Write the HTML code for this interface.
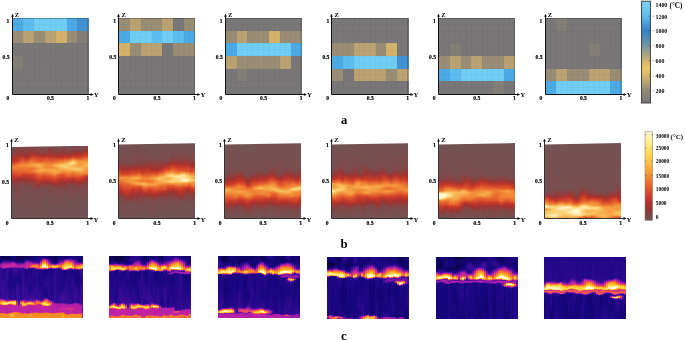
<!DOCTYPE html>
<html><head><meta charset="utf-8"><style>
html,body{margin:0;padding:0;background:#fff;width:685px;height:340px;overflow:hidden;position:relative}
svg{display:block;position:absolute;left:0;top:0;will-change:transform}
.im{position:absolute;display:flex}
.im i{display:block;width:var(--w);height:100%;flex:none}
</style></head><body>
<div class="im" style="left:12px;top:146px;width:76px;height:72px;--w:2px;clip-path:polygon(0 1.10px,76px -0.20px,76px 100%,0 100%);"><i style="background:linear-gradient(#725355 0px,#814647 7.5px,#a1302e 10.5px,#b2332b 12.5px,#bd352a 15.5px,#d64829 17.5px,#ef7e33 20.5px,#f07f34 22.5px,#e35b2b 25.5px,#ca3928 30.5px,#9b3432 34.5px,#844444 38.5px,#725355 57.5px,#725355 72px)"></i><i style="background:linear-gradient(#725355 0px,#884141 7.5px,#af332c 11.5px,#c33629 15.5px,#e6622c 18.5px,#f08235 20.5px,#ed7430 23.5px,#c83728 30.5px,#9a3533 34.5px,#7f4849 41.5px,#725355 63.5px,#725355 72px)"></i><i style="background:linear-gradient(#764f51 0px,#953837 8.5px,#bc352a 13.5px,#cb3b28 15.5px,#f07e33 19.5px,#ef7b32 22.5px,#d24329 29.5px,#a1302e 33.5px,#824646 39.5px,#725355 64.5px,#725355 72px)"></i><i style="background:linear-gradient(#794d4f 0px,#973635 8.5px,#c33629 12.5px,#d64829 15.5px,#f18636 19.5px,#e55f2c 26.5px,#c93828 30.5px,#9d3230 33.5px,#804748 39.5px,#725355 65.5px,#725355 72px)"></i><i style="background:linear-gradient(#784e4f 0px,#903b3a 6.5px,#ac322c 9.5px,#d54729 13.5px,#e7632d 16.5px,#f18938 19.5px,#e55e2c 26.5px,#c73728 30.5px,#9d3231 33.5px,#7e494a 38.5px,#725355 61.5px,#725355 72px)"></i><i style="background:linear-gradient(#794e4f 0px,#8f3c3c 6.5px,#ab322c 9.5px,#d04129 12.5px,#f18636 18.5px,#f18436 20.5px,#e7652d 25.5px,#c73828 29.5px,#9e3230 33.5px,#7b4c4d 39.5px,#725355 69.5px,#725355 72px)"></i><i style="background:linear-gradient(#7c4a4b 0px,#8f3c3b 8.5px,#b2332b 11.5px,#d94c29 14.5px,#f18837 18.5px,#f18737 20.5px,#e8672d 25.5px,#c43629 29.5px,#9c3331 34.5px,#7c4b4c 40.5px,#725355 65.5px,#725355 72px)"></i><i style="background:linear-gradient(#804748 0px,#963736 9.5px,#c83828 13.5px,#ef7c32 17.5px,#f3913b 19.5px,#ed7530 23.5px,#e55f2c 26.5px,#c83828 29.5px,#983634 35.5px,#7b4c4d 40.5px,#725355 72px)"></i><i style="background:linear-gradient(#7d4a4b 0px,#a7312d 9.5px,#cd3d28 12.5px,#f18737 17.5px,#f4973e 19.5px,#ed7430 22.5px,#ea6d2e 25.5px,#ca3928 29.5px,#ab322c 33.5px,#804748 38.5px,#725355 51.5px,#725355 72px)"></i><i style="background:linear-gradient(#7a4d4e 0px,#943938 6.5px,#b3332b 9.5px,#d94b29 12.5px,#f3913b 17.5px,#f59d40 19.5px,#ed7430 22.5px,#ed732f 25.5px,#cd3d28 29.5px,#b4342b 32.5px,#913b3a 35.5px,#7a4d4e 40.5px,#725355 72px)"></i><i style="background:linear-gradient(#784e4f 0px,#8b3f3f 5.5px,#a2302e 7.5px,#d44629 11.5px,#ed732f 15.5px,#f6a041 18.5px,#f6a344 19.5px,#ee7831 22.5px,#ef7b32 25.5px,#cd3d28 29.5px,#9e3230 34.5px,#7e494a 40.5px,#725355 65.5px,#725355 72px)"></i><i style="background:linear-gradient(#7d4a4b 0px,#8f3c3b 5.5px,#b1332b 8.5px,#da4d29 12.5px,#ea6c2e 15.5px,#f6a545 18.5px,#f7ab4b 19.5px,#f08335 22.5px,#f28b39 24.5px,#f18637 25.5px,#da4d29 28.5px,#af332c 34.5px,#874242 40.5px,#735254 49.5px,#725355 72px)"></i><i style="background:linear-gradient(#7d4a4b 0px,#913b3a 6.5px,#b3332b 9.5px,#dc4f2a 13.5px,#e6632c 15.5px,#f7a848 18.5px,#f8b151 19.5px,#f3903b 22.5px,#f59c40 24.5px,#f4953d 25.5px,#e35a2b 28.5px,#bc352a 34.5px,#983634 38.5px,#794d4f 44.5px,#725355 72px)"></i><i style="background:linear-gradient(#774f50 0px,#864343 5.5px,#a5312d 8.5px,#d44629 12.5px,#e45e2c 15.5px,#f28f3a 17.5px,#f7a848 18.5px,#f8b252 19.5px,#f59c40 22.5px,#f7a949 24.5px,#f28c39 26.5px,#e45d2c 29.5px,#c43629 34.5px,#963736 38.5px,#794d4f 44.5px,#725355 72px)"></i><i style="background:linear-gradient(#755152 0px,#8c3f3e 6.5px,#ac322c 9.5px,#d24329 12.5px,#e35a2b 15.5px,#f6a142 18.5px,#f7ab4b 19.5px,#f6a242 22.5px,#f7aa4a 24.5px,#e55f2c 29.5px,#c23629 34.5px,#973635 37.5px,#7a4c4e 42.5px,#725355 72px)"></i><i style="background:linear-gradient(#764f51 0px,#854343 6.5px,#a3312d 9.5px,#c63728 11.5px,#ec702f 16.5px,#f4973e 18.5px,#f6a444 24.5px,#e1562a 29.5px,#c33629 33.5px,#973735 36.5px,#7d4a4b 40.5px,#725355 60.5px,#725355 72px)"></i><i style="background:linear-gradient(#764f51 0px,#854343 6.5px,#a8312d 9.5px,#d74929 12.5px,#f28c39 18.5px,#f3923b 21.5px,#f6a242 23.5px,#f4953d 25.5px,#d74929 30.5px,#b6342b 34.5px,#913b3a 37.5px,#774f50 43.5px,#725355 72px)"></i><i style="background:linear-gradient(#765051 0px,#8c3f3e 6.5px,#ad322c 9.5px,#d84a29 12.5px,#f18436 18.5px,#f28b38 21.5px,#f6a141 24.5px,#ee7831 27.5px,#db4e2a 30.5px,#bd352a 34.5px,#9e312f 36.5px,#814647 39.5px,#725355 50.5px,#725355 72px)"></i><i style="background:linear-gradient(#7a4c4d 0px,#a4312d 8.5px,#ca3928 11.5px,#e7652d 15.5px,#f28a38 19.5px,#f18837 21.5px,#f6a444 24.5px,#f28d3a 26.5px,#dc4f2a 30.5px,#ca3928 33.5px,#9a3433 36.5px,#7f4848 39.5px,#725355 58.5px,#725355 72px)"></i><i style="background:linear-gradient(#7a4c4d 0px,#a6312d 9.5px,#d04029 12.5px,#ee7730 17.5px,#f3943c 19.5px,#f28a38 21.5px,#f7a949 24.5px,#f18637 27.5px,#df522a 30.5px,#cb3a28 33.5px,#9c3331 36.5px,#7f4849 40.5px,#725355 68.5px,#725355 72px)"></i><i style="background:linear-gradient(#755153 0px,#8f3c3c 6.5px,#a7312d 9.5px,#d04129 12.5px,#ef7d33 17.5px,#f6a143 19.5px,#f38f3a 21.5px,#f3903a 22.5px,#f7ab4b 24.5px,#f4953d 27.5px,#e45d2b 30.5px,#c93928 34.5px,#9b3332 37.5px,#7e494a 41.5px,#725355 62.5px,#725355 72px)"></i><i style="background:linear-gradient(#755152 0px,#913b3a 6.5px,#aa322d 9.5px,#c63728 11.5px,#ee7630 16.5px,#f8af4f 19.5px,#f3943c 22.5px,#f7ab4b 24.5px,#f59d40 27.5px,#e55f2c 30.5px,#c23629 35.5px,#9a3433 38.5px,#7c4a4b 42.5px,#725355 63.5px,#725355 72px)"></i><i style="background:linear-gradient(#784e50 0px,#943937 6.5px,#b5342b 10.5px,#d04029 12.5px,#ef7d33 16.5px,#f9b959 19.5px,#f59b3f 22.5px,#f7a747 25.5px,#f3943c 27.5px,#e6622c 29.5px,#c63729 34.5px,#9b3432 38.5px,#7f4849 42.5px,#725355 61.5px,#725355 72px)"></i><i style="background:linear-gradient(#745253 0px,#874242 6.5px,#a4312d 9.5px,#c33629 11.5px,#e8672d 14.5px,#f59b3f 17.5px,#fac262 19.5px,#f6a545 23.5px,#f4993e 26.5px,#e1562a 29.5px,#b5342b 34.5px,#993534 37.5px,#7b4c4d 43.5px,#725355 72px)"></i><i style="background:linear-gradient(#745253 0px,#884141 6.5px,#ae332c 10.5px,#d04129 12.5px,#ef7e33 15.5px,#f6a041 17.5px,#fbca6a 19.5px,#fabf5f 21.5px,#f6a041 24.5px,#f28e3a 26.5px,#e55f2c 28.5px,#c93828 32.5px,#9b3432 36.5px,#7c4a4b 42.5px,#725355 68.5px,#725355 72px)"></i><i style="background:linear-gradient(#7a4c4d 0px,#903b3a 5.5px,#ab322c 9.5px,#c23629 11.5px,#ea6c2e 14.5px,#f6a444 17.5px,#fccf6f 19.5px,#fcd172 20.5px,#f59b3f 24.5px,#f08034 26.5px,#e1562a 28.5px,#c93928 32.5px,#9f312f 36.5px,#7d4a4b 44.5px,#725355 65.5px,#725355 72px)"></i><i style="background:linear-gradient(#7b4c4d 0px,#8d3d3d 5.5px,#a8312d 8.5px,#cb3b28 11.5px,#ee7730 14.5px,#f8b050 17.5px,#fcce6e 19.5px,#fccc6c 21.5px,#f59c40 24.5px,#eb6e2f 27.5px,#e0552a 29.5px,#cc3c28 32.5px,#9f312f 36.5px,#7a4c4e 45.5px,#725355 72px)"></i><i style="background:linear-gradient(#755153 0px,#884141 6.5px,#aa322d 9.5px,#c93828 11.5px,#ed7530 14.5px,#f7a747 16.5px,#fbc868 18.5px,#fbca6a 21.5px,#f4993e 25.5px,#e7652d 29.5px,#cd3d28 32.5px,#9f322f 35.5px,#844444 39.5px,#725355 57.5px,#725355 72px)"></i><i style="background:linear-gradient(#755152 0px,#864242 6.5px,#a6312d 9.5px,#c93928 11.5px,#ef7b32 14.5px,#f49a3f 15.5px,#fccd6e 17.5px,#fcd070 18.5px,#fac363 20.5px,#fac161 22.5px,#f28b38 26.5px,#e45c2b 30.5px,#c93928 32.5px,#9c3331 35.5px,#834545 38.5px,#725355 57.5px,#725355 72px)"></i><i style="background:linear-gradient(#774f51 0px,#844444 5.5px,#a1312e 8.5px,#c43629 10.5px,#e2592b 12.5px,#f3943c 14.5px,#fccf72 16.5px,#fddb8a 17.5px,#fac161 19.5px,#f9bc5c 23.5px,#f18536 26.5px,#e2572a 30.5px,#c73728 32.5px,#a0302e 35.5px,#824546 39.5px,#725355 54.5px,#725355 72px)"></i><i style="background:linear-gradient(#7a4c4d 0px,#8b3f3f 5.5px,#ab322c 8.5px,#cf3f29 10.5px,#e9682d 12.5px,#f7a949 14.5px,#fdd883 16.5px,#fddc8d 17.5px,#f9b858 19.5px,#f9b656 20.5px,#fbc666 22.5px,#fac161 23.5px,#f3943c 25.5px,#ec722f 27.5px,#dd502a 30.5px,#c03629 32.5px,#9b3332 35.5px,#7f4849 39.5px,#725355 62.5px,#725355 72px)"></i><i style="background:linear-gradient(#7d4a4b 0px,#8c3e3e 5.5px,#a9322d 8.5px,#cb3b28 10.5px,#e45d2c 12.5px,#f59f41 14.5px,#f9ba5a 15.5px,#fbc969 16.5px,#fbca6a 17.5px,#f7aa4a 19.5px,#f9bd5d 21.5px,#fbc767 22.5px,#fac464 23.5px,#f4973d 25.5px,#ee7831 27.5px,#e96a2e 29.5px,#cb3b28 32.5px,#a4312d 35.5px,#814647 39.5px,#725355 61.5px,#725355 72px)"></i><i style="background:linear-gradient(#794d4e 0px,#8c3e3d 5.5px,#aa322c 8.5px,#c83828 10.5px,#df532a 12.5px,#f6a445 15.5px,#f8ae4e 17.5px,#f59e41 19.5px,#f9b858 21.5px,#fbc767 22.5px,#fbc969 23.5px,#f6a243 25.5px,#f08335 27.5px,#e2582a 30.5px,#c03629 33.5px,#9c3331 36.5px,#824646 40.5px,#725355 56.5px,#725355 72px)"></i><i style="background:linear-gradient(#755052 0px,#834545 4.5px,#a8312d 7.5px,#d34529 11.5px,#e8682d 13.5px,#f4983e 15.5px,#f59d40 17.5px,#f59a3f 19.5px,#f8b353 21.5px,#fbc868 23.5px,#f4993e 26.5px,#ea6b2e 29.5px,#ce3e28 32.5px,#a2302e 36.5px,#814647 41.5px,#725355 52.5px,#725355 72px)"></i><i style="background:linear-gradient(#745254 0px,#804848 4.5px,#a4312d 7.5px,#cb3b28 10.5px,#df532a 12.5px,#f4983e 15.5px,#f59e40 19.5px,#fac060 23.5px,#f28c39 27.5px,#de512a 30.5px,#b7342b 34.5px,#953837 37.5px,#7f4849 41.5px,#725355 57.5px,#725355 72px)"></i><i style="background:linear-gradient(#784e50 0px,#894040 4.5px,#aa322c 7.5px,#c43629 9.5px,#ea6d2e 13.5px,#f4983e 15.5px,#f7a949 20.5px,#f8b252 23.5px,#f18737 27.5px,#d74929 30.5px,#be3529 33.5px,#9a3433 36.5px,#804747 40.5px,#725355 61.5px,#725355 72px)"></i><i style="background:linear-gradient(#7c4b4c 0px,#8a403f 3.5px,#a6312d 5.5px,#ce3e28 9.5px,#e9682e 12.5px,#f18837 14.5px,#f59c3f 15.5px,#f7a848 18.5px,#f8b454 19.5px,#f6a344 22.5px,#f59d40 24.5px,#f08335 27.5px,#d04029 30.5px,#ae322c 33.5px,#874242 37.5px,#745253 50.5px,#725355 72px)"></i><i style="background:linear-gradient(#784e50 0px,#844444 3.5px,#a5312d 5.5px,#cf3f29 9.5px,#e9692e 12.5px,#f18436 14.5px,#f6a444 16.5px,#f7ac4c 18.5px,#f9ba5a 19.5px,#f6a142 21.5px,#f28c39 26.5px,#f08034 27.5px,#c63728 30.5px,#9a3533 33.5px,#824646 36.5px,#725355 59.5px,#725355 72px)"></i></div><div class="im" style="left:119px;top:143px;width:76px;height:76px;--w:2px;clip-path:polygon(0 1.50px,76px 0.20px,76px 100%,0 100%);"><i style="background:linear-gradient(#725355 0px,#804748 19.5px,#a4312d 24.5px,#d14229 29.5px,#dc4f2a 31.5px,#f28d39 34.5px,#f38f3a 35.5px,#e35a2b 40.5px,#c83728 45.5px,#9e312f 50.5px,#7e4949 54.5px,#725355 76px)"></i><i style="background:linear-gradient(#725355 0px,#7f4849 19.5px,#a6312d 26.5px,#d04029 30.5px,#e55e2c 32.5px,#f28e3a 34.5px,#f3913b 35.5px,#e2572a 41.5px,#bd352a 47.5px,#a2312e 50.5px,#824646 53.5px,#735354 70.5px,#725355 76px)"></i><i style="background:linear-gradient(#725355 0px,#7e494a 20.5px,#a4312d 26.5px,#cb3a28 29.5px,#d94c29 31.5px,#f28e3a 34.5px,#f28b39 36.5px,#e2582b 42.5px,#be352a 49.5px,#983634 52.5px,#7c4a4b 57.5px,#725355 76px)"></i><i style="background:linear-gradient(#725355 0px,#7d4a4b 19.5px,#9e312f 25.5px,#cc3c28 29.5px,#da4c29 31.5px,#f28d3a 34.5px,#f18737 38.5px,#e5602c 41.5px,#d24329 46.5px,#b9342a 50.5px,#953837 54.5px,#794d4e 60.5px,#725355 76px)"></i><i style="background:linear-gradient(#725355 0px,#7f4849 20.5px,#a7312d 26.5px,#d04129 30.5px,#e55f2c 32.5px,#f28e3a 34.5px,#f3913b 38.5px,#e6632d 41.5px,#c73728 48.5px,#973635 54.5px,#794d4e 60.5px,#725355 76px)"></i><i style="background:linear-gradient(#725355 0px,#7c4b4c 20.5px,#9e3230 25.5px,#cf4029 29.5px,#dc4f2a 31.5px,#f3933c 34.5px,#f4973e 38.5px,#e6612c 42.5px,#c83828 47.5px,#9b3332 53.5px,#784e50 60.5px,#725355 76px)"></i><i style="background:linear-gradient(#725355 0px,#7d4a4b 20.5px,#963736 24.5px,#ba352a 27.5px,#e0542a 31.5px,#f59b3f 34.5px,#f6a243 35.5px,#f4963d 39.5px,#da4c29 44.5px,#c43629 46.5px,#9b3332 52.5px,#764f51 60.5px,#725355 76px)"></i><i style="background:linear-gradient(#725355 0px,#7d4a4a 19.5px,#9e3230 24.5px,#c93828 28.5px,#e1552a 31.5px,#f6a041 34.5px,#f7a949 35.5px,#f4963d 37.5px,#f59e40 39.5px,#f4973e 40.5px,#e1552a 43.5px,#c13629 46.5px,#993534 53.5px,#765051 61.5px,#725355 76px)"></i><i style="background:linear-gradient(#725355 0px,#834545 20.5px,#ac322c 26.5px,#d04129 29.5px,#e45b2b 31.5px,#f7a747 34.5px,#f7ad4d 35.5px,#f3903b 37.5px,#f6a041 40.5px,#f3903b 41.5px,#e35a2b 43.5px,#c93928 46.5px,#9a3433 52.5px,#765052 61.5px,#725355 76px)"></i><i style="background:linear-gradient(#725355 0px,#874242 20.5px,#a7312d 25.5px,#cd3e28 28.5px,#e9692e 31.5px,#f7a747 34.5px,#f7a848 35.5px,#f18837 37.5px,#f6a444 40.5px,#f4953d 41.5px,#e2582b 43.5px,#c73728 46.5px,#993533 51.5px,#764f51 61.5px,#725355 76px)"></i><i style="background:linear-gradient(#725355 0px,#7f4949 18.5px,#a1302e 24.5px,#cc3c28 28.5px,#e6622c 31.5px,#f59a3f 34.5px,#f59c40 35.5px,#f08134 37.5px,#f18637 38.5px,#f7a646 40.5px,#f4993e 41.5px,#e35a2b 43.5px,#c63728 46.5px,#9b3332 50.5px,#824646 55.5px,#725355 72.5px,#725355 76px)"></i><i style="background:linear-gradient(#725355 0px,#7e494a 19.5px,#a4312d 25.5px,#cb3a28 29.5px,#e7632d 32.5px,#f18737 34.5px,#f38f3a 35.5px,#ef7c32 37.5px,#f08235 38.5px,#f8ae4e 40.5px,#f7a848 41.5px,#eb6d2e 43.5px,#da4d29 45.5px,#b9342a 48.5px,#933938 52.5px,#7a4c4d 59.5px,#725355 76px)"></i><i style="background:linear-gradient(#725355 0px,#7f4849 18.5px,#a0302e 24.5px,#cc3b28 29.5px,#ef7c33 34.5px,#f18737 35.5px,#ef7a31 37.5px,#ef7e33 38.5px,#f8b050 40.5px,#f8b151 41.5px,#eb6e2f 44.5px,#ca3928 48.5px,#a3312d 51.5px,#824646 55.5px,#725355 71.5px,#725355 76px)"></i><i style="background:linear-gradient(#725355 0px,#7d4a4b 17.5px,#913b3a 22.5px,#ac322c 25.5px,#d24329 29.5px,#f18436 35.5px,#ef7a32 38.5px,#f7a747 40.5px,#f8ae4e 41.5px,#e55f2c 45.5px,#c03629 49.5px,#963736 52.5px,#7d494a 56.5px,#725355 76px)"></i><i style="background:linear-gradient(#725355 0px,#7b4b4c 16.5px,#9a3433 22.5px,#ca3a28 28.5px,#ef7c32 34.5px,#f18536 35.5px,#ee7630 38.5px,#f59d40 40.5px,#f6a444 41.5px,#f07f33 43.5px,#d54729 46.5px,#b9342a 49.5px,#933938 52.5px,#7b4c4d 58.5px,#725355 76px)"></i><i style="background:linear-gradient(#725355 0px,#7c4a4b 17.5px,#9a3432 23.5px,#b8342a 27.5px,#e2572a 31.5px,#f28c39 35.5px,#ee7630 38.5px,#f59f41 41.5px,#f3903b 42.5px,#db4d29 45.5px,#c83728 47.5px,#9c3332 51.5px,#7d4a4a 56.5px,#725355 76px)"></i><i style="background:linear-gradient(#725355 0px,#7a4c4d 15.5px,#a7312d 26.5px,#cf4029 29.5px,#f07f34 33.5px,#f4963d 35.5px,#ef7d33 38.5px,#f59f41 41.5px,#f3913b 42.5px,#de512a 45.5px,#c73828 48.5px,#9d3331 52.5px,#7c4a4b 57.5px,#725355 76px)"></i><i style="background:linear-gradient(#725355 0px,#7a4c4d 15.5px,#a7312d 25.5px,#b4332b 27.5px,#dc4e2a 30.5px,#f59b3f 34.5px,#f6a243 35.5px,#f28a38 38.5px,#f6a041 41.5px,#e35b2b 45.5px,#c83728 49.5px,#9e3130 53.5px,#7e494a 58.5px,#725355 76px)"></i><i style="background:linear-gradient(#735354 0px,#7a4c4e 16.5px,#a2312e 26.5px,#cd3d28 29.5px,#eb6e2f 32.5px,#f6a242 34.5px,#f8af4f 35.5px,#f4983e 38.5px,#f59d40 41.5px,#e96a2e 44.5px,#c13629 49.5px,#9c3331 52.5px,#7e494a 57.5px,#725355 76px)"></i><i style="background:linear-gradient(#735254 0px,#794d4e 16.5px,#a4312d 26.5px,#c13629 28.5px,#e6612c 31.5px,#f3943c 33.5px,#f8af4f 34.5px,#fabe5e 35.5px,#f6a142 39.5px,#f4953d 41.5px,#e8672d 44.5px,#ca3a28 48.5px,#a0302e 51.5px,#7f4949 55.5px,#735355 69.5px,#725355 76px)"></i><i style="background:linear-gradient(#725355 0px,#794d4e 16.5px,#a8312d 25.5px,#ce3e28 28.5px,#ed7430 31.5px,#f6a545 33.5px,#f9bd5d 34.5px,#fbc666 35.5px,#f59b3f 40.5px,#e9682d 43.5px,#da4d29 46.5px,#b8342a 49.5px,#943837 52.5px,#794d4e 56.5px,#725355 76px)"></i><i style="background:linear-gradient(#725355 0px,#7a4c4e 16.5px,#a8312d 24.5px,#c73828 27.5px,#ea6c2e 30.5px,#f3933c 32.5px,#fabf5f 34.5px,#fabd5d 36.5px,#f7a949 39.5px,#e7652d 43.5px,#d94b29 46.5px,#be352a 48.5px,#993533 51.5px,#7c4b4b 55.5px,#725355 74.5px,#725355 76px)"></i><i style="background:linear-gradient(#725355 0px,#794d4e 16.5px,#a6312d 22.5px,#cc3c28 26.5px,#e1562a 28.5px,#f6a345 32.5px,#f9b959 33.5px,#fac060 34.5px,#f9b757 38.5px,#f4973e 40.5px,#eb6e2f 42.5px,#da4c29 46.5px,#bb352a 48.5px,#983534 51.5px,#7e494a 55.5px,#725355 71.5px,#725355 76px)"></i><i style="background:linear-gradient(#725355 0px,#784e50 17.5px,#953836 21.5px,#b0332c 23.5px,#d24329 26.5px,#e8662d 28.5px,#f4963d 30.5px,#f6a545 31.5px,#fbc767 33.5px,#f8b050 35.5px,#f9bb5b 38.5px,#f4973d 40.5px,#e96a2e 42.5px,#d64829 46.5px,#b9342a 48.5px,#963736 52.5px,#7a4c4e 58.5px,#725355 76px)"></i><i style="background:linear-gradient(#725355 0px,#7a4d4e 17.5px,#9a3533 21.5px,#ce3f29 25.5px,#e2572a 27.5px,#f6a445 30.5px,#fbcc6c 32.5px,#fcd071 33.5px,#f7ac4c 35.5px,#fac161 37.5px,#fac060 38.5px,#f8af4f 39.5px,#ed7430 41.5px,#dd502a 43.5px,#c33729 46.5px,#9b3432 49.5px,#7a4c4d 58.5px,#725355 76px)"></i><i style="background:linear-gradient(#725355 0px,#7e494a 15.5px,#ab322c 21.5px,#d64729 25.5px,#e6612c 27.5px,#f8ae4e 30.5px,#fcd57d 32.5px,#fcd57c 33.5px,#fac060 34.5px,#f8b151 35.5px,#fbc969 37.5px,#fbca6a 38.5px,#f9b858 39.5px,#f4973d 40.5px,#e55f2c 42.5px,#bd352a 46.5px,#943937 49.5px,#7a4d4e 56.5px,#725355 76px)"></i><i style="background:linear-gradient(#735354 0px,#804748 14.5px,#aa322c 20.5px,#ce3f29 23.5px,#ea6b2e 27.5px,#f8af4f 30.5px,#fdd782 32.5px,#fdd987 33.5px,#fbca6a 34.5px,#fabf5f 35.5px,#fcd376 38.5px,#fabf5f 39.5px,#f59b3f 40.5px,#e7632d 42.5px,#cb3b28 45.5px,#9c3331 48.5px,#7b4b4c 55.5px,#725355 76px)"></i><i style="background:linear-gradient(#735254 0px,#804748 14.5px,#ab322c 20.5px,#cf3f29 23.5px,#e96b2e 27.5px,#f7a747 30.5px,#fcd67e 32.5px,#fdde92 33.5px,#fcce70 35.5px,#fccf6f 36.5px,#fcd57b 37.5px,#fcd47a 38.5px,#fabf5f 39.5px,#f59c40 40.5px,#e7652d 42.5px,#c73728 45.5px,#9b3432 48.5px,#794d4e 57.5px,#725355 76px)"></i><i style="background:linear-gradient(#725355 0px,#7e4949 14.5px,#a2312e 20.5px,#d04129 24.5px,#eb6e2e 28.5px,#f59a3f 30.5px,#f9b555 31.5px,#fcd479 32.5px,#fde19a 33.5px,#fdd986 35.5px,#fcd47b 36.5px,#fcd275 38.5px,#f59e40 40.5px,#e45c2b 43.5px,#c63828 46.5px,#9d3231 50.5px,#7d4a4b 56.5px,#725355 74.5px,#725355 76px)"></i><i style="background:linear-gradient(#725355 0px,#7f4949 15.5px,#9c3331 20.5px,#cb3a28 24.5px,#de522a 27.5px,#f3943c 30.5px,#f8b454 31.5px,#fcd47b 32.5px,#fee39f 33.5px,#fee4a2 34.5px,#fcd173 38.5px,#f6a142 40.5px,#df532a 44.5px,#c33629 47.5px,#9b3432 51.5px,#7d4a4b 56.5px,#725355 76px)"></i><i style="background:linear-gradient(#725355 0px,#7f4849 14.5px,#a3302e 20.5px,#cd3d28 24.5px,#df522a 27.5px,#ef7e33 29.5px,#f59d40 30.5px,#fddb8b 32.5px,#fee5a4 33.5px,#fde098 37.5px,#fcd47b 38.5px,#f59e40 40.5px,#e0532a 44.5px,#c63728 47.5px,#963736 52.5px,#764f51 59.5px,#725355 76px)"></i><i style="background:linear-gradient(#725355 0px,#814647 14.5px,#a8312d 21.5px,#cc3c28 24.5px,#e1552a 27.5px,#e96a2e 28.5px,#f8af4f 30.5px,#fcd173 31.5px,#fde29d 32.5px,#fee6a6 33.5px,#fee39f 34.5px,#feeeb9 36.5px,#feedb7 37.5px,#fddc8d 38.5px,#f9bc5c 39.5px,#f49a3f 40.5px,#dd502a 44.5px,#c53628 47.5px,#993534 53.5px,#774f50 59.5px,#725355 76px)"></i><i style="background:linear-gradient(#725355 0px,#824546 16.5px,#a4312d 21.5px,#cc3c28 24.5px,#df532a 27.5px,#e9682d 28.5px,#f28c39 29.5px,#fcd276 31.5px,#fde199 32.5px,#fde098 34.5px,#fff6cc 36.5px,#fff6cd 37.5px,#fde39e 38.5px,#fac060 39.5px,#f4983e 40.5px,#eb6f2f 42.5px,#ca3a28 45.5px,#9b3332 51.5px,#765051 59.5px,#725355 76px)"></i><i style="background:linear-gradient(#725355 0px,#7e494a 14.5px,#a0312f 20.5px,#ce3e28 24.5px,#db4e2a 27.5px,#e55f2c 28.5px,#f6a545 30.5px,#fcd47b 32.5px,#fdda88 34.5px,#fee4a1 35.5px,#fff4c7 36.5px,#fff5ca 37.5px,#fde098 38.5px,#fabd5d 39.5px,#f4953d 40.5px,#ef7a32 41.5px,#e3592b 43.5px,#c03629 45.5px,#983635 49.5px,#755152 58.5px,#725355 76px)"></i><i style="background:linear-gradient(#725355 0px,#7c4b4c 13.5px,#983634 18.5px,#b9342a 22.5px,#d84a29 25.5px,#dc4f2a 27.5px,#e45d2b 28.5px,#f4993e 30.5px,#fac464 32.5px,#fcd275 34.5px,#fddb8b 35.5px,#feeab0 36.5px,#feebb2 37.5px,#fcd57c 38.5px,#f8ae4e 39.5px,#f18938 40.5px,#e6602c 42.5px,#cb3b28 44.5px,#a3312e 47.5px,#834545 52.5px,#735254 63.5px,#725355 76px)"></i><i style="background:linear-gradient(#725355 0px,#804748 15.5px,#a7312d 22.5px,#cc3c28 25.5px,#db4e2a 28.5px,#f4963d 31.5px,#fac464 33.5px,#fccd6d 35.5px,#fddc8d 36.5px,#fddc8d 37.5px,#f59e40 39.5px,#ea6c2e 41.5px,#cd3d28 44.5px,#a1312e 48.5px,#834545 53.5px,#735254 64.5px,#725355 76px)"></i><i style="background:linear-gradient(#725355 0px,#7f4849 16.5px,#993534 22.5px,#cb3b28 26.5px,#d74929 28.5px,#f28a38 31.5px,#f9b959 33.5px,#f9ba5a 35.5px,#fccd6e 36.5px,#fccf70 37.5px,#f59e41 39.5px,#e55e2c 43.5px,#cd3d28 45.5px,#a6312d 48.5px,#834445 52.5px,#735354 67.5px,#725355 76px)"></i><i style="background:linear-gradient(#725355 0px,#804747 17.5px,#953836 21.5px,#b3332b 23.5px,#d24329 25.5px,#e0542a 28.5px,#ef7d33 30.5px,#f59c40 32.5px,#f8b050 33.5px,#f7ad4d 35.5px,#fac060 36.5px,#fac363 37.5px,#f59e40 39.5px,#ef7c32 42.5px,#de512a 44.5px,#c43629 47.5px,#983635 50.5px,#7e494a 56.5px,#725355 76px)"></i></div><div class="im" style="left:225px;top:143px;width:76px;height:76px;--w:2px;clip-path:polygon(0 1.50px,76px 0.20px,76px 100%,0 100%);"><i style="background:linear-gradient(#725355 0px,#7a4c4d 32.5px,#923a39 36.5px,#b2332b 39.5px,#da4d29 42.5px,#ee7730 44.5px,#f7ad4d 46.5px,#f8b151 47.5px,#ef7e33 51.5px,#d34429 57.5px,#af332c 61.5px,#854343 66.5px,#725355 76px)"></i><i style="background:linear-gradient(#725355 0px,#7a4d4e 29.5px,#9f3230 37.5px,#cc3c28 41.5px,#ee7831 44.5px,#f7ab4b 46.5px,#f6a444 48.5px,#ef7b32 51.5px,#cf3f29 57.5px,#9e3230 62.5px,#7e494a 67.5px,#725355 76px)"></i><i style="background:linear-gradient(#725355 0px,#7b4b4c 28.5px,#a5312d 36.5px,#cd3d28 41.5px,#e45d2b 43.5px,#f3933c 45.5px,#f6a444 46.5px,#f3923c 49.5px,#dc4f2a 55.5px,#be3529 58.5px,#943938 62.5px,#7e4949 66.5px,#735354 76px)"></i><i style="background:linear-gradient(#725355 0px,#794d4e 28.5px,#a4312d 36.5px,#cf3f29 41.5px,#ed7430 44.5px,#f59a3f 46.5px,#f3903b 49.5px,#e6612c 54.5px,#c23629 58.5px,#a0312f 61.5px,#814647 65.5px,#735254 76px)"></i><i style="background:linear-gradient(#725355 0px,#784e4f 29.5px,#993533 35.5px,#cb3a28 40.5px,#e7652d 43.5px,#f3933c 46.5px,#f3933c 49.5px,#ee7831 53.5px,#c63728 58.5px,#973635 62.5px,#804748 66.5px,#735254 76px)"></i><i style="background:linear-gradient(#725355 0px,#7a4c4d 28.5px,#a6312d 35.5px,#cd3d28 39.5px,#e6622c 42.5px,#f08134 44.5px,#f59d40 48.5px,#ef7931 53.5px,#cd3e28 57.5px,#a1302e 61.5px,#844444 64.5px,#735254 76px)"></i><i style="background:linear-gradient(#725355 0px,#794e4f 26.5px,#aa322d 34.5px,#cb3a28 38.5px,#eb6e2f 42.5px,#f18637 44.5px,#f18938 46.5px,#f6a343 48.5px,#f3933c 50.5px,#df522a 55.5px,#c83828 57.5px,#993533 61.5px,#804748 64.5px,#725355 76px)"></i><i style="background:linear-gradient(#725355 0px,#784e4f 26.5px,#9f312f 33.5px,#c93828 38.5px,#e45c2b 41.5px,#f18436 43.5px,#f18436 46.5px,#f6a646 48.5px,#f3933c 50.5px,#e2582b 54.5px,#c03629 57.5px,#a4312d 60.5px,#824646 63.5px,#725355 76px)"></i><i style="background:linear-gradient(#725355 0px,#7a4c4d 27.5px,#923a39 32.5px,#ae332c 35.5px,#c83728 38.5px,#e1562a 41.5px,#ef7d33 43.5px,#f08134 46.5px,#f6a343 48.5px,#f3933c 50.5px,#e1562a 54.5px,#bf3529 57.5px,#9c3331 61.5px,#7f4848 65.5px,#735254 76px)"></i><i style="background:linear-gradient(#725355 0px,#7c4b4c 28.5px,#923a39 33.5px,#b5342b 37.5px,#db4e2a 41.5px,#ec702f 43.5px,#f07f34 46.5px,#f59d40 48.5px,#f18837 52.5px,#d34529 56.5px,#c03629 58.5px,#9a3433 62.5px,#804848 67.5px,#745254 76px)"></i><i style="background:linear-gradient(#725355 0px,#7e4949 31.5px,#ad322c 38.5px,#ce3e28 41.5px,#e9682e 44.5px,#ef7b32 46.5px,#f4963d 48.5px,#f3923c 52.5px,#dc4f2a 56.5px,#c53628 59.5px,#9c3331 63.5px,#804747 68.5px,#735254 76px)"></i><i style="background:linear-gradient(#725355 0px,#7c4b4b 32.5px,#983634 38.5px,#b8342a 41.5px,#ca3928 42.5px,#e8682d 45.5px,#f18838 47.5px,#f4973d 51.5px,#ef7a32 54.5px,#d34429 57.5px,#b3332b 61.5px,#983634 64.5px,#794d4e 71.5px,#735254 76px)"></i><i style="background:linear-gradient(#725355 0px,#7d494a 31.5px,#a7312d 38.5px,#d14129 42.5px,#eb6f2f 45.5px,#f28a38 48.5px,#f3933c 51.5px,#e8662d 55.5px,#c43629 58.5px,#9b3332 63.5px,#7e494a 69.5px,#735254 76px)"></i><i style="background:linear-gradient(#725355 0px,#7b4b4c 29.5px,#913b3a 33.5px,#ab322c 36.5px,#d14229 40.5px,#df532a 42.5px,#f08034 45.5px,#f28a38 51.5px,#df532a 55.5px,#c43729 57.5px,#993534 61.5px,#7b4c4d 70.5px,#745254 76px)"></i><i style="background:linear-gradient(#725355 0px,#7b4c4d 29.5px,#953837 33.5px,#ad322c 35.5px,#d34529 39.5px,#e6622c 42.5px,#f28a38 44.5px,#f38f3a 46.5px,#f08235 49.5px,#f07f34 51.5px,#e35b2b 53.5px,#cd3d28 56.5px,#a3312e 59.5px,#814647 64.5px,#745153 76px)"></i><i style="background:linear-gradient(#725355 0px,#7a4c4d 28.5px,#913a39 33.5px,#b1332b 36.5px,#d14229 39.5px,#e1562a 41.5px,#f59c3f 44.5px,#f6a344 45.5px,#f08134 48.5px,#ef7b32 51.5px,#e35a2b 53.5px,#c83828 57.5px,#9b3432 60.5px,#7e494a 64.5px,#735254 76px)"></i><i style="background:linear-gradient(#725355 0px,#794d4e 27.5px,#963736 33.5px,#bd352a 37.5px,#dc502a 40.5px,#ed7330 42.5px,#f7aa4a 44.5px,#f8b252 45.5px,#f28a38 47.5px,#f08335 49.5px,#ee7831 51.5px,#e2572a 53.5px,#c83828 57.5px,#9e3130 60.5px,#7b4b4c 66.5px,#725355 76px)"></i><i style="background:linear-gradient(#725355 0px,#7b4c4d 27.5px,#963736 32.5px,#b8342a 35.5px,#d14129 38.5px,#ea6b2e 41.5px,#f59b3f 43.5px,#f8b353 44.5px,#f9b757 45.5px,#f28c39 47.5px,#f18837 49.5px,#f18837 50.5px,#e2572a 53.5px,#c53629 57.5px,#9f312f 60.5px,#794d4e 67.5px,#725355 76px)"></i><i style="background:linear-gradient(#725355 0px,#7c4b4b 28.5px,#943938 32.5px,#b5342b 35.5px,#cf3f29 38.5px,#ea6b2e 41.5px,#f59a3f 43.5px,#f8b151 44.5px,#f9b656 45.5px,#f38f3a 47.5px,#f28b39 50.5px,#dd502a 54.5px,#bb352a 58.5px,#963736 62.5px,#774f51 69.5px,#735254 76px)"></i><i style="background:linear-gradient(#725355 0px,#7b4b4c 28.5px,#953837 32.5px,#b4342b 35.5px,#d04129 38.5px,#ec702f 41.5px,#f7ac4c 44.5px,#f8b050 45.5px,#f3923b 47.5px,#f28b39 50.5px,#d04129 55.5px,#a7312d 59.5px,#7c4a4b 67.5px,#745153 76px)"></i><i style="background:linear-gradient(#725355 0px,#7d4a4b 28.5px,#963736 32.5px,#be352a 36.5px,#de522a 39.5px,#f59e40 43.5px,#f7ac4c 45.5px,#f28d39 48.5px,#f18536 51.5px,#db4e2a 54.5px,#c23629 56.5px,#9d3230 59.5px,#7f4849 64.5px,#745153 76px)"></i><i style="background:linear-gradient(#725355 0px,#7e494a 28.5px,#963736 32.5px,#c43729 36.5px,#e45b2b 39.5px,#f6a343 43.5px,#f8ae4e 45.5px,#f18536 49.5px,#ef7e33 52.5px,#d04129 55.5px,#af332c 58.5px,#874242 62.5px,#745253 70.5px,#725355 76px)"></i><i style="background:linear-gradient(#725355 0px,#7b4b4c 25.5px,#903b3a 30.5px,#b4342b 33.5px,#d24329 36.5px,#ef7931 40.5px,#f7a848 43.5px,#f8b353 45.5px,#f6a041 47.5px,#ef7c32 49.5px,#ec722f 52.5px,#cd3d28 55.5px,#9a3432 60.5px,#7c4b4c 64.5px,#725355 76px)"></i><i style="background:linear-gradient(#725355 0px,#784e4f 23.5px,#983634 30.5px,#c53629 34.5px,#eb6e2f 39.5px,#f7ab4b 43.5px,#f9b656 46.5px,#f28d39 48.5px,#e8672d 50.5px,#df532a 53.5px,#c73728 55.5px,#a0302e 59.5px,#7b4c4d 64.5px,#735254 76px)"></i><i style="background:linear-gradient(#725355 0px,#7a4d4e 23.5px,#8f3c3b 30.5px,#ac322c 33.5px,#d34429 36.5px,#f28e3a 41.5px,#f9bb5b 46.5px,#f8b151 47.5px,#ef7931 49.5px,#e55e2c 51.5px,#ca3a28 55.5px,#a0312f 60.5px,#7e494a 64.5px,#735355 76px)"></i><i style="background:linear-gradient(#725355 0px,#7b4b4c 24.5px,#8c3e3d 31.5px,#aa322c 34.5px,#ca3a28 36.5px,#ec712f 40.5px,#f7ab4b 45.5px,#f9ba5a 46.5px,#f9bc5c 47.5px,#f18837 49.5px,#eb6d2e 50.5px,#c83728 56.5px,#9d3231 61.5px,#7d494a 65.5px,#725355 76px)"></i><i style="background:linear-gradient(#725355 0px,#814747 30.5px,#ad322c 35.5px,#d74929 38.5px,#ef7c32 43.5px,#f69f41 45.5px,#fac161 47.5px,#f9b858 48.5px,#f59a3f 49.5px,#ef7e33 50.5px,#ce3f29 56.5px,#9c3331 61.5px,#7e4949 66.5px,#735254 76px)"></i><i style="background:linear-gradient(#725355 0px,#7e4949 31.5px,#9c3331 35.5px,#ce3e28 38.5px,#e45e2c 42.5px,#f3943c 45.5px,#fabd5d 47.5px,#fabd5d 48.5px,#f3903b 50.5px,#df522a 55.5px,#c93828 57.5px,#a0312e 60.5px,#834545 64.5px,#735254 76px)"></i><i style="background:linear-gradient(#725355 0px,#7b4b4c 30.5px,#a03230 35.5px,#d04129 38.5px,#e45c2b 42.5px,#f69f41 46.5px,#f9b656 47.5px,#fabd5d 48.5px,#f28b39 51.5px,#df522a 55.5px,#c83728 57.5px,#a0302e 60.5px,#824646 65.5px,#735254 76px)"></i><i style="background:linear-gradient(#725355 0px,#7d4a4b 28.5px,#9a3533 32.5px,#c53728 36.5px,#e1562a 39.5px,#e8662d 42.5px,#f59a3f 46.5px,#f9bc5c 48.5px,#f6a041 50.5px,#dd502a 55.5px,#c83728 57.5px,#9a3533 61.5px,#7f4849 66.5px,#735254 76px)"></i><i style="background:linear-gradient(#725355 0px,#7c4a4b 24.5px,#923a39 30.5px,#b2332b 34.5px,#c93928 36.5px,#e6622c 40.5px,#f28c39 45.5px,#f9bc5c 48.5px,#f8b555 49.5px,#f28e3a 51.5px,#dc4f2a 55.5px,#c73728 57.5px,#a1302e 60.5px,#814747 64.5px,#735254 76px)"></i><i style="background:linear-gradient(#725355 0px,#7c4b4b 25.5px,#8c3f3e 29.5px,#a9322d 32.5px,#cb3a28 36.5px,#ea6b2e 41.5px,#f4953d 45.5px,#f9b656 47.5px,#f8b151 49.5px,#f3913b 51.5px,#de512a 55.5px,#c93828 57.5px,#a1302e 60.5px,#824646 64.5px,#735254 76px)"></i><i style="background:linear-gradient(#725355 0px,#7a4c4d 26.5px,#8c3e3d 30.5px,#ac322c 33.5px,#d34429 37.5px,#ee7731 42.5px,#f28f3a 44.5px,#f9b959 46.5px,#fabd5d 47.5px,#f3933c 51.5px,#ef7b32 53.5px,#d64729 56.5px,#b3332b 59.5px,#953837 62.5px,#7c4a4b 67.5px,#745254 76px)"></i><i style="background:linear-gradient(#725355 0px,#7b4c4d 26.5px,#923a39 31.5px,#ae322c 34.5px,#d14229 37.5px,#ef7931 41.5px,#f18837 43.5px,#f59d40 44.5px,#f9bc5c 45.5px,#fbcc6c 46.5px,#f8ae4e 48.5px,#f3933c 50.5px,#f28d3a 52.5px,#e0532a 55.5px,#bb352a 59.5px,#993534 62.5px,#7c4b4b 67.5px,#735254 76px)"></i><i style="background:linear-gradient(#725355 0px,#794d4e 26.5px,#983635 32.5px,#c53728 36.5px,#e35b2b 39.5px,#ef7931 41.5px,#f3903b 43.5px,#f7ad4d 44.5px,#fcce6e 45.5px,#fcd47b 46.5px,#f6a545 48.5px,#f28a38 50.5px,#f18737 52.5px,#db4d29 55.5px,#be352a 59.5px,#953836 63.5px,#7d4a4a 67.5px,#735254 76px)"></i><i style="background:linear-gradient(#725355 0px,#7b4c4d 28.5px,#993533 34.5px,#c53628 37.5px,#ec712f 41.5px,#f4963d 43.5px,#fcd378 45.5px,#fcd276 46.5px,#f59b3f 48.5px,#f28938 49.5px,#f08134 52.5px,#e2562a 54.5px,#cd3d28 58.5px,#9e312f 62.5px,#7e494a 67.5px,#735254 76px)"></i><i style="background:linear-gradient(#725355 0px,#7c4b4c 28.5px,#983634 34.5px,#c53728 37.5px,#ec712f 41.5px,#f08135 42.5px,#f59f41 43.5px,#fac363 44.5px,#fcd47a 45.5px,#fccc6c 46.5px,#f4973e 48.5px,#f08034 50.5px,#ef7a32 52.5px,#df522a 54.5px,#c93928 58.5px,#9b3432 61.5px,#794d4e 68.5px,#725355 76px)"></i><i style="background:linear-gradient(#725355 0px,#7b4c4d 26.5px,#923a39 30.5px,#aa322c 34.5px,#cf4029 37.5px,#ee7831 41.5px,#f18838 42.5px,#f7a848 43.5px,#fbc868 44.5px,#fcd274 45.5px,#fbc565 46.5px,#f7aa4a 47.5px,#f08335 49.5px,#ec712f 52.5px,#cf4029 55.5px,#b8342a 58.5px,#933938 60.5px,#784e50 66.5px,#735254 76px)"></i></div><div class="im" style="left:332px;top:143px;width:76px;height:76px;--w:2px;clip-path:polygon(0 1.50px,76px 0.20px,76px 100%,0 100%);"><i style="background:linear-gradient(#725355 0px,#7c4b4c 26.5px,#9a3533 33.5px,#ad322c 35.5px,#d34429 37.5px,#f3913b 40.5px,#f59f41 41.5px,#f4963d 43.5px,#f59b3f 44.5px,#f7ac4c 45.5px,#fdd985 47.5px,#fddd8f 48.5px,#fcd275 49.5px,#f6a142 51.5px,#e8662d 54.5px,#d14229 57.5px,#b3332b 59.5px,#953837 63.5px,#7a4c4d 69.5px,#735254 76px)"></i><i style="background:linear-gradient(#725355 0px,#7b4c4d 27.5px,#a3312e 33.5px,#cc3c28 36.5px,#ee7831 39.5px,#f59c40 41.5px,#f59e41 44.5px,#fcd57b 47.5px,#fcd67e 48.5px,#f6a142 51.5px,#e96a2e 54.5px,#d34429 57.5px,#b2332b 59.5px,#963736 62.5px,#7b4b4c 67.5px,#745253 76px)"></i><i style="background:linear-gradient(#725355 0px,#7a4c4d 25.5px,#9e3230 31.5px,#c73828 35.5px,#eb6e2f 38.5px,#f7a747 41.5px,#f7aa4a 44.5px,#fbcb6b 46.5px,#fccf70 47.5px,#f3923b 51.5px,#e6612c 54.5px,#d24329 57.5px,#b4332b 59.5px,#953837 62.5px,#7b4b4c 67.5px,#735254 76px)"></i><i style="background:linear-gradient(#725355 0px,#794d4e 22.5px,#8d3e3d 27.5px,#a9322d 31.5px,#cc3c28 35.5px,#f18536 39.5px,#f8b050 41.5px,#f9b959 42.5px,#f9b656 44.5px,#fccf6f 46.5px,#fbc969 47.5px,#f69f41 49.5px,#e2582a 54.5px,#cf3f29 57.5px,#a8312d 60.5px,#804747 65.5px,#735254 76px)"></i><i style="background:linear-gradient(#725355 0px,#7a4c4d 21.5px,#9c3331 29.5px,#b9342a 34.5px,#cf4029 36.5px,#ed7530 39.5px,#f9bc5c 42.5px,#fabd5d 44.5px,#fcd070 46.5px,#fac363 47.5px,#f4953d 49.5px,#d94b29 55.5px,#b7342b 58.5px,#943837 61.5px,#804747 65.5px,#735254 76px)"></i><i style="background:linear-gradient(#725355 0px,#7e494a 23.5px,#9d3230 32.5px,#c93828 36.5px,#e8672d 39.5px,#f59e40 41.5px,#f9b555 42.5px,#fbca6a 46.5px,#f7a848 48.5px,#e96a2e 52.5px,#d14229 55.5px,#a2302e 59.5px,#844444 63.5px,#735254 76px)"></i><i style="background:linear-gradient(#725355 0px,#7d4a4b 27.5px,#963736 31.5px,#af332c 33.5px,#d24329 36.5px,#f08034 40.5px,#f7ad4d 42.5px,#f9bc5c 46.5px,#f59d40 49.5px,#e55e2c 53.5px,#cd3d28 56.5px,#a2302e 60.5px,#834545 64.5px,#745153 76px)"></i><i style="background:linear-gradient(#725355 0px,#7b4c4d 28.5px,#933938 31.5px,#af332c 33.5px,#d24329 36.5px,#ee7731 40.5px,#f59f41 42.5px,#f7aa4a 48.5px,#ef7d33 52.5px,#e0542a 54.5px,#bc352a 58.5px,#9c3331 61.5px,#804848 66.5px,#745153 76px)"></i><i style="background:linear-gradient(#725355 0px,#7c4a4b 27.5px,#983634 31.5px,#c23629 35.5px,#e45d2b 39.5px,#f3933c 42.5px,#f7a848 49.5px,#f18436 52.5px,#e2572a 54.5px,#bb352a 59.5px,#9a3533 62.5px,#7b4b4c 68.5px,#745153 76px)"></i><i style="background:linear-gradient(#725355 0px,#7c4b4c 24.5px,#8a403f 29.5px,#a8312d 33.5px,#c83828 36.5px,#e2592b 39.5px,#f38f3a 42.5px,#f59a3f 45.5px,#f49a3f 47.5px,#f6a646 49.5px,#f18436 52.5px,#e2572a 54.5px,#c13629 59.5px,#983634 62.5px,#7c4b4c 66.5px,#745253 76px)"></i><i style="background:linear-gradient(#725355 0px,#7c4a4b 24.5px,#8c3e3e 29.5px,#a8312d 33.5px,#ce3e28 37.5px,#ea6b2e 40.5px,#f59d40 43.5px,#f59b3f 45.5px,#f4953d 47.5px,#f59c40 49.5px,#ee7931 52.5px,#de522a 54.5px,#bf3529 59.5px,#a0302e 61.5px,#814747 64.5px,#735254 76px)"></i><i style="background:linear-gradient(#725355 0px,#7d4a4b 24.5px,#8f3c3c 30.5px,#aa322c 33.5px,#cf3f29 36.5px,#eb6f2f 39.5px,#f6a042 42.5px,#f7a848 44.5px,#f3913b 46.5px,#f28d39 49.5px,#df522a 53.5px,#cc3c28 56.5px,#b7342b 59.5px,#913b3a 62.5px,#784e4f 67.5px,#735354 76px)"></i><i style="background:linear-gradient(#725355 0px,#7c4a4b 23.5px,#8d3d3d 30.5px,#ad322c 33.5px,#d74929 36.5px,#f28c39 39.5px,#f6a444 41.5px,#f7a949 44.5px,#f18838 47.5px,#ef7e33 49.5px,#d54729 53.5px,#c33629 56.5px,#9b3432 60.5px,#7f4949 63.5px,#725355 76px)"></i><i style="background:linear-gradient(#725355 0px,#804748 27.5px,#923a39 31.5px,#ac322c 33.5px,#d84a29 36.5px,#f28f3a 39.5px,#f59e40 41.5px,#f7a848 44.5px,#f18637 47.5px,#ef7e33 49.5px,#c93828 54.5px,#a4312d 59.5px,#814647 62.5px,#735254 73.5px,#725355 76px)"></i><i style="background:linear-gradient(#725355 0px,#7e4949 29.5px,#933938 32.5px,#b2332b 34.5px,#cf4029 36.5px,#f07f34 39.5px,#f7aa4a 44.5px,#f28e3a 46.5px,#f18637 49.5px,#d24329 53.5px,#c23629 56.5px,#a1312f 60.5px,#804747 64.5px,#735254 76px)"></i><i style="background:linear-gradient(#725355 0px,#7b4b4c 21.5px,#9e3331 32.5px,#c93928 36.5px,#ed732f 39.5px,#f8ae4e 44.5px,#f3923b 46.5px,#f3933c 49.5px,#d44629 53.5px,#c53629 56.5px,#a7312d 60.5px,#844444 65.5px,#745153 76px)"></i><i style="background:linear-gradient(#725355 0px,#7b4c4d 20.5px,#a9322d 32.5px,#cf3f29 36.5px,#ee7831 39.5px,#f59c40 42.5px,#f8b353 44.5px,#f4983e 46.5px,#f59e40 49.5px,#f28c39 50.5px,#e1552a 52.5px,#ca3a28 54.5px,#9b3432 60.5px,#804748 64.5px,#735254 76px)"></i><i style="background:linear-gradient(#725355 0px,#794d4e 21.5px,#9a3432 30.5px,#ca3a28 36.5px,#ef7b32 40.5px,#f7ad4d 43.5px,#f8b454 44.5px,#f4983e 47.5px,#f6a142 49.5px,#f3903a 50.5px,#e2572a 52.5px,#ca3a28 54.5px,#9c3331 59.5px,#7d4a4b 63.5px,#725355 76px)"></i><i style="background:linear-gradient(#725355 0px,#794d4e 23.5px,#983635 29.5px,#c83728 36.5px,#f08034 41.5px,#f7a747 43.5px,#f8af4f 44.5px,#f59b3f 47.5px,#f6a041 49.5px,#db4e2a 53.5px,#c63728 55.5px,#9f312f 59.5px,#7e494a 63.5px,#725355 76px)"></i><i style="background:linear-gradient(#725355 0px,#7a4c4d 24.5px,#993534 30.5px,#c93828 36.5px,#ef7d33 41.5px,#f6a242 43.5px,#f7a747 45.5px,#f4963d 49.5px,#dd502a 53.5px,#c93828 55.5px,#9d3230 59.5px,#814747 62.5px,#725355 76px)"></i><i style="background:linear-gradient(#725355 0px,#7b4c4d 25.5px,#933938 31.5px,#b2332b 34.5px,#d44529 37.5px,#f3943c 42.5px,#f6a545 44.5px,#f4953d 48.5px,#dd502a 53.5px,#c93828 55.5px,#9b3332 59.5px,#804748 62.5px,#725355 76px)"></i><i style="background:linear-gradient(#725355 0px,#7b4b4c 26.5px,#933938 31.5px,#b3332b 34.5px,#d54629 37.5px,#f18637 41.5px,#f6a444 43.5px,#f4953d 48.5px,#de512a 53.5px,#c93828 55.5px,#a1302e 59.5px,#814747 64.5px,#735254 76px)"></i><i style="background:linear-gradient(#725355 0px,#7d4a4a 26.5px,#9c3331 31.5px,#d04129 36.5px,#ed7430 40.5px,#f59f41 42.5px,#f7a949 43.5px,#f3923c 48.5px,#db4e2a 53.5px,#c73728 55.5px,#9a3433 61.5px,#804748 66.5px,#745153 76px)"></i><i style="background:linear-gradient(#725355 0px,#7d4a4b 25.5px,#953837 30.5px,#b2332b 33.5px,#d44529 37.5px,#ec722f 40.5px,#f6a041 42.5px,#f7a949 43.5px,#f3923c 46.5px,#f28f3a 48.5px,#d54629 53.5px,#c33629 55.5px,#9e3230 61.5px,#7f4848 66.5px,#745153 76px)"></i><i style="background:linear-gradient(#725355 0px,#7c4b4c 23.5px,#9a3433 30.5px,#cb3b28 36.5px,#ec712f 40.5px,#f59d40 42.5px,#f6a344 43.5px,#f18938 46.5px,#f38f3a 48.5px,#dc502a 52.5px,#c33629 54.5px,#943837 60.5px,#7d4a4b 65.5px,#745253 76px)"></i><i style="background:linear-gradient(#725355 0px,#7b4b4c 22.5px,#903c3b 27.5px,#a7312d 30.5px,#ca3928 33.5px,#dc502a 37.5px,#f59b3f 42.5px,#f59b3f 43.5px,#f08135 45.5px,#f08134 46.5px,#f3923c 48.5px,#dc4f2a 52.5px,#c03629 54.5px,#9d3230 57.5px,#7d494a 61.5px,#735254 76px)"></i><i style="background:linear-gradient(#725355 0px,#7b4b4c 24.5px,#953836 29.5px,#ca3928 33.5px,#e0542a 37.5px,#f4983e 42.5px,#ee7831 45.5px,#ef7c33 46.5px,#f4973d 48.5px,#ee7831 50.5px,#d14229 53.5px,#b9342a 55.5px,#9b3332 58.5px,#7e4949 62.5px,#735355 76px)"></i><i style="background:linear-gradient(#725355 0px,#7b4b4c 26.5px,#8f3c3b 30.5px,#ad322c 32.5px,#cc3c28 35.5px,#f08235 40.5px,#f4973d 42.5px,#ed732f 45.5px,#ef7a32 46.5px,#f49a3f 48.5px,#ee7730 50.5px,#d14229 53.5px,#b4342b 56.5px,#963736 60.5px,#804848 64.5px,#745253 76px)"></i><i style="background:linear-gradient(#725355 0px,#7e494a 28.5px,#8e3d3c 31.5px,#b2332b 34.5px,#d94b29 37.5px,#f38f3a 41.5px,#f4953d 42.5px,#ec712f 45.5px,#ef7a31 46.5px,#f3903a 47.5px,#f4983e 48.5px,#da4c29 52.5px,#c03629 55.5px,#9a3533 60.5px,#804748 64.5px,#745153 76px)"></i><i style="background:linear-gradient(#725355 0px,#7a4c4e 27.5px,#8f3c3b 31.5px,#ad322c 34.5px,#d14229 37.5px,#e35b2b 39.5px,#f18837 41.5px,#f3933c 42.5px,#ed732f 45.5px,#f3913b 48.5px,#d74929 52.5px,#bd352a 55.5px,#953836 60.5px,#7e494a 64.5px,#735254 76px)"></i><i style="background:linear-gradient(#725355 0px,#7c4b4c 26.5px,#943837 30.5px,#bd352a 34.5px,#e7652d 39.5px,#f38f3a 41.5px,#f4983e 42.5px,#ef7931 45.5px,#f18938 48.5px,#d14129 53.5px,#a4312d 58.5px,#7e494a 64.5px,#735254 76px)"></i><i style="background:linear-gradient(#725355 0px,#7f4949 25.5px,#923a39 29.5px,#b1332b 32.5px,#d04029 35.5px,#eb6e2f 39.5px,#f3943c 41.5px,#f59a3f 42.5px,#f08235 45.5px,#ef7d33 48.5px,#c93828 54.5px,#9d3230 58.5px,#7d4a4b 64.5px,#725355 76px)"></i><i style="background:linear-gradient(#725355 0px,#7e494a 26.5px,#8e3d3c 29.5px,#ae322c 32.5px,#cf3f29 35.5px,#ef7d33 40.5px,#f4963d 42.5px,#ef7d33 47.5px,#df522a 51.5px,#c33629 54.5px,#983634 58.5px,#7d4a4b 63.5px,#725355 76px)"></i><i style="background:linear-gradient(#725355 0px,#804748 27.5px,#a7312d 32.5px,#c93928 35.5px,#ed7330 40.5px,#f3903a 42.5px,#f18837 46.5px,#db4d29 51.5px,#c73728 53.5px,#a0302e 57.5px,#7d4a4b 64.5px,#735254 76px)"></i><i style="background:linear-gradient(#725355 0px,#814747 27.5px,#a8312d 33.5px,#d44529 37.5px,#f18737 42.5px,#f28938 46.5px,#da4c29 51.5px,#c53628 53.5px,#a3302e 57.5px,#8b3f3f 61.5px,#765051 70.5px,#735254 76px)"></i><i style="background:linear-gradient(#725355 0px,#7f4848 26.5px,#a4312d 31.5px,#cd3c28 36.5px,#f07f34 42.5px,#f28b39 46.5px,#df522a 51.5px,#c23629 54.5px,#a7312d 57.5px,#953836 60.5px,#814747 63.5px,#745253 76px)"></i><i style="background:linear-gradient(#725355 0px,#7d4a4a 24.5px,#8f3c3b 28.5px,#a8312d 31.5px,#cb3b28 36.5px,#ee7730 42.5px,#ee7831 44.5px,#f28e3a 46.5px,#f08034 48.5px,#d74929 52.5px,#ba352a 55.5px,#9d3231 59.5px,#804848 63.5px,#755152 76px)"></i><i style="background:linear-gradient(#725355 0px,#7d4a4a 22.5px,#903b3a 28.5px,#ad322c 34.5px,#ca3928 37.5px,#e7652d 41.5px,#ed732f 43.5px,#ed7430 44.5px,#f3913b 46.5px,#f3923c 47.5px,#e0542a 51.5px,#c23629 54.5px,#9f312f 58.5px,#7d4a4b 63.5px,#774f51 76px)"></i></div><div class="im" style="left:439px;top:143px;width:76px;height:76px;--w:2px;clip-path:polygon(0 1.40px,76px 0.10px,76px 100%,0 100%);"><i style="background:linear-gradient(#725355 0px,#7b4b4c 32.5px,#903c3b 37.5px,#a9322d 39.5px,#cd3d28 43.5px,#e35b2b 46.5px,#e7652d 47.5px,#f18436 48.5px,#fabe5e 49.5px,#feefbc 50.5px,#fff6cd 51.5px,#fff6cd 54.5px,#fff1c1 55.5px,#fbc565 56.5px,#f3903a 57.5px,#ed722f 58.5px,#da4d29 61.5px,#c93928 64.5px,#9e3130 68.5px,#7f4849 72.5px,#784e4f 76px)"></i><i style="background:linear-gradient(#725355 0px,#7d4a4b 33.5px,#8d3d3d 37.5px,#af332c 40.5px,#cc3c28 43.5px,#e45d2b 46.5px,#e8672d 47.5px,#f18436 48.5px,#f9bb5b 49.5px,#feeaaf 50.5px,#fff6cd 51.5px,#fff5cc 54.5px,#fee6a6 55.5px,#fabf5f 56.5px,#f3923b 57.5px,#ee7730 58.5px,#d64829 62.5px,#b8342a 65.5px,#9a3432 68.5px,#7d4a4a 73.5px,#7a4d4e 76px)"></i><i style="background:linear-gradient(#725355 0px,#7d4a4b 32.5px,#8a4040 36.5px,#ae322c 39.5px,#cd3d28 42.5px,#ed7731 46.5px,#ef7e33 47.5px,#f4983e 48.5px,#fbc666 49.5px,#feeaaf 50.5px,#fff6cd 51.5px,#fff5cc 53.5px,#fee9ad 54.5px,#fcd379 55.5px,#f8af4f 56.5px,#f28c39 57.5px,#ed7530 58.5px,#ca3a28 63.5px,#9c3331 67.5px,#804747 73.5px,#7d494a 76px)"></i><i style="background:linear-gradient(#725355 0px,#7b4b4c 31.5px,#8c3e3d 36.5px,#a4312d 38.5px,#d14229 42.5px,#f18837 46.5px,#f38f3a 47.5px,#f6a545 48.5px,#fccc6c 49.5px,#fee5a5 50.5px,#feefbc 51.5px,#fff3c7 52.5px,#feedb7 53.5px,#fdd781 54.5px,#f9b757 55.5px,#f4993e 56.5px,#ea6b2e 58.5px,#d74929 61.5px,#ae322c 64.5px,#834545 69.5px,#774f50 76px)"></i><i style="background:linear-gradient(#725355 0px,#7a4c4d 29.5px,#8c3e3e 37.5px,#a3302e 39.5px,#cd3d28 42.5px,#f07f34 45.5px,#f7ab4b 48.5px,#fccc6c 49.5px,#fdde93 50.5px,#fee9ad 52.5px,#fde29c 53.5px,#fbc868 54.5px,#f7a848 55.5px,#eb6f2f 58.5px,#de522a 61.5px,#c53729 63.5px,#973735 67.5px,#7b4c4d 71.5px,#745153 76px)"></i><i style="background:linear-gradient(#725355 0px,#794d4e 29.5px,#8b3f3f 36.5px,#ac322c 39.5px,#d14129 42.5px,#ef7d33 45.5px,#f7aa4a 48.5px,#fbc868 49.5px,#fcd67f 50.5px,#fddc8d 52.5px,#fdd680 53.5px,#f7a747 55.5px,#ef7d33 58.5px,#ec712f 60.5px,#cd3d28 63.5px,#9e312f 67.5px,#804747 71.5px,#784e50 76px)"></i><i style="background:linear-gradient(#725355 0px,#794d4e 31.5px,#903c3b 36.5px,#af332c 39.5px,#cc3c28 42.5px,#e3592b 44.5px,#f7a747 48.5px,#fac363 49.5px,#fccd6d 50.5px,#fbc868 53.5px,#f59c3f 56.5px,#ed7430 60.5px,#cb3b28 63.5px,#9e3230 67.5px,#7d4a4b 73.5px,#794d4e 76px)"></i><i style="background:linear-gradient(#725355 0px,#784e4f 31.5px,#903b3a 37.5px,#b1332b 40.5px,#d24329 43.5px,#f08034 46.5px,#f7a848 48.5px,#fac060 49.5px,#f9b858 53.5px,#f6a142 56.5px,#ee7730 60.5px,#cc3b28 63.5px,#993533 67.5px,#7b4b4c 72.5px,#765051 76px)"></i><i style="background:linear-gradient(#725355 0px,#7a4d4e 33.5px,#854343 37.5px,#ac322c 40.5px,#d14229 43.5px,#ef7b32 46.5px,#f7a747 48.5px,#f9ba5a 49.5px,#f7ac4c 53.5px,#f8ae4e 55.5px,#f18536 58.5px,#ed7530 60.5px,#cc3b28 63.5px,#a3312e 66.5px,#7f4949 70.5px,#745253 76px)"></i><i style="background:linear-gradient(#725355 0px,#7c4b4c 35.5px,#8b3f3f 38.5px,#a8312d 40.5px,#cb3b28 43.5px,#eb6e2f 46.5px,#f8b252 49.5px,#f6a545 53.5px,#f7a848 55.5px,#ee7731 58.5px,#e1572a 61.5px,#c23629 64.5px,#9d3230 67.5px,#7c4a4b 71.5px,#745153 76px)"></i><i style="background:linear-gradient(#725355 0px,#7b4b4c 33.5px,#903c3b 38.5px,#ab322c 40.5px,#d44629 44.5px,#eb6e2f 46.5px,#f7a646 48.5px,#f9b656 49.5px,#f59c3f 54.5px,#f18637 56.5px,#e1572b 59.5px,#c23629 63.5px,#973735 67.5px,#7b4c4d 71.5px,#745253 76px)"></i><i style="background:linear-gradient(#725355 0px,#7a4c4d 30.5px,#8e3d3c 38.5px,#b1332b 41.5px,#cc3b28 43.5px,#e45d2b 45.5px,#f59c40 47.5px,#f9b858 48.5px,#fabe5e 49.5px,#f6a142 52.5px,#e8672d 57.5px,#cd3d28 60.5px,#9f3331 64.5px,#7c4b4b 69.5px,#745253 76px)"></i><i style="background:linear-gradient(#725355 0px,#784e4f 29.5px,#a6312d 39.5px,#d34429 43.5px,#e6632d 45.5px,#f69f41 47.5px,#f9b959 48.5px,#f9ba5a 49.5px,#f6a444 51.5px,#f6a041 52.5px,#ee7731 55.5px,#e55e2c 57.5px,#cc3b28 59.5px,#a1312f 62.5px,#804748 67.5px,#765052 76px)"></i><i style="background:linear-gradient(#725355 0px,#7b4c4d 30.5px,#a3312d 37.5px,#cd3d28 41.5px,#e45e2c 45.5px,#f28e3a 47.5px,#f7a949 48.5px,#f8b151 49.5px,#f59e40 52.5px,#ef7c32 54.5px,#ea6c2e 56.5px,#c53629 59.5px,#a2302e 61.5px,#834545 65.5px,#745153 76px)"></i><i style="background:linear-gradient(#725355 0px,#7a4c4d 31.5px,#a7312d 38.5px,#d14229 42.5px,#de522a 45.5px,#ee7731 47.5px,#f3943c 48.5px,#f6a444 49.5px,#f59a3f 52.5px,#ef7a32 55.5px,#e6622c 57.5px,#cb3a28 59.5px,#9d3231 62.5px,#804748 66.5px,#725355 76px)"></i><i style="background:linear-gradient(#725355 0px,#7a4c4e 32.5px,#923a39 37.5px,#b3332b 40.5px,#cd3d28 43.5px,#e0552a 46.5px,#f4993e 49.5px,#f28b39 53.5px,#ed7430 56.5px,#cd3d28 59.5px,#a4312d 62.5px,#7f4849 67.5px,#735354 76px)"></i><i style="background:linear-gradient(#725355 0px,#794d4e 31.5px,#913a39 37.5px,#af332c 40.5px,#d04129 44.5px,#e8682d 47.5px,#f3923c 49.5px,#f18737 53.5px,#eb6e2f 56.5px,#cd3d28 59.5px,#a0312f 63.5px,#7e494a 68.5px,#745153 76px)"></i><i style="background:linear-gradient(#725355 0px,#794d4e 32.5px,#8b3f3f 37.5px,#a7312d 40.5px,#ca3928 43.5px,#ec702f 47.5px,#f3913b 49.5px,#f18436 53.5px,#e35a2b 57.5px,#c63728 60.5px,#9f312f 64.5px,#7e4949 68.5px,#765051 76px)"></i><i style="background:linear-gradient(#725355 0px,#7a4c4d 33.5px,#8d3d3d 37.5px,#b3332b 40.5px,#d54629 43.5px,#f28a38 48.5px,#f4963d 51.5px,#d94b29 58.5px,#bd352a 61.5px,#a1302e 64.5px,#7e494a 68.5px,#755152 76px)"></i><i style="background:linear-gradient(#725355 0px,#7b4c4d 32.5px,#874242 36.5px,#ac322c 39.5px,#cf3f29 42.5px,#ee7630 46.5px,#f59a3f 50.5px,#f4983e 52.5px,#e7642d 55.5px,#c13629 60.5px,#953836 65.5px,#7a4c4d 69.5px,#745153 76px)"></i><i style="background:linear-gradient(#725355 0px,#7b4b4c 30.5px,#8a403f 35.5px,#b1332b 38.5px,#d54629 42.5px,#f18637 47.5px,#f7a747 51.5px,#f6a041 52.5px,#e55e2c 55.5px,#c33629 59.5px,#993533 63.5px,#794d4e 69.5px,#745153 76px)"></i><i style="background:linear-gradient(#725355 0px,#7a4c4e 29.5px,#884141 34.5px,#ab322c 37.5px,#cd3c28 40.5px,#ef7a31 46.5px,#f59b3f 49.5px,#f7ac4c 51.5px,#f7a848 52.5px,#e6622c 55.5px,#c73828 59.5px,#983634 63.5px,#794e4f 70.5px,#745153 76px)"></i><i style="background:linear-gradient(#725355 0px,#794e4f 30.5px,#8c3e3d 35.5px,#b2332b 38.5px,#cd3d28 41.5px,#ee7630 46.5px,#f59b3f 48.5px,#f7ad4d 51.5px,#f7aa4a 52.5px,#e7652d 55.5px,#ca3a28 59.5px,#9b3332 63.5px,#7b4b4c 71.5px,#774f50 76px)"></i><i style="background:linear-gradient(#725355 0px,#794d4e 31.5px,#8b3f3e 35.5px,#a4312d 37.5px,#ce3e28 41.5px,#ed7430 46.5px,#f59e40 48.5px,#f7aa4a 50.5px,#f7a646 52.5px,#e8682d 55.5px,#d74829 58.5px,#bc352a 60.5px,#983635 63.5px,#7d4a4b 69.5px,#784e50 76px)"></i><i style="background:linear-gradient(#725355 0px,#7a4c4d 32.5px,#8e3d3c 36.5px,#b3332b 39.5px,#d34429 42.5px,#ed732f 46.5px,#f7aa4a 49.5px,#f59a3f 52.5px,#e5602c 56.5px,#c03629 60.5px,#993534 63.5px,#824646 66.5px,#755052 76px)"></i><i style="background:linear-gradient(#725355 0px,#7a4c4d 33.5px,#8c3e3d 37.5px,#a5312d 39.5px,#cf3f29 42.5px,#f08034 47.5px,#f6a042 49.5px,#f08034 53.5px,#d44629 58.5px,#bf3529 60.5px,#9b3432 63.5px,#814747 67.5px,#755052 76px)"></i><i style="background:linear-gradient(#725355 0px,#7a4c4d 32.5px,#8b3f3f 37.5px,#a2302e 39.5px,#cd3d28 42.5px,#ee7530 46.5px,#f3923c 49.5px,#df532a 57.5px,#c93928 59.5px,#9f312f 63.5px,#854444 67.5px,#755052 76px)"></i><i style="background:linear-gradient(#725355 0px,#7a4c4d 33.5px,#913b3a 37.5px,#a9322d 39.5px,#cd3d28 42.5px,#ed722f 46.5px,#f18436 49.5px,#de512a 57.5px,#c73728 59.5px,#9f312f 63.5px,#834545 68.5px,#764f51 76px)"></i><i style="background:linear-gradient(#725355 0px,#774f50 33.5px,#8f3c3c 37.5px,#b6342b 40.5px,#d34529 43.5px,#ef7c32 47.5px,#e5602c 56.5px,#c93928 59.5px,#9d3230 63.5px,#824646 67.5px,#755052 76px)"></i><i style="background:linear-gradient(#725355 0px,#784e4f 33.5px,#8e3d3c 37.5px,#b5342b 40.5px,#de522a 44.5px,#f08436 47.5px,#ec702f 51.5px,#eb6f2f 54.5px,#e35a2b 57.5px,#cc3c28 59.5px,#9a3533 63.5px,#804747 66.5px,#745253 76px)"></i><i style="background:linear-gradient(#725355 0px,#794d4e 31.5px,#903b3a 37.5px,#b6342b 40.5px,#d44629 43.5px,#ed7330 46.5px,#f18536 47.5px,#f18837 48.5px,#ed7530 50.5px,#f07f34 53.5px,#e8662d 57.5px,#cd3d28 60.5px,#a6312d 63.5px,#864342 66.5px,#745253 76px)"></i><i style="background:linear-gradient(#725355 0px,#794d4e 30.5px,#8a3f3f 36.5px,#a9312d 39.5px,#d14229 42.5px,#e35b2b 45.5px,#f18737 47.5px,#f38f3a 48.5px,#ef7c33 50.5px,#f18636 53.5px,#ec702f 57.5px,#d24329 60.5px,#9e312f 64.5px,#834545 67.5px,#745253 76px)"></i><i style="background:linear-gradient(#725355 0px,#794d4e 32.5px,#8a403f 36.5px,#ab322c 39.5px,#d34429 42.5px,#e2572a 45.5px,#f28a38 47.5px,#f4963d 48.5px,#f18436 50.5px,#f18737 53.5px,#e8662d 57.5px,#c73929 60.5px,#9f3230 63.5px,#804748 67.5px,#735254 76px)"></i><i style="background:linear-gradient(#725355 0px,#7a4c4d 33.5px,#923a39 37.5px,#b8342a 40.5px,#da4d29 43.5px,#e35b2b 45.5px,#f38f3a 47.5px,#f59b3f 48.5px,#f18837 51.5px,#f18536 53.5px,#d84a29 58.5px,#ba352a 60.5px,#993533 63.5px,#814647 67.5px,#745153 76px)"></i><i style="background:linear-gradient(#725355 0px,#7b4c4d 34.5px,#953837 38.5px,#b0332c 40.5px,#d94c29 43.5px,#e45d2b 45.5px,#f3923b 47.5px,#f59c40 48.5px,#f18938 51.5px,#f18637 53.5px,#db4e2a 58.5px,#c13629 60.5px,#9a3433 64.5px,#804748 68.5px,#745153 76px)"></i><i style="background:linear-gradient(#725355 0px,#7b4c4d 35.5px,#9b3332 39.5px,#cb3b28 42.5px,#e1562a 45.5px,#f28b39 47.5px,#f4963d 48.5px,#f18938 51.5px,#f18938 53.5px,#de522a 58.5px,#c23629 60.5px,#9a3432 64.5px,#7f4848 69.5px,#765051 76px)"></i><i style="background:linear-gradient(#725355 0px,#794d4e 34.5px,#9a3433 39.5px,#cd3d28 43.5px,#dd502a 45.5px,#f08135 47.5px,#f28d39 48.5px,#f28938 51.5px,#f28b38 53.5px,#e45d2b 58.5px,#c73828 60.5px,#9b3332 64.5px,#804848 68.5px,#755152 76px)"></i><i style="background:linear-gradient(#725355 0px,#784e4f 33.5px,#9b3432 40.5px,#ca3a28 44.5px,#e2582b 46.5px,#ec712f 47.5px,#ef7d33 48.5px,#ef7e33 50.5px,#f28d39 52.5px,#e9692e 58.5px,#cd3d28 60.5px,#9c3331 64.5px,#814747 67.5px,#745253 76px)"></i></div><div class="im" style="left:545px;top:143px;width:76px;height:76px;--w:2px;clip-path:polygon(0 1.40px,76px 0.10px,76px 100%,0 100%);"><i style="background:linear-gradient(#725355 0px,#7a4d4e 48.5px,#8f3c3c 51.5px,#b0332c 53.5px,#c63728 54.5px,#e6612c 57.5px,#f59e40 60.5px,#f9bc5c 61.5px,#fddb8a 62.5px,#feecb3 63.5px,#fdde91 64.5px,#f8b555 65.5px,#f59e40 66.5px,#f7ac4c 67.5px,#fbc666 68.5px,#fbc565 70.5px,#fdda88 72.5px,#fcce6e 73.5px,#f3913b 76px)"></i><i style="background:linear-gradient(#725355 0px,#7a4c4d 48.5px,#8b3f3e 51.5px,#a9322d 53.5px,#d94c29 56.5px,#ed7630 59.5px,#f7a747 61.5px,#fbcc6e 62.5px,#fde39e 63.5px,#fddb8b 64.5px,#f9b959 65.5px,#f6a545 66.5px,#fbc767 68.5px,#fbc969 70.5px,#fddf94 72.5px,#fcd377 73.5px,#f8b050 74.5px,#f28d39 76px)"></i><i style="background:linear-gradient(#725355 0px,#794d4e 48.5px,#8d3d3d 52.5px,#ab322c 54.5px,#d74929 57.5px,#ee7730 60.5px,#f3923c 61.5px,#fdd782 63.5px,#fdd782 64.5px,#fac060 65.5px,#f8b252 66.5px,#fccf6f 69.5px,#fccf6f 70.5px,#fee4a2 72.5px,#fddb8a 73.5px,#f9ba5a 74.5px,#f4963d 76px)"></i><i style="background:linear-gradient(#725355 0px,#794d4e 48.5px,#894040 52.5px,#a1302e 54.5px,#c43629 56.5px,#e7652d 59.5px,#f3913b 61.5px,#fcd377 63.5px,#fcd57d 64.5px,#fac161 66.5px,#fcd378 70.5px,#fee9ae 72.5px,#fee39f 73.5px,#fbcb6b 74.5px,#f7aa4a 76px)"></i><i style="background:linear-gradient(#725355 0px,#794d4e 46.5px,#953837 53.5px,#b9342a 56.5px,#d84b29 58.5px,#ec722f 60.5px,#f38f3a 61.5px,#fcd070 63.5px,#fcd47a 64.5px,#fcd275 68.5px,#fdd680 70.5px,#feecb4 72.5px,#fee7a9 73.5px,#fcd274 74.5px,#f8b151 76px)"></i><i style="background:linear-gradient(#725355 0px,#784e4f 45.5px,#9f312f 54.5px,#c33629 57.5px,#eb6f2f 60.5px,#f28d3a 61.5px,#fcce6e 63.5px,#fdda89 65.5px,#fddb8b 66.5px,#fcd274 68.5px,#fdd781 70.5px,#fee9ad 72.5px,#fee3a0 73.5px,#fccd6e 74.5px,#f7ad4d 76px)"></i><i style="background:linear-gradient(#725355 0px,#794d4e 45.5px,#9c3331 53.5px,#cb3b28 57.5px,#ef7d33 60.5px,#f4993e 61.5px,#fcd276 63.5px,#fee4a1 65.5px,#fee4a0 66.5px,#fdd782 67.5px,#fcd070 68.5px,#fddf95 72.5px,#fcd47a 73.5px,#f4963d 76px)"></i><i style="background:linear-gradient(#725355 0px,#794d4f 46.5px,#923a39 52.5px,#b6342b 55.5px,#d14229 57.5px,#ee7530 59.5px,#f7a848 61.5px,#fddb8a 63.5px,#feecb5 65.5px,#fee9ac 66.5px,#fdd985 67.5px,#fccf6f 68.5px,#fcd47a 72.5px,#fac464 73.5px,#f7a747 74.5px,#f28c39 76px)"></i><i style="background:linear-gradient(#725355 0px,#794d4e 46.5px,#8b3f3f 51.5px,#ab322c 54.5px,#d34429 57.5px,#e2572a 58.5px,#f4953d 60.5px,#f7a848 61.5px,#fbc565 62.5px,#fde098 63.5px,#feedb8 64.5px,#fff0be 65.5px,#fee9ad 66.5px,#fdda87 67.5px,#fcd274 68.5px,#fbcb6b 72.5px,#f38f3a 76px)"></i><i style="background:linear-gradient(#725355 0px,#794d4e 46.5px,#874242 50.5px,#aa322d 53.5px,#ce3f29 56.5px,#e1552a 58.5px,#f28c39 60.5px,#f59e41 61.5px,#fabf5f 62.5px,#fde29c 63.5px,#fff1c1 64.5px,#feeeb9 65.5px,#fdda88 67.5px,#fcd67e 69.5px,#f9b959 73.5px,#f3903a 76px)"></i><i style="background:linear-gradient(#725355 0px,#774f50 45.5px,#8d3d3d 50.5px,#b0332c 53.5px,#ce3e28 56.5px,#dd502a 58.5px,#f4943c 61.5px,#f9b858 62.5px,#fde19a 63.5px,#fff1c2 64.5px,#fdda89 67.5px,#fddb8b 69.5px,#fbc767 71.5px,#f8b252 73.5px,#f08335 76px)"></i><i style="background:linear-gradient(#725355 0px,#794d4e 46.5px,#923a39 50.5px,#a8312d 52.5px,#d34429 56.5px,#e1572a 58.5px,#f59d40 61.5px,#fac060 62.5px,#fee3a0 63.5px,#fff0be 64.5px,#fdde92 66.5px,#fde199 69.5px,#fccc6c 71.5px,#f9b656 73.5px,#f28a38 76px)"></i><i style="background:linear-gradient(#725355 0px,#784e4f 45.5px,#953837 50.5px,#b0332c 53.5px,#db4e2a 57.5px,#eb6f2f 59.5px,#f59f41 61.5px,#fac060 62.5px,#fddf94 63.5px,#feeab0 64.5px,#fde19a 66.5px,#fee7a7 69.5px,#fcd57c 71.5px,#fac060 73.5px,#f4983e 76px)"></i><i style="background:linear-gradient(#725355 0px,#784e4f 45.5px,#983634 51.5px,#be352a 55.5px,#e45d2c 59.5px,#f28d39 61.5px,#f7ab4b 62.5px,#fccd70 63.5px,#fdde93 64.5px,#fef0bd 68.5px,#feedb8 69.5px,#fbc565 73.5px,#f3933c 76px)"></i><i style="background:linear-gradient(#725355 0px,#7a4c4d 47.5px,#9e3331 54.5px,#cd3d28 58.5px,#e45d2b 60.5px,#f4973e 62.5px,#fcd376 64.5px,#fff0be 66.5px,#fff6cd 68.5px,#fff4c9 69.5px,#fee4a2 71.5px,#f7ad4d 74.5px,#f3923c 76px)"></i><i style="background:linear-gradient(#725355 0px,#7a4c4d 51.5px,#8d3e3d 54.5px,#a7312d 56.5px,#c83728 58.5px,#e2582b 60.5px,#f4953d 62.5px,#fcd070 64.5px,#fff4c8 66.5px,#fff6cd 69.5px,#fff3c5 70.5px,#fee9ac 71.5px,#fac060 73.5px,#f6a545 74.5px,#f28b39 76px)"></i><i style="background:linear-gradient(#725355 0px,#794d4f 47.5px,#8b3f3f 52.5px,#b2332b 56.5px,#d64829 59.5px,#ef7a32 61.5px,#f59a3f 62.5px,#fcd378 64.5px,#fee7a7 65.5px,#fff1c2 66.5px,#fff4c8 69.5px,#fff2c2 70.5px,#fee9ae 71.5px,#fdd782 72.5px,#f9b757 73.5px,#f28f3a 74.5px,#eb6e2f 76px)"></i><i style="background:linear-gradient(#725355 0px,#784e50 43.5px,#8d3d3d 49.5px,#b2332b 53.5px,#d24329 57.5px,#e35a2b 59.5px,#f4953d 61.5px,#fcd175 63.5px,#fde096 64.5px,#fee8aa 65.5px,#fee6a6 68.5px,#feebb1 70.5px,#fee7a9 71.5px,#fdd782 72.5px,#f7ad4d 73.5px,#ef7d33 74.5px,#e45e2c 76px)"></i><i style="background:linear-gradient(#725355 0px,#794d4e 43.5px,#8c3e3e 48.5px,#a9322d 51.5px,#c93928 54.5px,#e2592b 58.5px,#f08335 60.5px,#f6a646 61.5px,#fbcc6c 62.5px,#fde098 63.5px,#fee7a7 64.5px,#fddf94 66.5px,#fdd781 67.5px,#fcd57c 68.5px,#fde199 71.5px,#fcce6f 72.5px,#f6a042 73.5px,#ec722f 74.5px,#e1562a 76px)"></i><i style="background:linear-gradient(#725355 0px,#794d4f 42.5px,#8a4040 47.5px,#a1302e 49.5px,#d04029 53.5px,#e45b2b 57.5px,#f3903b 60.5px,#f8b050 61.5px,#fcd479 62.5px,#fee6a5 63.5px,#fee7a9 64.5px,#fde29c 65.5px,#fbca6a 67.5px,#fbc868 69.5px,#fcd377 70.5px,#fcd378 71.5px,#f9b757 72.5px,#f18838 73.5px,#e55e2c 74.5px,#d54629 76px)"></i><i style="background:linear-gradient(#725355 0px,#794d4e 42.5px,#874241 47.5px,#ae322c 51.5px,#c93a28 54.5px,#e8672d 58.5px,#f3903a 60.5px,#f7ab4b 61.5px,#fccd6d 62.5px,#fde097 63.5px,#fee4a1 64.5px,#fde096 65.5px,#fac161 67.5px,#f9b757 68.5px,#fbc969 70.5px,#fbc868 71.5px,#f7ab4b 72.5px,#f07f34 73.5px,#e2572a 74.5px,#d04129 76px)"></i><i style="background:linear-gradient(#725355 0px,#794d4e 44.5px,#8d3e3d 50.5px,#af332c 53.5px,#c43629 55.5px,#ef7931 59.5px,#f6a243 61.5px,#fcd57c 63.5px,#fdde92 64.5px,#fddd90 65.5px,#f9bb5b 67.5px,#f8b252 68.5px,#fac464 70.5px,#fac464 71.5px,#f7ad4d 72.5px,#e55f2c 74.5px,#d64729 76px)"></i><i style="background:linear-gradient(#725355 0px,#784e4f 44.5px,#894040 50.5px,#ab322c 53.5px,#c53729 55.5px,#ea6c2e 58.5px,#f59c40 61.5px,#fbc767 63.5px,#fdd782 64.5px,#fdda89 65.5px,#f9b858 67.5px,#f8b353 68.5px,#fac464 70.5px,#fabe5e 71.5px,#f18636 73.5px,#e6622c 74.5px,#d84a29 76px)"></i><i style="background:linear-gradient(#725355 0px,#794e4f 43.5px,#8c3e3e 50.5px,#a3312e 52.5px,#cd3d28 55.5px,#ee7630 58.5px,#f3943c 60.5px,#f6a243 62.5px,#fcd47a 64.5px,#fdd985 65.5px,#f9b757 67.5px,#fac464 70.5px,#f59d40 72.5px,#e35b2b 74.5px,#d44629 76px)"></i><i style="background:linear-gradient(#725355 0px,#794d4e 43.5px,#874242 51.5px,#a1322f 53.5px,#c63728 55.5px,#eb6e2f 58.5px,#f28c39 60.5px,#f59c3f 62.5px,#fcd47b 64.5px,#fdd986 65.5px,#f9bb5b 67.5px,#fac262 70.5px,#f59f41 72.5px,#da4d29 76px)"></i><i style="background:linear-gradient(#725355 0px,#7a4c4d 49.5px,#8d3e3d 52.5px,#ad322c 54.5px,#d44529 56.5px,#f07f34 59.5px,#f59c3f 62.5px,#fcd67e 64.5px,#fdd986 65.5px,#fabf5f 67.5px,#f9b757 71.5px,#f4963d 73.5px,#e7642d 76px)"></i><i style="background:linear-gradient(#725355 0px,#7a4d4e 47.5px,#884141 51.5px,#a1302e 53.5px,#c33629 55.5px,#ed7330 59.5px,#f59a3f 62.5px,#fcd173 64.5px,#fcd57c 65.5px,#f9b757 68.5px,#f8b252 72.5px,#ec712f 76px)"></i><i style="background:linear-gradient(#725355 0px,#794d4e 47.5px,#8a403f 51.5px,#a2302e 53.5px,#cd3d28 56.5px,#ef7d33 61.5px,#f7ab4b 63.5px,#fac262 64.5px,#fbca6a 65.5px,#f8ae4e 69.5px,#f9b757 72.5px,#f07f34 76px)"></i><i style="background:linear-gradient(#725355 0px,#774e50 48.5px,#903c3b 52.5px,#aa322d 54.5px,#ce3e28 57.5px,#ea6b2e 61.5px,#f8ae4e 64.5px,#f9bb5b 66.5px,#f7ac4c 69.5px,#f9ba5a 72.5px,#f6a344 74.5px,#f3913b 76px)"></i><i style="background:linear-gradient(#725355 0px,#794d4f 48.5px,#894140 52.5px,#ab322c 55.5px,#ce3e28 58.5px,#e8662d 61.5px,#f6a343 64.5px,#f7ad4d 66.5px,#f7ab4b 69.5px,#f9ba5a 73.5px,#f4983e 76px)"></i><i style="background:linear-gradient(#725355 0px,#794d4e 47.5px,#894140 52.5px,#a8312d 55.5px,#ce3e28 58.5px,#ef7c33 62.5px,#f6a242 64.5px,#f7a848 69.5px,#f9b757 73.5px,#f38f3a 76px)"></i><i style="background:linear-gradient(#725355 0px,#794d4e 46.5px,#874242 51.5px,#a4312d 54.5px,#cf4029 58.5px,#ef7a32 62.5px,#f6a242 64.5px,#f59c40 68.5px,#f7ac4c 72.5px,#f7a848 73.5px,#ed7530 76px)"></i><i style="background:linear-gradient(#725355 0px,#794d4e 46.5px,#8f3c3b 51.5px,#ae322c 54.5px,#cd3d28 57.5px,#e35a2b 60.5px,#ef7a32 62.5px,#f6a142 64.5px,#f59d40 68.5px,#f7a848 71.5px,#f49a3f 73.5px,#e55f2c 76px)"></i><i style="background:linear-gradient(#725355 0px,#794d4f 46.5px,#8a403f 50.5px,#a0312e 52.5px,#d24329 56.5px,#e1572b 59.5px,#ef7e33 62.5px,#f3943c 63.5px,#f59e40 65.5px,#f7aa4a 71.5px,#f38f3a 73.5px,#de522a 76px)"></i><i style="background:linear-gradient(#725355 0px,#794d4e 47.5px,#933938 51.5px,#b1332b 53.5px,#d04029 55.5px,#ed7330 60.5px,#f18637 62.5px,#f4973e 63.5px,#f6a646 67.5px,#f8b353 70.5px,#f8b050 71.5px,#f6a041 72.5px,#d44629 76px)"></i><i style="background:linear-gradient(#725355 0px,#794d4e 46.5px,#8e3d3c 50.5px,#b3332b 53.5px,#da4c29 56.5px,#e3592b 58.5px,#f3923b 62.5px,#f59d40 63.5px,#f4993e 65.5px,#f9bb5b 69.5px,#f9b959 71.5px,#f6a444 72.5px,#e1562a 74.5px,#cf3f29 76px)"></i><i style="background:linear-gradient(#725355 0px,#784e4f 42.5px,#9a3533 50.5px,#b6342b 54.5px,#d34529 57.5px,#db4e2a 58.5px,#f28b38 61.5px,#f6a343 63.5px,#f4963d 65.5px,#fac060 69.5px,#fac363 71.5px,#f7aa4a 72.5px,#ef7d33 73.5px,#df532a 74.5px,#cd3d28 76px)"></i><i style="background:linear-gradient(#725355 0px,#794d4e 42.5px,#a2312e 54.5px,#ce3e28 58.5px,#f18536 61.5px,#f59d40 62.5px,#f6a343 63.5px,#f3933c 65.5px,#f9bb5b 68.5px,#fbc767 71.5px,#f8ae4e 72.5px,#ef7a32 73.5px,#dc4f2a 74.5px,#c93928 76px)"></i></div><div class="im" style="left:0px;top:256px;width:83px;height:62px;--w:2px;"><i style="background:linear-gradient(#0d045c 0px,#160578 5.5px,#230886 6.5px,#8d18a7 8.5px,#a11ca8 10.5px,#8717a7 11.5px,#2e0a8f 12.5px,#310a91 32.5px,#2b098d 39.5px,#370b95 41.5px,#4b0f9e 42.5px,#a81da7 43.5px,#e54764 44.5px,#f67a2f 45.5px,#fba124 46.5px,#fba72d 47.5px,#ef6248 48.5px,#c023a3 49.5px,#c224a1 56.5px,#f88326 57.5px,#f98f24 62px)"></i><i style="background:linear-gradient(#0a0353 0px,#0f0462 3.5px,#2a098c 5.5px,#9219a9 7.5px,#b520a6 8.5px,#c5259e 11.5px,#7013a6 12.5px,#27098a 13.5px,#250889 21.5px,#330b92 26.5px,#3d0d99 41.5px,#440d9b 42.5px,#9119a8 43.5px,#e54566 44.5px,#fa9a22 45.5px,#fdc635 46.5px,#ffe45e 47.5px,#fdc433 48.5px,#cb2a95 49.5px,#b921a6 51.5px,#c223a2 56.5px,#f77b27 57.5px,#f98e24 58.5px,#f98f24 62px)"></i><i style="background:linear-gradient(#0b0354 0px,#0a0352 2.5px,#1a0681 4.5px,#6b13a4 6.5px,#ad1ea7 8.5px,#c82899 10.5px,#c4259f 11.5px,#5a10a1 12.5px,#210886 13.5px,#3a0c97 42.5px,#460e9c 43.5px,#bb23a0 44.5px,#f98925 45.5px,#fecc3b 46.5px,#ffe668 47.5px,#fed240 48.5px,#dd377a 49.5px,#bc21a5 50.5px,#bf22a5 56.5px,#ea4f58 57.5px,#f98b24 58.5px,#f98f24 62px)"></i><i style="background:linear-gradient(#0d045c 0px,#09034b 2.5px,#16067b 4.5px,#6f13a5 6.5px,#b620a6 8.5px,#c92997 10.5px,#ba21a5 11.5px,#380c95 12.5px,#29098b 30.5px,#400d9a 43.5px,#961aa9 44.5px,#e64466 45.5px,#fdc231 46.5px,#ffee95 47.5px,#fba726 48.5px,#ca2996 49.5px,#b921a6 51.5px,#bb21a5 56.5px,#d22f8a 57.5px,#f98725 58.5px,#f98f24 62px)"></i><i style="background:linear-gradient(#0f0462 0px,#09034c 2.5px,#16067a 4.5px,#6412a3 6.5px,#b921a6 8.5px,#c82899 10.5px,#a61da7 11.5px,#320b92 12.5px,#210886 19.5px,#210886 30.5px,#330b92 42.5px,#450e9c 43.5px,#ac1ea7 44.5px,#f2673e 45.5px,#ffeb81 46.5px,#fedf6a 47.5px,#dd3e73 48.5px,#bd21a5 49.5px,#c022a4 56.5px,#ee584c 57.5px,#f98d24 58.5px,#f99023 62px)"></i><i style="background:linear-gradient(#12056d 0px,#0d045a 2.5px,#160679 4.5px,#340b93 5.5px,#a51da7 7.5px,#c425a0 8.5px,#c6269d 10.5px,#8717a9 11.5px,#2d0a8e 12.5px,#1a0682 19.5px,#29098b 42.5px,#350b94 43.5px,#c123a3 44.5px,#fa9a22 45.5px,#ffe45c 46.5px,#fec937 47.5px,#d73382 48.5px,#bc21a5 49.5px,#bb21a5 55.5px,#cc2b94 56.5px,#f98e24 57.5px,#fcb126 58.5px,#fdc231 59.5px,#fcaa1f 60.5px,#fa9323 62px)"></i><i style="background:linear-gradient(#150577 0px,#110468 3.5px,#140574 4.5px,#380c96 5.5px,#8e18a9 6.5px,#c022a4 7.5px,#ca2997 9.5px,#c5269d 10.5px,#8b17a9 11.5px,#390c97 12.5px,#27098a 18.5px,#1c0783 28.5px,#3d0d99 43.5px,#ca2996 44.5px,#fba620 45.5px,#ffe45d 46.5px,#ffe666 47.5px,#f98925 48.5px,#c324a1 49.5px,#bf22a5 55.5px,#e94d5b 56.5px,#fa9922 57.5px,#fdbf2e 59.5px,#fcad1f 60.5px,#f99223 62px)"></i><i style="background:linear-gradient(#140573 0px,#12056b 4.5px,#17067b 5.5px,#510f9d 6.5px,#a01ca8 7.5px,#c2259f 8.5px,#c4259f 10.5px,#7814a7 11.5px,#3f0d9a 12.5px,#1c0782 24.5px,#260889 35.5px,#2c098d 42.5px,#420d9b 43.5px,#db367d 44.5px,#fcb523 45.5px,#ffe55f 46.5px,#ffe872 47.5px,#fcae1f 48.5px,#db367d 49.5px,#bc21a5 50.5px,#c224a1 55.5px,#f88326 56.5px,#fa9523 60.5px,#f99023 62px)"></i><i style="background:linear-gradient(#0a0350 0px,#140574 5.5px,#230888 6.5px,#961aa8 8.5px,#bd23a2 9.5px,#be23a2 10.5px,#8717aa 11.5px,#3d0d99 12.5px,#28098b 19.5px,#18067f 23.5px,#3a0c97 31.5px,#3c0c98 43.5px,#7014a1 44.5px,#9b2f7a 45.5px,#a54962 46.5px,#af5163 47.5px,#b03f6d 48.5px,#ba2697 49.5px,#b921a6 51.5px,#c123a3 55.5px,#f57131 56.5px,#f98e24 57.5px,#f98f24 62px)"></i><i style="background:linear-gradient(#060239 0px,#17067c 5.5px,#5810a0 7.5px,#b21fa6 9.5px,#c023a2 10.5px,#8216a6 11.5px,#2f0a8f 12.5px,#1a0681 24.5px,#2c0a8e 31.5px,#320b92 43.5px,#520f9f 45.5px,#4b0e9d 47.5px,#7214a4 48.5px,#b21fa6 49.5px,#bf22a5 55.5px,#ea4b5c 56.5px,#f98b24 57.5px,#f98f24 62px)"></i><i style="background:linear-gradient(#07023f 0px,#130570 5.5px,#27098a 6.5px,#9419a9 8.5px,#b620a6 9.5px,#c4259f 10.5px,#a91da7 11.5px,#3e0d9a 12.5px,#27098a 13.5px,#1f0785 28.5px,#2f0a8f 43.5px,#7514a7 44.5px,#de3c74 45.5px,#f8912a 46.5px,#f48640 47.5px,#db4172 48.5px,#c3269d 49.5px,#ba21a5 55.5px,#c7279b 56.5px,#f6772e 57.5px,#f98e24 58.5px,#f98f24 62px)"></i><i style="background:linear-gradient(#080247 0px,#140572 5.5px,#2b098d 6.5px,#981aa8 8.5px,#b820a6 9.5px,#c123a3 10.5px,#8617a8 11.5px,#310a91 12.5px,#3c0c99 42.5px,#4a0e9c 43.5px,#a51da7 44.5px,#ea4c5c 45.5px,#fa9822 46.5px,#fdc735 47.5px,#fdc130 48.5px,#fa9924 49.5px,#e94e5a 50.5px,#bf22a5 51.5px,#c022a5 56.5px,#ec5056 57.5px,#f98b24 58.5px,#f98f24 62px)"></i><i style="background:linear-gradient(#080349 0px,#1e0781 4.5px,#6c13a4 6.5px,#aa1ea7 8.5px,#c7279b 10.5px,#ab20a2 11.5px,#5e11a1 12.5px,#250889 13.5px,#29098c 27.5px,#370b95 33.5px,#300a90 40.5px,#3e0d99 42.5px,#5510a0 43.5px,#b4229f 45.5px,#e64763 46.5px,#fba021 47.5px,#fecd3c 48.5px,#fba124 49.5px,#d7377e 50.5px,#bc21a5 51.5px,#c022a4 56.5px,#ef5d46 57.5px,#f98c24 58.5px,#f98f24 62px)"></i><i style="background:linear-gradient(#0f0463 0px,#100466 2.5px,#160679 3.5px,#360b94 4.5px,#a61da7 6.5px,#c6269c 7.5px,#d43186 11.5px,#aa1ea7 12.5px,#370b95 13.5px,#1a0681 14.5px,#3a0c97 42.5px,#3c0c99 43.5px,#53109f 44.5px,#9c1ba8 45.5px,#f06046 46.5px,#fdbe2d 47.5px,#fba627 48.5px,#d22f8a 49.5px,#bb21a5 50.5px,#bd21a5 56.5px,#de3a76 57.5px,#f98925 58.5px,#f99023 62px)"></i><i style="background:linear-gradient(#11056a 0px,#100465 2.5px,#16067a 3.5px,#6712a4 5.5px,#b320a5 7.5px,#cc2b93 9.5px,#cd2b92 10.5px,#ad20a2 11.5px,#4d0e9a 12.5px,#1f0785 13.5px,#2f0a8f 21.5px,#1e0784 31.5px,#3d0c99 43.5px,#6a13a4 44.5px,#cf2d8f 45.5px,#fba021 46.5px,#fece3c 47.5px,#f05e45 48.5px,#c022a5 49.5px,#be22a5 56.5px,#e54a61 57.5px,#f98e24 58.5px,#fba320 60.5px,#f99123 62px)"></i><i style="background:linear-gradient(#100464 0px,#0e045e 2.5px,#230888 4.5px,#7f15a9 6.5px,#b522a0 7.5px,#e14a64 9.5px,#e95b52 10.5px,#e34c61 11.5px,#3c0c97 12.5px,#1b0782 13.5px,#210886 22.5px,#27098a 35.5px,#3d0c99 41.5px,#4c0f9e 43.5px,#7114a6 44.5px,#bb23a1 45.5px,#f98c24 46.5px,#fecc3a 47.5px,#f88326 48.5px,#c224a1 49.5px,#b921a6 55.5px,#c224a1 56.5px,#f88525 57.5px,#fba021 59.5px,#f99023 62px)"></i><i style="background:linear-gradient(#100466 0px,#140573 3.5px,#390c96 5.5px,#6111a2 6.5px,#a91da7 7.5px,#e5406b 8.5px,#f77828 9.5px,#f98d24 10.5px,#e74565 11.5px,#300a90 12.5px,#26098a 15.5px,#28098b 32.5px,#410d9b 43.5px,#6312a3 44.5px,#aa1ea7 45.5px,#f36c38 46.5px,#fba92c 47.5px,#f88529 48.5px,#cf2d8f 49.5px,#bb21a5 50.5px,#ba21a5 55.5px,#ca2997 56.5px,#f88625 57.5px,#f98f24 62px)"></i><i style="background:linear-gradient(#130570 0px,#18067f 3.5px,#4d0f9e 6.5px,#9119a9 7.5px,#e64169 8.5px,#f88226 9.5px,#f98f24 10.5px,#e64367 11.5px,#7715a5 12.5px,#310a91 13.5px,#210886 22.5px,#330b92 40.5px,#3a0c97 42.5px,#4e0f9e 43.5px,#8116a6 44.5px,#c3269c 45.5px,#e7406a 46.5px,#ed574e 47.5px,#e9485f 48.5px,#bc21a5 50.5px,#be22a5 55.5px,#e33b71 56.5px,#f98925 57.5px,#f98f24 62px)"></i><i style="background:linear-gradient(#16067a 0px,#1a0681 3.5px,#460e9c 6.5px,#961aa8 7.5px,#e64367 8.5px,#f87e27 9.5px,#f99123 10.5px,#f88326 11.5px,#ca2b92 12.5px,#490e9d 13.5px,#2b098d 14.5px,#27098a 22.5px,#370b95 34.5px,#2f0a90 41.5px,#390c96 42.5px,#6f13a5 43.5px,#bd22a3 44.5px,#eb4f57 45.5px,#f87d27 46.5px,#f6742b 47.5px,#e3436a 48.5px,#c5269c 49.5px,#b921a6 54.5px,#be22a5 55.5px,#e6406b 56.5px,#f98a25 57.5px,#f98f24 62px)"></i><i style="background:linear-gradient(#180680 0px,#2e0a8f 5.5px,#430d9b 6.5px,#8116a9 7.5px,#c32898 8.5px,#f06345 10.5px,#f37139 11.5px,#df3c74 12.5px,#5610a0 13.5px,#260889 14.5px,#190680 21.5px,#350b94 42.5px,#440d9b 43.5px,#9319a9 44.5px,#e03975 45.5px,#f77927 46.5px,#f46c34 47.5px,#c4259e 48.5px,#b921a6 54.5px,#cb2a94 56.5px,#f88625 57.5px,#f98f24 62px)"></i><i style="background:linear-gradient(#17067c 0px,#2c098d 3.5px,#7a16a2 5.5px,#b32696 6.5px,#db4172 7.5px,#f58132 9.5px,#fbaa32 10.5px,#fcb933 11.5px,#e74564 12.5px,#440d9c 13.5px,#220887 14.5px,#1d0784 28.5px,#300a90 38.5px,#2e0a8f 43.5px,#53109f 44.5px,#b520a6 45.5px,#ee584d 46.5px,#f7872d 47.5px,#e14c62 48.5px,#c023a2 49.5px,#c324a1 56.5px,#f88525 57.5px,#f98f24 62px)"></i><i style="background:linear-gradient(#150576 0px,#18067f 1.5px,#460e9b 2.5px,#9a1aa8 3.5px,#d43088 4.5px,#ee594b 5.5px,#f88527 6.5px,#fba724 7.5px,#fecc3a 8.5px,#ffee96 9.5px,#fff9d0 10.5px,#fed853 11.5px,#eb4e59 12.5px,#6612a3 13.5px,#1b0782 14.5px,#29098c 42.5px,#3d0c96 43.5px,#8417a5 44.5px,#de3f72 45.5px,#fa9c21 46.5px,#ffdc50 47.5px,#fed03e 48.5px,#f3743a 49.5px,#c4259e 50.5px,#ba21a5 55.5px,#c92898 56.5px,#f88625 57.5px,#f98f24 62px)"></i><i style="background:linear-gradient(#150575 0px,#190680 1.5px,#4c0f9e 2.5px,#b11fa6 3.5px,#e64268 4.5px,#f46e34 5.5px,#fcad24 7.5px,#fed544 8.5px,#fff7ca 9.5px,#fffde8 10.5px,#fed651 11.5px,#e53f6c 12.5px,#5510a0 13.5px,#17067e 14.5px,#1f0785 22.5px,#300a90 27.5px,#17067e 36.5px,#28098b 41.5px,#6612a3 42.5px,#c12994 43.5px,#e84d5b 44.5px,#f98b24 45.5px,#fdbc2a 46.5px,#ffe664 47.5px,#ffe870 48.5px,#fba420 49.5px,#c7279a 50.5px,#b921a6 53.5px,#be22a5 55.5px,#e23e6f 56.5px,#f98925 57.5px,#f98f24 62px)"></i><i style="background:linear-gradient(#130570 0px,#29098b 2.5px,#6f13a5 3.5px,#b9249d 4.5px,#d73382 5.5px,#e2436a 6.5px,#fa9a22 8.5px,#fdc635 9.5px,#ffeb8f 10.5px,#fff2ab 11.5px,#ee584d 12.5px,#4b0f9d 13.5px,#1a0682 14.5px,#2d0a8e 28.5px,#1f0785 37.5px,#1b0782 41.5px,#5c11a1 42.5px,#c92a94 43.5px,#ec5352 44.5px,#f88126 45.5px,#fba021 46.5px,#fdc836 47.5px,#ffe76d 48.5px,#fdc533 49.5px,#c6279b 50.5px,#b921a6 53.5px,#be22a5 55.5px,#e3406c 56.5px,#f98a24 57.5px,#f98f24 62px)"></i><i style="background:linear-gradient(#100465 0px,#140574 2.5px,#27098a 3.5px,#7f16a5 5.5px,#a21ca8 6.5px,#c52995 7.5px,#f16540 9.5px,#fa9523 10.5px,#fa9f2b 11.5px,#8518a4 12.5px,#1e0784 13.5px,#2d0a8e 30.5px,#2b098d 42.5px,#5a10a0 43.5px,#ac20a2 44.5px,#e3436a 45.5px,#f57130 46.5px,#fb9e21 47.5px,#feca39 48.5px,#fba42b 49.5px,#c4259f 50.5px,#b921a6 55.5px,#c324a0 56.5px,#f87e27 57.5px,#fa9423 58.5px,#f98f24 62px)"></i><i style="background:linear-gradient(#0c0358 0px,#140572 3.5px,#460e9c 6.5px,#6c13a5 7.5px,#c0249f 8.5px,#f16a42 9.5px,#fa9c28 10.5px,#f16641 11.5px,#4d0f9e 12.5px,#17067c 13.5px,#27098a 26.5px,#210886 34.5px,#2a098c 43.5px,#5710a0 44.5px,#b421a2 45.5px,#e24568 46.5px,#ef6349 47.5px,#e55958 48.5px,#c4269c 49.5px,#b921a6 55.5px,#c223a3 56.5px,#f6742b 57.5px,#f98e24 58.5px,#f98f24 62px)"></i><i style="background:linear-gradient(#0a0350 0px,#220885 6.5px,#3e0c98 7.5px,#ad1ea7 8.5px,#f98b24 9.5px,#fecc3b 10.5px,#fcb62a 11.5px,#ae1fa6 12.5px,#1e0784 13.5px,#2a098c 25.5px,#210886 39.5px,#380c96 44.5px,#8117a5 46.5px,#b01fa6 47.5px,#c022a4 56.5px,#f05f43 57.5px,#f98c24 58.5px,#f98f24 62px)"></i><i style="background:linear-gradient(#0a0353 0px,#11056a 6.5px,#220887 7.5px,#8c18a9 8.5px,#f87d27 9.5px,#feca39 10.5px,#fdba29 11.5px,#9d1ba8 12.5px,#2d0a8e 13.5px,#370b95 43.5px,#3f0d98 46.5px,#9219a9 47.5px,#b620a6 48.5px,#c223a2 56.5px,#f57332 57.5px,#f98e24 58.5px,#f98f24 62px)"></i><i style="background:linear-gradient(#0a0353 0px,#1b067e 6.5px,#430d98 7.5px,#bb259a 8.5px,#fa9d21 9.5px,#fecf3e 10.5px,#f98e24 11.5px,#6b13a5 12.5px,#28098b 13.5px,#240888 33.5px,#2f0a90 46.5px,#7314a6 47.5px,#af1fa6 48.5px,#bb21a5 55.5px,#cc2b93 56.5px,#f88625 57.5px,#f98f24 62px)"></i><i style="background:linear-gradient(#0b0355 0px,#230888 4.5px,#5e11a2 6.5px,#9a1aa8 7.5px,#dc377b 8.5px,#f47935 9.5px,#fa9a2a 10.5px,#e74f5a 11.5px,#3e0d99 12.5px,#220887 13.5px,#230887 37.5px,#380c96 46.5px,#ae1ea6 48.5px,#bd21a5 53.5px,#d12f8b 54.5px,#bf22a5 55.5px,#d53285 56.5px,#f98825 57.5px,#f98f24 62px)"></i><i style="background:linear-gradient(#0d045c 0px,#1f0785 3.5px,#5e11a2 5.5px,#c224a0 7.5px,#ed5550 9.5px,#f57331 10.5px,#ef5d47 11.5px,#a7209f 12.5px,#27098a 13.5px,#1e0784 17.5px,#240888 27.5px,#220887 34.5px,#3a0c97 42.5px,#3a0c97 46.5px,#b11fa6 48.5px,#bd21a5 52.5px,#d22f8a 53.5px,#c022a5 55.5px,#e94761 56.5px,#f98b24 57.5px,#f99123 62px)"></i><i style="background:linear-gradient(#100464 0px,#16067b 2.5px,#460e9b 4.5px,#ac1ea7 6.5px,#dd3a77 7.5px,#f46f35 8.5px,#fa9423 9.5px,#fcb027 10.5px,#fcb42e 11.5px,#fa9826 12.5px,#bf2f86 13.5px,#3e0c97 14.5px,#200786 15.5px,#1f0785 32.5px,#3c0c99 38.5px,#420d9b 46.5px,#b11fa6 48.5px,#c82899 52.5px,#cd2b92 53.5px,#bc21a5 54.5px,#bf22a5 55.5px,#e94860 56.5px,#f98c24 57.5px,#fcac1f 59.5px,#f99123 62px)"></i><i style="background:linear-gradient(#11056a 0px,#18067f 2.5px,#4c0f9e 3.5px,#9e1ba8 4.5px,#d12f8a 5.5px,#ec574f 6.5px,#f88527 7.5px,#fba721 8.5px,#fed645 10.5px,#ffe668 11.5px,#ffe565 12.5px,#f2683b 13.5px,#390c94 14.5px,#17067d 15.5px,#29098c 31.5px,#3c0c98 40.5px,#360b94 46.5px,#af1fa6 48.5px,#bc21a5 51.5px,#cf2d8f 52.5px,#ba21a6 55.5px,#c2249f 56.5px,#e24c62 57.5px,#f98b24 58.5px,#fa9a22 59.5px,#f99024 62px)"></i><i style="background:linear-gradient(#130570 0px,#1a0681 2.5px,#6312a3 3.5px,#c82899 4.5px,#f05e45 5.5px,#f98e24 6.5px,#fdbb2a 8.5px,#ffda48 10.5px,#ffee92 11.5px,#ffe665 12.5px,#9f1ca7 13.5px,#1b0782 14.5px,#380c95 46.5px,#530f9f 47.5px,#9119a9 48.5px,#b520a6 49.5px,#bd21a5 51.5px,#d63284 52.5px,#bb21a5 54.5px,#c022a4 57.5px,#ea4c5a 58.5px,#f98b24 59.5px,#f98f24 62px)"></i><i style="background:linear-gradient(#150577 0px,#160679 1.5px,#2d0a8e 2.5px,#7414a6 3.5px,#b721a4 4.5px,#e2406d 5.5px,#f6772c 6.5px,#fcb423 8.5px,#ffe159 10.5px,#ffed8d 11.5px,#e66356 12.5px,#3e0c97 13.5px,#210886 14.5px,#1f0785 30.5px,#3a0c97 46.5px,#4b0e9d 47.5px,#981aa8 48.5px,#b720a6 49.5px,#bd21a5 51.5px,#d63284 52.5px,#ba21a6 55.5px,#c123a3 57.5px,#f36c3b 58.5px,#f98d24 59.5px,#f98f24 62px)"></i><i style="background:linear-gradient(#140573 0px,#27098a 2.5px,#981aa8 4.5px,#cd2b92 5.5px,#ef5d47 6.5px,#fa9423 7.5px,#fcb423 8.5px,#fed13f 9.5px,#ffeb83 10.5px,#ffdd4c 11.5px,#b11fa6 12.5px,#370b95 13.5px,#1c0782 14.5px,#230887 23.5px,#2e0a8f 46.5px,#3e0d99 47.5px,#ab1ea7 48.5px,#c022a4 51.5px,#d43186 52.5px,#db367d 53.5px,#bb21a5 55.5px,#bc21a5 56.5px,#d63284 57.5px,#f98825 58.5px,#f98f24 62px)"></i><i style="background:linear-gradient(#150576 0px,#1c0783 2.5px,#470e9c 3.5px,#8c18a9 4.5px,#b922a2 5.5px,#ec5650 7.5px,#fa9523 9.5px,#fdc635 11.5px,#f2663c 12.5px,#53109f 13.5px,#1a0682 14.5px,#2f0a8f 27.5px,#2c098d 33.5px,#2a098c 46.5px,#5510a0 47.5px,#ae1ea6 48.5px,#bd21a5 51.5px,#d22f8a 52.5px,#d53186 53.5px,#c023a2 54.5px,#bc21a5 56.5px,#d9357f 57.5px,#f98825 58.5px,#f98f24 62px)"></i><i style="background:linear-gradient(#17067e 0px,#17067d 2.5px,#7614a6 5.5px,#a71da7 7.5px,#db367d 9.5px,#f57531 11.5px,#d83381 12.5px,#2d0a8e 13.5px,#1f0785 15.5px,#1c0783 24.5px,#330b92 35.5px,#3b0c98 46.5px,#9018a9 47.5px,#b520a6 48.5px,#c2259f 53.5px,#b921a6 56.5px,#c324a1 57.5px,#f88525 58.5px,#f98f24 62px)"></i><i style="background:linear-gradient(#160578 0px,#1f0785 3.5px,#6612a3 6.5px,#9e1ba8 7.5px,#d02e8d 8.5px,#ef5b49 9.5px,#f88926 10.5px,#fa9e25 11.5px,#f68131 12.5px,#59109e 13.5px,#1a0680 14.5px,#17067d 26.5px,#310a91 34.5px,#2f0a90 45.5px,#3b0c98 46.5px,#9018a9 47.5px,#b520a6 48.5px,#c324a1 57.5px,#f88525 58.5px,#f98f24 62px)"></i><i style="background:linear-gradient(#11056a 0px,#150576 4.5px,#1d0781 5.5px,#3e0c97 6.5px,#8717a8 7.5px,#c72997 8.5px,#f16142 9.5px,#fba021 10.5px,#fdbc2a 11.5px,#fa9c21 12.5px,#8116a9 13.5px,#240888 14.5px,#160679 25.5px,#28098a 36.5px,#2e0a8f 46.5px,#a31ca7 48.5px,#b921a6 50.5px,#bb21a5 56.5px,#d22f8b 57.5px,#f98725 58.5px,#f98f24 62px)"></i><i style="background:linear-gradient(#100467 0px,#160679 5.5px,#340b93 6.5px,#9d1ba8 7.5px,#e24569 8.5px,#f88329 9.5px,#fcb427 10.5px,#feca38 11.5px,#f88525 12.5px,#6312a3 13.5px,#330b92 14.5px,#1e0783 25.5px,#2e0a8f 32.5px,#340b93 40.5px,#320b92 46.5px,#7714a7 48.5px,#a51da7 49.5px,#b520a6 51.5px,#b620a6 55.5px,#ba21a5 56.5px,#e03976 57.5px,#f88425 58.5px,#f98a24 62px)"></i><i style="width:1px;background:linear-gradient(#12056d 0px,#18067f 5.5px,#4b0e9d 6.5px,#ca2996 7.5px,#f7752a 8.5px,#fba91f 9.5px,#fdc735 10.5px,#fed13f 11.5px,#f36937 12.5px,#370b95 13.5px,#340b93 18.5px,#300a90 25.5px,#420d9c 45.5px,#400d9b 47.5px,#6f13a5 50.5px,#3d0d99 52.5px,#3e0d9a 54.5px,#8c18a9 57.5px,#c123a3 58.5px,#bc21a5 62px)"></i></div><div class="im" style="left:109px;top:256px;width:82px;height:62px;--w:2px;"><i style="background:linear-gradient(#160578 0px,#110468 4.5px,#1a0680 7.5px,#9519a9 8.5px,#e54c5f 9.5px,#f68130 10.5px,#fa9c24 11.5px,#f99223 13.5px,#f2643d 14.5px,#6a13a3 15.5px,#28098b 16.5px,#1d0784 19.5px,#340b93 27.5px,#2c098d 44.5px,#370b95 48.5px,#951aa5 49.5px,#f68732 50.5px,#fcb738 51.5px,#d53186 52.5px,#bb21a5 53.5px,#ba21a5 58.5px,#c32799 59.5px,#eb584f 60.5px,#ed574e 62px)"></i><i style="background:linear-gradient(#0e045e 0px,#0d045c 4.5px,#2b098d 7.5px,#7c15a8 8.5px,#ef5c48 9.5px,#fdb928 10.5px,#ffdd4b 11.5px,#ffe254 12.5px,#fecf3d 13.5px,#eb4d5a 14.5px,#2c098d 15.5px,#1b0781 23.5px,#1f0785 32.5px,#2e0a8f 46.5px,#60119f 47.5px,#b52a8c 48.5px,#f57f34 49.5px,#ffdb4e 50.5px,#fed13f 51.5px,#de3878 52.5px,#bd21a5 53.5px,#bb21a5 58.5px,#d12e8c 59.5px,#f5722f 60.5px,#f88226 62px)"></i><i style="background:linear-gradient(#09034b 0px,#09034c 3.5px,#27098a 6.5px,#2f0a8f 7.5px,#8417a8 8.5px,#e63e6c 9.5px,#fa9622 10.5px,#fdc635 11.5px,#ffe04e 12.5px,#ffdb49 13.5px,#dd436d 14.5px,#210886 15.5px,#240888 28.5px,#26098a 45.5px,#3a0c97 46.5px,#c4259e 47.5px,#ef5d47 48.5px,#fb9f22 49.5px,#ffe45c 50.5px,#fedf74 51.5px,#df3877 52.5px,#bc21a5 53.5px,#bb21a5 58.5px,#ca2996 59.5px,#eb5056 60.5px,#fa9b22 62px)"></i><i style="background:linear-gradient(#080247 0px,#080244 3.5px,#150577 6.5px,#3f0d99 7.5px,#ae1ea6 8.5px,#e74267 9.5px,#f88625 10.5px,#fdc433 11.5px,#ffdf4d 12.5px,#f68a34 13.5px,#29098b 14.5px,#17067b 15.5px,#250889 23.5px,#1e0784 35.5px,#220887 45.5px,#2e0a8f 46.5px,#5b10a0 47.5px,#a81fa2 48.5px,#e1446a 49.5px,#fba728 50.5px,#fff4b9 51.5px,#f37338 52.5px,#c123a3 53.5px,#ba21a5 58.5px,#c5259e 59.5px,#e94860 60.5px,#f99223 62px)"></i><i style="background:linear-gradient(#080243 0px,#09034b 4.5px,#1c0782 7.5px,#8617a9 8.5px,#e84662 9.5px,#fba420 10.5px,#fed846 11.5px,#fed847 12.5px,#dd3a76 13.5px,#250888 14.5px,#1d0784 24.5px,#2f0a8f 46.5px,#490e9d 48.5px,#a71da7 49.5px,#ed5550 50.5px,#fecb39 51.5px,#fed94c 52.5px,#da357e 53.5px,#bc21a5 54.5px,#c123a4 59.5px,#e43d6e 60.5px,#f99223 62px)"></i><i style="background:linear-gradient(#07023e 0px,#09034e 4.5px,#1b0682 7.5px,#7214a6 8.5px,#e23d71 9.5px,#fba420 10.5px,#fed846 11.5px,#ffe253 12.5px,#fa9d24 13.5px,#460e9c 14.5px,#2c0a8e 15.5px,#1c0782 22.5px,#350b93 36.5px,#350b93 46.5px,#430d9a 47.5px,#a4219a 48.5px,#e04e61 49.5px,#f78e2f 50.5px,#fed74a 51.5px,#fecd3d 52.5px,#dd3a77 53.5px,#bd21a5 54.5px,#c124a0 58.5px,#d53186 59.5px,#f16541 60.5px,#f99023 62px)"></i><i style="background:linear-gradient(#080245 0px,#0f0462 5.5px,#150576 6.5px,#2d0a8e 7.5px,#6c13a5 8.5px,#bc23a0 9.5px,#ef5d46 10.5px,#fba726 11.5px,#fed745 12.5px,#fed644 13.5px,#d64272 14.5px,#320b92 15.5px,#190681 17.5px,#230888 24.5px,#200786 28.5px,#330b92 34.5px,#3d0c99 46.5px,#ab1ea6 47.5px,#f77d2c 48.5px,#fdbf2e 49.5px,#ffe256 50.5px,#ffe669 51.5px,#f56f31 52.5px,#c123a3 53.5px,#bc21a5 57.5px,#d33088 58.5px,#f6792c 59.5px,#f88625 60.5px,#f2673b 62px)"></i><i style="background:linear-gradient(#0b0356 0px,#100465 5.5px,#29098b 7.5px,#5610a0 8.5px,#a61da7 9.5px,#e74564 10.5px,#fa9423 11.5px,#fecf3d 12.5px,#ffdd50 13.5px,#d14074 14.5px,#2b098d 15.5px,#18067f 16.5px,#2a098c 29.5px,#29098c 38.5px,#410d9a 46.5px,#7e17a2 47.5px,#e14e61 48.5px,#f78b2c 49.5px,#fdc02f 50.5px,#ffe45d 51.5px,#fa9722 52.5px,#c324a0 53.5px,#bb21a5 57.5px,#cb2a95 58.5px,#f57231 59.5px,#f6752a 60.5px,#f1643e 62px)"></i><i style="background:linear-gradient(#0f0461 0px,#12056b 6.5px,#150577 7.5px,#2e0a8f 8.5px,#9419a8 9.5px,#ec5453 10.5px,#fa9829 11.5px,#fba936 12.5px,#f0784a 13.5px,#350b93 14.5px,#250889 16.5px,#1d0784 25.5px,#3c0c98 47.5px,#5910a1 48.5px,#bd2894 49.5px,#ea6450 50.5px,#eb7753 51.5px,#ce387e 52.5px,#bc21a5 53.5px,#bf22a5 58.5px,#e4406c 59.5px,#f98725 60.5px,#f2663c 62px)"></i><i style="background:linear-gradient(#12056d 0px,#150575 7.5px,#28098b 8.5px,#7c15a6 9.5px,#d6387e 10.5px,#f06146 11.5px,#ef5d47 12.5px,#bc2894 13.5px,#510f9a 14.5px,#28098b 15.5px,#2b098d 20.5px,#1f0785 28.5px,#3d0c99 48.5px,#4b0e9d 51.5px,#a51da7 52.5px,#b820a6 53.5px,#c022a5 58.5px,#dd3879 59.5px,#f98a24 60.5px,#f2663b 62px)"></i><i style="background:linear-gradient(#18067d 0px,#230887 3.5px,#330b92 4.5px,#17067c 6.5px,#19067f 7.5px,#4b0e9d 8.5px,#c92997 9.5px,#f5702f 10.5px,#f88725 11.5px,#f77a27 13.5px,#d73383 14.5px,#350b94 15.5px,#1d0783 16.5px,#1d0784 34.5px,#370b95 46.5px,#7a16a1 48.5px,#c35766 50.5px,#cb5266 51.5px,#c42a92 52.5px,#bb21a5 53.5px,#bc21a5 58.5px,#d43187 59.5px,#f98925 60.5px,#f2673a 62px)"></i><i style="background:linear-gradient(#250888 0px,#2b098d 3.5px,#330b92 4.5px,#200785 6.5px,#2e0a8f 7.5px,#6912a4 8.5px,#d02e8d 9.5px,#f36938 10.5px,#f88226 11.5px,#f77a27 13.5px,#b321a3 14.5px,#28098b 15.5px,#17067c 17.5px,#29098c 40.5px,#2f0a90 46.5px,#7a15a8 47.5px,#d12e8c 48.5px,#f77d2a 49.5px,#fdbf2e 50.5px,#ffda48 51.5px,#fa9424 52.5px,#c92898 53.5px,#b921a6 55.5px,#bb21a5 58.5px,#ce2c90 59.5px,#f6792c 60.5px,#f46b36 62px)"></i><i style="background:linear-gradient(#28098b 0px,#210886 4.5px,#310a91 5.5px,#9c1ba8 8.5px,#cb2a95 9.5px,#eb4e59 10.5px,#f77a27 11.5px,#fa9922 12.5px,#f98825 13.5px,#9519a9 14.5px,#210886 15.5px,#17067d 26.5px,#27098a 34.5px,#310a91 46.5px,#5910a1 47.5px,#b21fa6 48.5px,#ea4b5c 49.5px,#fba021 50.5px,#fed341 51.5px,#fecc3a 52.5px,#d73382 53.5px,#bc21a5 54.5px,#ba21a5 57.5px,#c8289a 58.5px,#f16843 59.5px,#f77c2a 60.5px,#f2643d 62px)"></i><i style="background:linear-gradient(#2d0a8e 0px,#220887 2.5px,#3b0c98 4.5px,#b01fa6 7.5px,#c82899 8.5px,#de3878 9.5px,#f36a37 10.5px,#fba71f 11.5px,#fec938 12.5px,#fcab20 13.5px,#cd2d8d 14.5px,#28098b 15.5px,#150577 16.5px,#2b098d 46.5px,#5e11a2 47.5px,#d02e8d 48.5px,#f88629 49.5px,#feca38 50.5px,#ffdd4b 51.5px,#f98a25 52.5px,#c324a0 53.5px,#bb21a5 57.5px,#cf2d8e 58.5px,#fa9323 59.5px,#f36a36 60.5px,#f16240 62px)"></i><i style="background:linear-gradient(#28098b 0px,#1f0785 2.5px,#450e9c 4.5px,#b31fa6 7.5px,#dc377b 9.5px,#f88525 11.5px,#fa9822 12.5px,#fa9622 13.5px,#eb4e58 14.5px,#390c96 15.5px,#160578 16.5px,#28098b 24.5px,#180680 34.5px,#28098b 46.5px,#7a15a8 47.5px,#ef5b49 48.5px,#fdbb29 49.5px,#ffde4c 50.5px,#fba525 51.5px,#d63284 52.5px,#bc21a5 53.5px,#c022a4 58.5px,#ec5056 59.5px,#f98a24 60.5px,#f36937 62px)"></i><i style="background:linear-gradient(#210886 0px,#1a0680 3.5px,#8216a6 7.5px,#a11ca8 8.5px,#d53285 9.5px,#f3673a 10.5px,#f88126 11.5px,#f88426 12.5px,#ef5d47 13.5px,#7d16a3 14.5px,#240888 15.5px,#17067d 17.5px,#28098b 27.5px,#27098a 46.5px,#330b92 47.5px,#ba2796 48.5px,#fba021 49.5px,#ffda48 50.5px,#f88426 51.5px,#c224a2 52.5px,#c123a2 58.5px,#e03a74 59.5px,#f88326 60.5px,#fa9423 62px)"></i><i style="background:linear-gradient(#140573 0px,#17067b 4.5px,#330b92 7.5px,#4d0f9e 8.5px,#b220a4 9.5px,#ee594c 10.5px,#f88126 11.5px,#f88326 12.5px,#ed574f 13.5px,#7014a4 14.5px,#2c098d 15.5px,#2d0a8e 25.5px,#28098b 36.5px,#370b95 44.5px,#3a0c97 47.5px,#5e11a2 48.5px,#ef5a4a 49.5px,#fed341 50.5px,#fa9922 51.5px,#cc2b93 52.5px,#bb21a5 53.5px,#bf23a3 58.5px,#db367c 60.5px,#e95256 62px)"></i><i style="background:linear-gradient(#0d045b 0px,#1c0783 7.5px,#310a91 8.5px,#8616aa 9.5px,#e43c70 10.5px,#f77828 11.5px,#f88725 12.5px,#f5712f 13.5px,#6b13a2 14.5px,#19067b 15.5px,#250889 22.5px,#340b93 36.5px,#2b098c 45.5px,#2a098c 47.5px,#440d9b 48.5px,#e13b73 49.5px,#fdc12f 50.5px,#fece3c 51.5px,#f06343 52.5px,#c123a3 53.5px,#c324a1 59.5px,#d12f8b 60.5px,#e95157 62px)"></i><i style="background:linear-gradient(#0b0357 0px,#160679 5.5px,#490e9b 8.5px,#8516aa 9.5px,#d22f8a 10.5px,#ec584e 11.5px,#ec5b4e 12.5px,#bd2992 13.5px,#26098a 14.5px,#150576 15.5px,#210886 29.5px,#2d0a8e 35.5px,#330b92 42.5px,#1f0784 46.5px,#2a098c 47.5px,#8e18a8 48.5px,#e84860 49.5px,#fcab1f 50.5px,#ffdc4a 51.5px,#fcaf23 52.5px,#d83481 53.5px,#bc21a5 54.5px,#bd21a5 58.5px,#d12f8c 59.5px,#f16441 60.5px,#f88725 62px)"></i><i style="background:linear-gradient(#0f0461 0px,#160679 4.5px,#250889 5.5px,#8918a6 7.5px,#b4249b 8.5px,#d7377e 9.5px,#ee604a 10.5px,#fa9a2b 11.5px,#f3723c 12.5px,#ad1fa5 13.5px,#260889 14.5px,#1f0785 18.5px,#2a098c 33.5px,#350b94 41.5px,#2f0a90 47.5px,#a41ca7 48.5px,#f36937 49.5px,#fdba29 50.5px,#ffdb49 51.5px,#fa9d21 52.5px,#c92997 53.5px,#b921a6 55.5px,#c324a0 58.5px,#e4406c 59.5px,#f98f24 60.5px,#f3673a 62px)"></i><i style="background:linear-gradient(#11056a 0px,#210885 3.5px,#3c0c95 4.5px,#7414a4 5.5px,#b8249b 6.5px,#de3d74 7.5px,#f98c24 9.5px,#fdb928 10.5px,#ffee95 11.5px,#feda60 12.5px,#ea5454 13.5px,#3b0c97 14.5px,#250889 15.5px,#230887 24.5px,#240888 30.5px,#3f0d9a 47.5px,#6a13a4 48.5px,#c52896 49.5px,#f06246 50.5px,#f3743c 51.5px,#d02f8b 52.5px,#bb21a5 53.5px,#c223a3 58.5px,#eb4d5a 59.5px,#f5702f 60.5px,#f1633f 62px)"></i><i style="background:linear-gradient(#130570 0px,#1f0785 2.5px,#3d0c99 3.5px,#8416a9 4.5px,#c7279a 5.5px,#ea4c5b 6.5px,#f6782c 7.5px,#fcad20 9.5px,#fdc837 10.5px,#ffef9a 11.5px,#fffce6 12.5px,#fba320 13.5px,#4a0e9d 14.5px,#260889 15.5px,#1e0784 36.5px,#3b0c97 46.5px,#8e18a8 47.5px,#da3b78 48.5px,#f68331 49.5px,#fdc23d 50.5px,#ec5254 51.5px,#bf22a5 52.5px,#c223a2 58.5px,#e74466 59.5px,#f77b29 60.5px,#f2653d 62px)"></i><i style="background:linear-gradient(#130570 0px,#18067e 2.5px,#300a90 3.5px,#6412a3 4.5px,#b11fa5 5.5px,#e3426b 6.5px,#f7792b 7.5px,#fcb120 9.5px,#fdc837 10.5px,#ffea7e 11.5px,#fffde7 12.5px,#ffe26c 13.5px,#af3081 14.5px,#310a91 15.5px,#1a0680 16.5px,#220887 28.5px,#2c0a8e 34.5px,#240888 40.5px,#2f0a8f 46.5px,#53109f 47.5px,#c62b8f 48.5px,#fa9b22 49.5px,#fff0a0 50.5px,#fa9d21 51.5px,#c4259f 52.5px,#b921a6 57.5px,#bc21a5 58.5px,#d33088 59.5px,#f37038 60.5px,#f78229 62px)"></i><i style="background:linear-gradient(#100465 0px,#200785 3.5px,#370b95 4.5px,#6e13a5 5.5px,#b421a2 6.5px,#e2426b 7.5px,#f57332 8.5px,#fa9a22 9.5px,#fdb826 10.5px,#ffe460 11.5px,#fff6c2 12.5px,#fff09e 13.5px,#fba91f 14.5px,#360b94 15.5px,#140574 16.5px,#2b098d 43.5px,#29098c 46.5px,#3a0c97 47.5px,#9d1ba8 48.5px,#f98925 49.5px,#fff1a4 50.5px,#fcaa20 51.5px,#d53186 52.5px,#bc21a5 53.5px,#bc21a5 58.5px,#d23089 59.5px,#f06042 60.5px,#fa9922 62px)"></i><i style="background:linear-gradient(#0f0463 0px,#29098c 4.5px,#3b0c97 5.5px,#6512a3 6.5px,#a21ca8 7.5px,#d43087 8.5px,#ee5a4a 9.5px,#f88328 10.5px,#fcaf29 11.5px,#fdc232 12.5px,#fcb42c 13.5px,#e74960 14.5px,#200786 15.5px,#160578 17.5px,#320b91 44.5px,#340b93 47.5px,#6f14a4 48.5px,#dc486a 49.5px,#fbb038 50.5px,#fcaa1f 51.5px,#de3878 52.5px,#bd21a5 53.5px,#bb21a5 58.5px,#cc2b93 59.5px,#f46f32 60.5px,#f87c27 62px)"></i><i style="background:linear-gradient(#0a0351 0px,#17067d 4.5px,#500f9e 7.5px,#8617a7 8.5px,#c3269b 9.5px,#ea4b5c 10.5px,#f98825 11.5px,#fba52c 13.5px,#f68430 14.5px,#5f11a2 15.5px,#18067d 16.5px,#260889 45.5px,#240888 48.5px,#490e9a 49.5px,#981ba3 50.5px,#d03d78 51.5px,#b420a6 52.5px,#bf22a5 59.5px,#e13b73 60.5px,#fa9323 62px)"></i><i style="background:linear-gradient(#090349 0px,#140574 4.5px,#3e0d98 7.5px,#8417a6 8.5px,#d83481 9.5px,#f99023 10.5px,#fdc736 11.5px,#fed746 12.5px,#fdc736 13.5px,#ee634a 14.5px,#5e11a2 15.5px,#17067c 16.5px,#250889 36.5px,#240888 41.5px,#190680 48.5px,#390c96 50.5px,#5f11a2 51.5px,#ad1ea7 52.5px,#b921a6 56.5px,#bd21a5 58.5px,#ce2d8f 59.5px,#e74b5e 60.5px,#fa9822 62px)"></i><i style="background:linear-gradient(#140573 0px,#240888 4.5px,#3d0c98 6.5px,#7214a6 7.5px,#be22a5 8.5px,#f1633f 9.5px,#fcb122 10.5px,#fed442 11.5px,#fed442 12.5px,#f47334 13.5px,#9c1ba8 14.5px,#28098b 15.5px,#17067e 24.5px,#340b93 36.5px,#220887 49.5px,#340b93 50.5px,#6712a4 51.5px,#b31fa6 52.5px,#bb21a5 57.5px,#cb2a94 58.5px,#ed564e 59.5px,#fa9622 60.5px,#f88525 62px)"></i><i style="background:linear-gradient(#29098b 0px,#200785 3.5px,#430d9b 5.5px,#9e1ba8 8.5px,#d7377e 9.5px,#f99027 10.5px,#fdc231 11.5px,#fdc231 12.5px,#e94860 13.5px,#7a15a8 14.5px,#28098b 15.5px,#1b0782 17.5px,#230887 25.5px,#360b94 40.5px,#320b92 50.5px,#6912a4 51.5px,#b420a6 52.5px,#bc21a5 58.5px,#d23089 59.5px,#f77e2b 60.5px,#f5702f 62px)"></i><i style="background:linear-gradient(#300a90 0px,#180680 2.5px,#310a91 4.5px,#a31ca7 7.5px,#d53285 9.5px,#e74367 10.5px,#f57030 11.5px,#f98825 12.5px,#f67e30 13.5px,#d33f76 14.5px,#6912a4 15.5px,#2d0a8e 16.5px,#500f9a 17.5px,#1e0784 18.5px,#19067f 24.5px,#260889 33.5px,#1a0681 43.5px,#240888 50.5px,#470e9d 51.5px,#b11fa6 52.5px,#bb21a5 58.5px,#cb2a95 59.5px,#f77f2c 60.5px,#f2673a 62px)"></i><i style="background:linear-gradient(#2f0a90 0px,#200785 3.5px,#330b92 4.5px,#9d1ba8 6.5px,#ce2c90 7.5px,#f47236 9.5px,#f99223 10.5px,#fdc539 11.5px,#fed755 12.5px,#fcad29 13.5px,#ed5b4c 14.5px,#9519a9 15.5px,#3f0d9a 16.5px,#9f1ba8 17.5px,#3c0c97 18.5px,#18067f 19.5px,#240888 30.5px,#240888 35.5px,#2a098c 49.5px,#2f0a8f 50.5px,#480e9d 51.5px,#b11fa6 52.5px,#bb21a5 57.5px,#cd2c91 58.5px,#f36f3a 59.5px,#f7782a 60.5px,#f2643e 62px)"></i><i style="background:linear-gradient(#210886 0px,#2c098d 3.5px,#500f9e 4.5px,#971aa8 5.5px,#d02e8d 6.5px,#f88326 8.5px,#fba71f 9.5px,#fecd3c 10.5px,#fff6c3 11.5px,#fff7ca 12.5px,#f1633f 13.5px,#8c18a7 14.5px,#3d0c99 15.5px,#9019a7 16.5px,#9119a9 17.5px,#29098b 18.5px,#150576 20.5px,#240888 43.5px,#29098b 49.5px,#330b92 50.5px,#6f13a5 51.5px,#b420a6 52.5px,#bb21a5 54.5px,#c92997 55.5px,#bb21a5 57.5px,#ce2c91 58.5px,#ef5b4a 59.5px,#f98d24 60.5px,#f36a36 62px)"></i><i style="background:linear-gradient(#18067e 0px,#6111a2 3.5px,#c3259f 5.5px,#e64268 6.5px,#f6752c 7.5px,#fcb625 9.5px,#fecd3b 10.5px,#fff5b9 11.5px,#fffce6 12.5px,#f88625 13.5px,#5c11a1 14.5px,#7414a6 15.5px,#a31ca7 16.5px,#450d9a 17.5px,#18067f 18.5px,#240888 44.5px,#2a098c 50.5px,#6912a4 51.5px,#9c1ba8 52.5px,#a11ca8 54.5px,#d22f8b 55.5px,#da357e 56.5px,#bf22a4 57.5px,#bd21a5 58.5px,#d53186 59.5px,#f77a27 60.5px,#f87c27 62px)"></i><i style="background:linear-gradient(#190680 0px,#5b11a1 2.5px,#b11fa6 4.5px,#da357e 5.5px,#f36b36 6.5px,#fa9c21 7.5px,#fdc635 9.5px,#fed140 10.5px,#fffde7 12.5px,#fcaa1f 13.5px,#400d9a 14.5px,#aa1ea7 15.5px,#8316a9 16.5px,#240888 17.5px,#200786 27.5px,#250889 44.5px,#260889 50.5px,#220887 53.5px,#5510a0 54.5px,#e44765 55.5px,#e33e6e 56.5px,#bf22a5 57.5px,#bd21a5 58.5px,#d43187 59.5px,#f6732b 60.5px,#f87f26 62px)"></i><i style="background:linear-gradient(#1a0681 0px,#440e9b 2.5px,#b921a6 4.5px,#e63f6b 5.5px,#f88026 6.5px,#fcaa1f 7.5px,#ffe253 10.5px,#fff7c8 11.5px,#fffde7 12.5px,#fecc3a 13.5px,#a11ca7 14.5px,#6813a2 15.5px,#9e1ba8 16.5px,#380c95 17.5px,#1d0783 19.5px,#310a91 49.5px,#29098c 53.5px,#6f13a5 54.5px,#ed5451 55.5px,#cb2a95 56.5px,#bc21a5 57.5px,#c4259f 58.5px,#dc377b 59.5px,#f98b24 60.5px,#f46c34 62px)"></i><i style="background:linear-gradient(#1a067f 0px,#28098b 2.5px,#480e9c 3.5px,#9119a9 4.5px,#cf2d8f 5.5px,#ec5254 6.5px,#f67a2f 7.5px,#fba922 9.5px,#fdc331 10.5px,#ffeb82 11.5px,#fff8cd 12.5px,#fed543 13.5px,#c72899 14.5px,#3f0d99 15.5px,#ae1ea7 16.5px,#8717a9 17.5px,#320b92 18.5px,#2b098d 31.5px,#2e0a8f 49.5px,#310a91 53.5px,#6f13a5 54.5px,#da357e 55.5px,#c023a3 56.5px,#bb21a5 57.5px,#ce2d8f 58.5px,#f47136 59.5px,#f57130 60.5px,#f1633f 62px)"></i><i style="background:linear-gradient(#11056a 0px,#160678 2.5px,#27098a 3.5px,#9a1aa8 5.5px,#c5279b 6.5px,#ee594b 8.5px,#f98e24 10.5px,#fdba2f 11.5px,#fedb58 12.5px,#fba420 13.5px,#8517a8 14.5px,#520f9f 15.5px,#ad1ea7 16.5px,#8316a9 17.5px,#29098b 18.5px,#2a098c 30.5px,#220887 37.5px,#3a0c97 53.5px,#aa1ea7 54.5px,#b921a6 56.5px,#bc21a5 57.5px,#d43186 58.5px,#fa9423 59.5px,#f2673a 60.5px,#f16240 62px)"></i><i style="background:linear-gradient(#110468 0px,#1c0783 3.5px,#3a0c97 4.5px,#9419a8 6.5px,#d73482 9.5px,#ee5a4a 11.5px,#f7852a 12.5px,#f98725 13.5px,#7c15a7 14.5px,#390c97 15.5px,#a81da7 16.5px,#9119a9 17.5px,#1e0784 18.5px,#16067b 20.5px,#26098a 47.5px,#2b098d 52.5px,#6512a3 53.5px,#b31fa6 54.5px,#c5269d 58.5px,#f16941 59.5px,#f46b35 60.5px,#f1633f 62px)"></i><i style="background:linear-gradient(#0e0461 0px,#1e0783 4.5px,#5b10a0 8.5px,#a51da7 10.5px,#d9357f 11.5px,#f47638 12.5px,#fa9b29 13.5px,#f89230 14.5px,#db4271 15.5px,#b31fa6 16.5px,#a21ca7 17.5px,#2e0a8f 18.5px,#16067a 19.5px,#300a90 52.5px,#9519a9 53.5px,#b720a6 54.5px,#bb21a5 58.5px,#ce2c90 59.5px,#f88426 60.5px,#f36938 62px)"></i><i style="background:linear-gradient(#100466 0px,#1a0680 7.5px,#250889 8.5px,#430d9c 9.5px,#961aa9 10.5px,#ea4a5d 11.5px,#fcb726 12.5px,#fed745 13.5px,#fdc230 14.5px,#de3a77 15.5px,#bd21a5 16.5px,#9e1ba8 17.5px,#250889 18.5px,#17067c 20.5px,#28098b 47.5px,#29098b 51.5px,#380c95 52.5px,#ae1ea6 53.5px,#c4269c 58.5px,#e14768 59.5px,#f88126 60.5px,#f3673a 62px)"></i><i style="background:linear-gradient(#150577 0px,#160578 6.5px,#3a0c96 8.5px,#6211a2 9.5px,#a01ca8 10.5px,#eb4e59 11.5px,#fcb022 12.5px,#fed341 13.5px,#fed13f 14.5px,#f06145 15.5px,#c023a4 16.5px,#9219a9 17.5px,#27098a 18.5px,#17067c 20.5px,#2b098d 45.5px,#380c96 52.5px,#8116a8 53.5px,#b520a6 54.5px,#c7279b 57.5px,#f3743a 58.5px,#f5722f 59.5px,#f16240 62px)"></i></div><div class="im" style="left:218px;top:256px;width:82px;height:62px;--w:2px;"><i style="background:linear-gradient(#16067a 0px,#1f0784 4.5px,#370c95 7.5px,#300a90 11.5px,#8817a7 12.5px,#e84a5e 13.5px,#f99023 14.5px,#fecc3e 16.5px,#fba52a 17.5px,#27098a 18.5px,#140573 19.5px,#29098b 44.5px,#2b098d 52.5px,#3d0c97 53.5px,#cb2e8b 54.5px,#fbae31 55.5px,#fbab32 56.5px,#9d1ba8 57.5px,#b520a6 58.5px,#b921a6 62px)"></i><i style="background:linear-gradient(#11056a 0px,#0f0463 4.5px,#160679 5.5px,#320b91 6.5px,#250889 10.5px,#480e9c 11.5px,#c2259e 12.5px,#f6792b 13.5px,#fdbb2a 14.5px,#ffde52 15.5px,#ffe871 16.5px,#fa9822 17.5px,#330b93 18.5px,#1a0680 19.5px,#240888 39.5px,#370b95 48.5px,#320b92 52.5px,#951aa6 53.5px,#f88627 54.5px,#ffe052 55.5px,#ffdf4e 56.5px,#c62b90 57.5px,#a21ca8 58.5px,#b720a6 59.5px,#b921a6 62px)"></i><i style="background:linear-gradient(#0c0359 0px,#080243 3.5px,#090349 4.5px,#19067b 6.5px,#1f0785 10.5px,#3d0c97 11.5px,#aa1ea7 12.5px,#f46d35 13.5px,#fec937 14.5px,#ffe875 15.5px,#ffe875 16.5px,#f88226 17.5px,#7614a7 18.5px,#240888 19.5px,#1a0681 33.5px,#320b92 45.5px,#27098a 51.5px,#6a13a4 52.5px,#ef5b4a 53.5px,#fecb39 54.5px,#ffeb85 55.5px,#ffe152 56.5px,#df3a75 57.5px,#971aa8 58.5px,#b620a6 59.5px,#b921a6 62px)"></i><i style="background:linear-gradient(#0a034f 0px,#080247 4.5px,#18067f 8.5px,#200785 10.5px,#3c0c96 11.5px,#9d1ba8 12.5px,#ef5d46 13.5px,#fdbe2c 14.5px,#ffe76b 15.5px,#ffe871 16.5px,#f6742e 17.5px,#7e15a9 18.5px,#1b0782 19.5px,#130570 32.5px,#210886 51.5px,#8b17a9 52.5px,#f98925 53.5px,#ffeb83 54.5px,#fff7c5 55.5px,#fcb524 56.5px,#a21ca8 57.5px,#9c1ba8 58.5px,#b720a6 59.5px,#b921a6 62px)"></i><i style="background:linear-gradient(#0b0355 0px,#0e045e 5.5px,#29098b 9.5px,#6111a2 10.5px,#c02b8d 11.5px,#f16e41 12.5px,#fcb12b 13.5px,#fed948 14.5px,#ffe875 15.5px,#ffe76e 16.5px,#f36839 17.5px,#7714a7 18.5px,#1d0783 19.5px,#150575 33.5px,#19067f 39.5px,#1a0680 49.5px,#27098a 51.5px,#8b17a9 52.5px,#f77529 53.5px,#ffdf57 54.5px,#fff6c1 55.5px,#fed644 56.5px,#9d1ba8 57.5px,#b921a6 59.5px,#b921a6 62px)"></i><i style="background:linear-gradient(#100466 0px,#140572 5.5px,#2b098d 9.5px,#a51da7 10.5px,#f6732d 11.5px,#fdbb2a 12.5px,#ffda48 13.5px,#ffeb83 15.5px,#ffed8d 16.5px,#fcae2a 17.5px,#9f1ba8 18.5px,#27098a 19.5px,#18067f 24.5px,#1a0682 33.5px,#1c0783 41.5px,#27098a 50.5px,#350b94 51.5px,#a41ca7 52.5px,#f88326 53.5px,#fed947 54.5px,#ffea80 55.5px,#fecc3b 56.5px,#8a17a9 57.5px,#b420a6 58.5px,#b921a6 62px)"></i><i style="background:linear-gradient(#160678 0px,#140574 5.5px,#1e0784 9.5px,#8517a8 10.5px,#ef5c47 11.5px,#fba71f 12.5px,#ffda48 14.5px,#ffef9d 15.5px,#fff9d4 16.5px,#fbad32 17.5px,#7414a4 18.5px,#200785 19.5px,#19067f 34.5px,#210886 48.5px,#29098c 50.5px,#460e9c 51.5px,#ba21a6 52.5px,#f88725 53.5px,#ffda48 54.5px,#ffe870 55.5px,#fa9d21 56.5px,#9219a9 57.5px,#b520a6 58.5px,#b921a6 62px)"></i><i style="background:linear-gradient(#17067c 0px,#130570 5.5px,#190680 9.5px,#7714a7 10.5px,#ec5254 11.5px,#fcad20 12.5px,#fed645 13.5px,#fff7c6 15.5px,#faaa4b 16.5px,#8a19a2 17.5px,#220887 18.5px,#16067a 28.5px,#250889 49.5px,#3d0c97 51.5px,#8417a6 52.5px,#dd426f 53.5px,#fba529 54.5px,#fed048 55.5px,#f7832b 56.5px,#9b1ba8 57.5px,#b620a6 58.5px,#b921a6 62px)"></i><i style="background:linear-gradient(#140574 0px,#17067c 7.5px,#1f0785 9.5px,#6f13a5 10.5px,#de4070 11.5px,#f88d29 12.5px,#fcb835 13.5px,#fdcb4c 14.5px,#fdc342 15.5px,#d83481 16.5px,#440e9c 17.5px,#1b0782 18.5px,#260889 51.5px,#310a91 52.5px,#5c119d 53.5px,#882187 54.5px,#8e287a 55.5px,#7b179a 56.5px,#8c18a8 57.5px,#b620a6 58.5px,#b921a6 62px)"></i><i style="background:linear-gradient(#12056d 0px,#13056f 6.5px,#370b95 10.5px,#8116a8 11.5px,#c82898 12.5px,#f1643e 14.5px,#f36f3a 15.5px,#da3a79 16.5px,#6912a4 17.5px,#18067f 18.5px,#160679 33.5px,#370b95 56.5px,#6011a2 57.5px,#b31fa6 58.5px,#b921a6 62px)"></i><i style="background:linear-gradient(#130570 0px,#0e045e 6.5px,#190680 9.5px,#330b92 10.5px,#6e13a5 11.5px,#bf259c 12.5px,#f46c35 14.5px,#f98c24 15.5px,#ee574e 16.5px,#520f9f 17.5px,#17067e 18.5px,#1a0682 28.5px,#220887 33.5px,#2f0a8f 38.5px,#330b92 45.5px,#300a90 50.5px,#53109f 51.5px,#9119a7 52.5px,#bf2a90 53.5px,#d5397e 54.5px,#c82899 55.5px,#5e11a2 56.5px,#9b1ba8 57.5px,#b720a6 58.5px,#b921a6 62px)"></i><i style="background:linear-gradient(#12056c 0px,#0c0359 5.5px,#240888 8.5px,#7814a7 12.5px,#a11ca8 13.5px,#dd3879 14.5px,#f87e27 15.5px,#f6782c 16.5px,#6a13a4 17.5px,#1a0682 18.5px,#2e0a8f 50.5px,#400d99 51.5px,#8917a8 52.5px,#d83481 53.5px,#ed5451 54.5px,#dc3979 55.5px,#6312a3 56.5px,#aa1ea7 57.5px,#b921a6 59.5px,#b921a6 62px)"></i><i style="background:linear-gradient(#0d045d 0px,#100467 5.5px,#230888 7.5px,#8817a9 11.5px,#b420a5 13.5px,#e13d71 14.5px,#f99123 15.5px,#fa9e21 16.5px,#bd2699 17.5px,#300a90 18.5px,#190680 19.5px,#200786 42.5px,#2c0a8e 49.5px,#2c098d 51.5px,#7013a6 52.5px,#d33088 53.5px,#ec5155 54.5px,#ec5254 55.5px,#aa1fa3 56.5px,#a01ca8 57.5px,#b720a6 58.5px,#b921a6 62px)"></i><i style="background:linear-gradient(#0e045e 0px,#100466 4.5px,#260889 6.5px,#8016a8 9.5px,#c7279a 12.5px,#d73383 13.5px,#f88328 14.5px,#feca39 15.5px,#fece3c 16.5px,#f2663b 17.5px,#7714a7 18.5px,#160679 19.5px,#140573 32.5px,#1b0782 48.5px,#250889 51.5px,#7e15a8 52.5px,#d22f8a 53.5px,#ea4b5c 54.5px,#ee5a4a 55.5px,#ea4c5c 56.5px,#8216a8 57.5px,#ac1ea7 58.5px,#b921a6 62px)"></i><i style="background:linear-gradient(#110569 0px,#110569 4.5px,#150578 5.5px,#490e9d 7.5px,#bd21a5 10.5px,#d53285 12.5px,#e94860 13.5px,#fa9323 14.5px,#fdc02f 15.5px,#fdc332 16.5px,#e54764 17.5px,#2e0a8f 18.5px,#17067d 19.5px,#1d0783 31.5px,#150578 39.5px,#2b098d 49.5px,#7715a5 51.5px,#ad1ea7 52.5px,#e94860 54.5px,#ed564f 55.5px,#d6377f 56.5px,#8516a8 57.5px,#b820a6 59.5px,#b921a6 62px)"></i><i style="background:linear-gradient(#100466 0px,#140571 5.5px,#29098b 7.5px,#6c13a5 9.5px,#b621a4 11.5px,#ed5551 13.5px,#f87d27 14.5px,#fa9523 15.5px,#f99123 16.5px,#ca2a96 17.5px,#250889 18.5px,#230887 29.5px,#16067a 39.5px,#320a91 49.5px,#ab1fa4 52.5px,#da387c 54.5px,#df3b74 55.5px,#6612a3 56.5px,#b01fa6 57.5px,#b921a6 62px)"></i><i style="background:linear-gradient(#0f0463 0px,#160679 8.5px,#220885 9.5px,#410d97 10.5px,#7514a6 11.5px,#c92997 12.5px,#ec5352 13.5px,#f87f26 14.5px,#f99123 15.5px,#f46d34 16.5px,#ab1ea7 17.5px,#210886 18.5px,#2c0a8e 47.5px,#360b94 51.5px,#ac1ea7 53.5px,#da357e 54.5px,#ee574d 55.5px,#b3288f 56.5px,#b11fa6 57.5px,#b921a6 62px)"></i><i style="background:linear-gradient(#0f0461 0px,#140572 6.5px,#110468 9.5px,#140573 10.5px,#2e0a8f 11.5px,#8917a7 12.5px,#e23d70 13.5px,#f77a27 14.5px,#f99023 15.5px,#f46d34 16.5px,#9b1ba8 17.5px,#1b0782 18.5px,#29098c 37.5px,#1e0784 47.5px,#2c098d 51.5px,#3d0c99 52.5px,#991aa8 53.5px,#de3878 54.5px,#f87f26 55.5px,#fa9822 56.5px,#d23582 57.5px,#bc21a5 58.5px,#b921a6 62px)"></i><i style="background:linear-gradient(#100467 0px,#17067c 5.5px,#13056f 8.5px,#250889 11.5px,#4c0f9e 12.5px,#a41ca7 13.5px,#d73b7a 14.5px,#ed5b4d 15.5px,#f06244 16.5px,#9d1ba8 17.5px,#1a0681 18.5px,#18067f 27.5px,#28098b 51.5px,#420d9b 52.5px,#9e1ba8 53.5px,#e74565 54.5px,#fa9b22 55.5px,#fdbd2c 56.5px,#f2663b 57.5px,#c8289a 58.5px,#b921a6 62px)"></i><i style="background:linear-gradient(#11056a 0px,#16067b 7.5px,#480e98 9.5px,#8a19a3 11.5px,#d43582 13.5px,#f67c2c 16.5px,#6512a3 17.5px,#1e0784 18.5px,#27098a 47.5px,#2a098c 51.5px,#6612a3 52.5px,#bd22a4 53.5px,#f2643d 54.5px,#fcb322 55.5px,#fece3d 56.5px,#f77d28 57.5px,#ce2c91 58.5px,#bb21a5 59.5px,#b921a6 62px)"></i><i style="background:linear-gradient(#0f0461 0px,#1f0783 6.5px,#440d98 7.5px,#8d18a6 8.5px,#c42994 9.5px,#ed564e 11.5px,#f99223 13.5px,#fcb02a 14.5px,#fede6d 15.5px,#fba822 16.5px,#350b93 17.5px,#1f0784 18.5px,#210886 32.5px,#210886 47.5px,#310a91 51.5px,#7c15a8 52.5px,#d93480 53.5px,#f98e24 54.5px,#fdc836 55.5px,#fed442 56.5px,#f57431 57.5px,#c92898 58.5px,#b921a6 60.5px,#b921a6 62px)"></i><i style="background:linear-gradient(#0b0357 0px,#0e0461 3.5px,#27098a 5.5px,#530f9f 6.5px,#9b1ba8 7.5px,#d22f8b 8.5px,#f2673a 10.5px,#fb9f21 12.5px,#fdbf2d 13.5px,#ffe566 14.5px,#fffce5 15.5px,#fed545 16.5px,#450d9a 17.5px,#1f0785 18.5px,#1b0782 42.5px,#360b94 51.5px,#8817aa 52.5px,#f2643d 53.5px,#fdc837 54.5px,#ffe979 55.5px,#fdc533 56.5px,#e74267 57.5px,#be22a5 58.5px,#b921a6 62px)"></i><i style="background:linear-gradient(#0d045b 0px,#0c0359 3.5px,#1d0782 5.5px,#8317a7 7.5px,#b221a0 8.5px,#d83481 9.5px,#ef5a4a 10.5px,#f98825 11.5px,#fcab1f 12.5px,#fdc837 13.5px,#ffe871 14.5px,#fffbdd 15.5px,#fffce5 16.5px,#faab4b 17.5px,#7d1a90 18.5px,#1e0784 19.5px,#1a0681 42.5px,#320a91 51.5px,#7013a5 52.5px,#df426d 53.5px,#fcb230 54.5px,#fff5bc 55.5px,#ffe672 56.5px,#e84662 57.5px,#be22a5 58.5px,#b921a6 62px)"></i><i style="background:linear-gradient(#11056a 0px,#0f0462 4.5px,#1b067f 6.5px,#4f0f9c 8.5px,#8417a6 9.5px,#bd2797 10.5px,#e24667 11.5px,#f98d24 13.5px,#fbac2a 14.5px,#fedc5d 15.5px,#ffef99 16.5px,#ffe887 17.5px,#f99223 18.5px,#500f9d 19.5px,#2a098c 20.5px,#1a0681 41.5px,#2b098d 49.5px,#2a098c 51.5px,#3d0c98 52.5px,#8817a8 53.5px,#db377b 54.5px,#fba929 55.5px,#ffe470 56.5px,#e84861 57.5px,#be22a5 58.5px,#b921a6 62px)"></i><i style="background:linear-gradient(#1a067e 0px,#140571 5.5px,#1e0784 8.5px,#350b93 9.5px,#8a18a6 11.5px,#cb2c8e 13.5px,#e54863 14.5px,#f7822b 15.5px,#f68b35 16.5px,#c74171 17.5px,#77169c 18.5px,#240888 19.5px,#190680 34.5px,#1d0784 51.5px,#2e0a8f 52.5px,#8516a9 53.5px,#d53285 54.5px,#f6762d 55.5px,#f88927 56.5px,#cc2b92 57.5px,#ab1ea7 58.5px,#b921a6 62px)"></i><i style="background:linear-gradient(#330b93 0px,#17067b 4.5px,#1b0781 9.5px,#410d9b 11.5px,#7013a6 12.5px,#bc2894 13.5px,#f17143 14.5px,#fbaa31 15.5px,#f98b25 16.5px,#7a15a7 17.5px,#17067e 18.5px,#16067b 24.5px,#1a0681 33.5px,#260889 52.5px,#5d11a1 53.5px,#b522a0 54.5px,#de3b75 55.5px,#e2416d 56.5px,#bf23a1 57.5px,#6212a3 58.5px,#b21fa6 59.5px,#b921a6 62px)"></i><i style="background:linear-gradient(#310a91 0px,#17067c 4.5px,#1b0681 10.5px,#4c0f9e 11.5px,#ab1ea7 12.5px,#ef5a4a 13.5px,#fcb423 14.5px,#fed442 15.5px,#fcaf2b 16.5px,#c85067 17.5px,#4c0e95 18.5px,#17067b 19.5px,#1f0785 37.5px,#210886 48.5px,#2e0a8f 53.5px,#a31ca7 55.5px,#ae1fa5 56.5px,#7013a5 57.5px,#5610a0 58.5px,#b21fa6 59.5px,#b921a6 62px)"></i><i style="background:linear-gradient(#1c0782 0px,#150576 9.5px,#18067f 10.5px,#310a91 11.5px,#7013a6 12.5px,#d43187 13.5px,#f98825 14.5px,#fdc130 15.5px,#fed543 16.5px,#fdba28 17.5px,#ac229d 18.5px,#1b0781 19.5px,#190680 36.5px,#220887 53.5px,#490e9a 55.5px,#340b93 57.5px,#961aa9 58.5px,#b720a6 59.5px,#b921a6 62px)"></i><i style="background:linear-gradient(#140572 0px,#12056c 7.5px,#1a0680 9.5px,#4b0e9c 11.5px,#7d15a7 12.5px,#c6279b 13.5px,#f16542 14.5px,#fa9728 15.5px,#fba731 16.5px,#eb684e 17.5px,#29098c 18.5px,#16067a 20.5px,#1e0784 56.5px,#440d9c 57.5px,#aa1ea7 58.5px,#b921a6 60.5px,#b921a6 62px)"></i><i style="background:linear-gradient(#13056e 0px,#150576 7.5px,#2c0a8e 9.5px,#5a10a1 10.5px,#9e1ba8 11.5px,#ca2a94 12.5px,#ef5b49 14.5px,#f88525 15.5px,#fba423 16.5px,#f7882f 17.5px,#a1268a 18.5px,#240888 19.5px,#16067a 23.5px,#1c0783 56.5px,#370b95 57.5px,#ae1ea6 58.5px,#b921a6 62px)"></i><i style="background:linear-gradient(#12056c 0px,#150577 6.5px,#2a098c 8.5px,#490e9b 9.5px,#9019a8 10.5px,#d02e8d 11.5px,#ed5550 12.5px,#f67a2c 13.5px,#fa9423 14.5px,#fdbe2d 15.5px,#ffde5e 16.5px,#ffe568 17.5px,#f88525 18.5px,#3e0d9a 19.5px,#230888 20.5px,#19067f 37.5px,#2d0a8e 48.5px,#28098b 56.5px,#330b92 57.5px,#a61da7 58.5px,#b921a6 59.5px,#b921a6 62px)"></i><i style="background:linear-gradient(#100466 0px,#100467 5.5px,#150577 6.5px,#2d0a8e 7.5px,#6712a4 8.5px,#af20a3 9.5px,#df3e72 10.5px,#f36a39 11.5px,#fba320 13.5px,#fdba29 14.5px,#ffe978 15.5px,#fff9d3 16.5px,#ffec86 17.5px,#df3f71 18.5px,#5c11a1 19.5px,#7314a5 20.5px,#210886 22.5px,#160678 30.5px,#19067e 42.5px,#220886 50.5px,#1d0783 56.5px,#260889 57.5px,#6b13a5 58.5px,#a91da7 59.5px,#b921a6 62px)"></i><i style="background:linear-gradient(#100465 0px,#110569 5.5px,#16067a 6.5px,#3b0c98 7.5px,#8f18a9 8.5px,#ce2c90 9.5px,#ee574e 10.5px,#f88326 11.5px,#fcb221 13.5px,#fecc3a 14.5px,#fff8cc 15.5px,#fffce6 16.5px,#fdbf30 17.5px,#a81da7 18.5px,#6b13a4 19.5px,#ac1ea7 20.5px,#5f11a2 21.5px,#1a0681 22.5px,#17067d 44.5px,#27098a 57.5px,#310a91 58.5px,#af239b 59.5px,#a81da7 62px)"></i><i style="background:linear-gradient(#130571 0px,#140574 5.5px,#1c0781 6.5px,#480e9c 7.5px,#9519a9 8.5px,#cd2c91 9.5px,#ec5253 10.5px,#f87f26 11.5px,#fcb322 13.5px,#fed240 14.5px,#fffce4 15.5px,#fffce2 16.5px,#f36c3a 17.5px,#8c18a9 18.5px,#8316a9 19.5px,#a71da7 20.5px,#4b0e9d 21.5px,#1c0782 22.5px,#1c0782 41.5px,#27098a 48.5px,#2e0a8f 53.5px,#2d0a8e 57.5px,#7e16a4 58.5px,#e74367 59.5px,#ad1ea7 60.5px,#a51da7 62px)"></i><i style="background:linear-gradient(#26088a 0px,#17067d 5.5px,#380c96 6.5px,#8617a9 7.5px,#be23a1 8.5px,#ed5550 10.5px,#f87c27 11.5px,#fcb120 13.5px,#fecc3b 14.5px,#fff8cf 15.5px,#fff8cf 16.5px,#e9495e 17.5px,#7e15a9 18.5px,#9519a9 19.5px,#9219a9 20.5px,#5710a0 21.5px,#64129d 22.5px,#891b9b 23.5px,#57109f 24.5px,#2f0a90 25.5px,#17067c 31.5px,#2f0a90 53.5px,#2a098c 57.5px,#a01ca8 58.5px,#e84662 59.5px,#b620a6 60.5px,#a61da7 62px)"></i><i style="background:linear-gradient(#330b93 0px,#160578 5.5px,#2b098d 6.5px,#6e13a5 7.5px,#b520a5 8.5px,#ec5352 10.5px,#f87c27 11.5px,#fcb01f 13.5px,#feca38 14.5px,#fff3b0 15.5px,#fff4b5 16.5px,#f88926 17.5px,#8416aa 18.5px,#7714a7 19.5px,#a21ca8 20.5px,#9d1ba8 21.5px,#f2683e 22.5px,#f99c33 23.5px,#c12a90 24.5px,#5610a0 25.5px,#260889 26.5px,#160679 34.5px,#310a91 50.5px,#2b098d 57.5px,#390c96 58.5px,#d33089 59.5px,#b520a6 60.5px,#a61da7 62px)"></i><i style="background:linear-gradient(#160677 0px,#11056a 4.5px,#1d0783 6.5px,#3c0c98 7.5px,#7b15a7 8.5px,#b621a3 9.5px,#dc377a 10.5px,#f16240 11.5px,#f98b24 12.5px,#fcab1f 13.5px,#ffe04e 14.5px,#fff09e 15.5px,#ffe66f 16.5px,#fa9e24 17.5px,#a91da7 18.5px,#6312a3 19.5px,#9d1ba8 20.5px,#8616a9 21.5px,#f16141 22.5px,#fed94a 23.5px,#f98f24 24.5px,#8e18a9 25.5px,#26098a 26.5px,#1b0782 39.5px,#2f0a8f 47.5px,#27098a 55.5px,#3e0d99 58.5px,#961aa9 59.5px,#a51da7 62px)"></i><i style="background:linear-gradient(#0f0462 0px,#13056e 5.5px,#2a098c 7.5px,#6e13a5 9.5px,#9e1ba8 10.5px,#c72a94 11.5px,#e54961 12.5px,#f67b2f 13.5px,#fdbf2f 14.5px,#fdc02f 15.5px,#ef6949 16.5px,#a32298 17.5px,#460e9b 18.5px,#5a10a1 19.5px,#a71da7 20.5px,#8016a9 21.5px,#d73383 22.5px,#fcb024 23.5px,#df5360 24.5px,#420d94 25.5px,#1b0782 26.5px,#1b0681 41.5px,#2b098d 57.5px,#3e0d99 58.5px,#8c18a9 59.5px,#a41ca7 60.5px,#a51da7 62px)"></i><i style="background:linear-gradient(#110468 0px,#17067b 7.5px,#2d0a8e 9.5px,#7013a5 11.5px,#9d1ba8 12.5px,#cc2d8e 13.5px,#f05f46 14.5px,#f98825 15.5px,#d43187 16.5px,#300a90 17.5px,#3d0c99 18.5px,#b820a6 20.5px,#6f13a5 21.5px,#5a109b 22.5px,#aa317e 23.5px,#320a8e 24.5px,#150577 25.5px,#1d0783 46.5px,#29098c 51.5px,#28098b 57.5px,#6612a3 58.5px,#a11ca8 59.5px,#a51da7 62px)"></i><i style="background:linear-gradient(#130570 0px,#200785 9.5px,#470e9c 12.5px,#9219a9 13.5px,#f06043 14.5px,#fcb12b 15.5px,#fba229 16.5px,#8017a4 17.5px,#5710a0 18.5px,#7214a6 19.5px,#ad1ea7 20.5px,#7113a6 21.5px,#190681 22.5px,#150577 26.5px,#1a0681 34.5px,#220887 47.5px,#350b93 55.5px,#370b95 57.5px,#8a17aa 58.5px,#a41ca7 59.5px,#a51da7 62px)"></i><i style="background:linear-gradient(#150576 0px,#17067b 6.5px,#2c0a8e 11.5px,#440e9c 12.5px,#961aa9 13.5px,#eb5552 14.5px,#fa9727 15.5px,#fa9725 16.5px,#d22f8a 17.5px,#4f0f9e 18.5px,#450d9a 19.5px,#7014a5 20.5px,#5c11a1 21.5px,#200785 22.5px,#140574 24.5px,#17067b 33.5px,#1e0784 52.5px,#3b0c98 57.5px,#8516aa 58.5px,#a31ca7 59.5px,#a51da7 62px)"></i></div><div class="im" style="left:327px;top:257px;width:82px;height:62px;--w:2px;"><i style="background:linear-gradient(#100466 0px,#140572 3.5px,#080348 8.5px,#0b0354 10.5px,#11056a 11.5px,#400d98 12.5px,#c1269b 13.5px,#f67930 14.5px,#fdbf31 15.5px,#fedc65 16.5px,#ffe274 17.5px,#fdc635 18.5px,#d53186 19.5px,#3d0c94 20.5px,#150575 21.5px,#150578 27.5px,#230887 45.5px,#160578 54.5px,#220887 58.5px,#c62995 59.5px,#8e19a6 60.5px,#1d077f 62px)"></i><i style="background:linear-gradient(#12056b 0px,#160578 2.5px,#080247 7.5px,#0d045d 10.5px,#17067d 11.5px,#6212a3 12.5px,#cb2a95 13.5px,#f88525 14.5px,#fed846 15.5px,#fff0a0 16.5px,#fff1a6 17.5px,#fcb62d 18.5px,#4a0e99 19.5px,#17067e 20.5px,#250889 45.5px,#1d0783 57.5px,#a31ca7 58.5px,#e84464 59.5px,#e23e6e 60.5px,#b8298f 62px)"></i><i style="background:linear-gradient(#12056c 0px,#17067e 2.5px,#080245 7.5px,#0c0359 9.5px,#210886 11.5px,#5d11a1 12.5px,#ba21a6 13.5px,#f1633f 14.5px,#fdbd2c 15.5px,#ffea7d 16.5px,#ffef9c 17.5px,#f98b24 18.5px,#28098b 19.5px,#17067e 21.5px,#17067d 30.5px,#16067b 46.5px,#17067e 57.5px,#6412a0 58.5px,#c72f88 59.5px,#e94860 60.5px,#ea4a5d 62px)"></i><i style="background:linear-gradient(#130570 0px,#210886 3.5px,#080349 7.5px,#0a0350 8.5px,#380c95 11.5px,#9519a8 12.5px,#de3b75 13.5px,#f77b29 14.5px,#fcb221 15.5px,#ffe051 16.5px,#fff09f 17.5px,#fecd3b 18.5px,#2c0a8e 19.5px,#16067b 20.5px,#1d0783 58.5px,#8a17a9 59.5px,#f16b44 60.5px,#f47b37 62px)"></i><i style="background:linear-gradient(#12056b 0px,#17067c 5.5px,#0d045d 7.5px,#0e0461 8.5px,#2c0a8e 10.5px,#470e9c 11.5px,#b620a6 12.5px,#ec5056 13.5px,#f98725 14.5px,#fcae1f 15.5px,#fed745 16.5px,#ffef99 17.5px,#fed947 18.5px,#460d98 19.5px,#17067d 20.5px,#1f0785 36.5px,#17067e 57.5px,#200785 58.5px,#d63285 59.5px,#fcb127 60.5px,#f27241 62px)"></i><i style="background:linear-gradient(#0e045e 0px,#12056b 4.5px,#130571 6.5px,#12056c 9.5px,#240887 11.5px,#7d16a6 12.5px,#da357e 13.5px,#f77928 14.5px,#fba71f 15.5px,#fece3d 16.5px,#ffeb82 17.5px,#ffef9c 18.5px,#f48c4e 19.5px,#56109c 20.5px,#29098c 21.5px,#1b0681 32.5px,#1d0783 58.5px,#d93480 59.5px,#ea4e59 60.5px,#a01ca8 62px)"></i><i style="background:linear-gradient(#0c0357 0px,#140572 7.5px,#140573 11.5px,#370b95 12.5px,#b821a4 13.5px,#f46d33 14.5px,#fcaf1e 15.5px,#fed240 16.5px,#fff4b8 18.5px,#fff6c3 19.5px,#f37c3f 20.5px,#380c96 21.5px,#250889 22.5px,#130570 40.5px,#210886 52.5px,#1d0783 58.5px,#9d1ca5 59.5px,#e53d6e 60.5px,#aa1ea7 62px)"></i><i style="background:linear-gradient(#1a067b 0px,#1b0681 11.5px,#300a91 12.5px,#9119a9 13.5px,#eb4f57 14.5px,#fba420 15.5px,#fed341 16.5px,#fff7c6 18.5px,#fffde7 19.5px,#fecd3c 20.5px,#380c96 21.5px,#1a0682 22.5px,#13056e 39.5px,#180680 58.5px,#2e0a8f 59.5px,#e43e6e 60.5px,#c1269a 62px)"></i><i style="background:linear-gradient(#3e0d99 0px,#13056e 7.5px,#29098c 12.5px,#6c13a4 13.5px,#c82e8a 14.5px,#f06c47 15.5px,#fbaf33 16.5px,#ffe57f 18.5px,#fede73 19.5px,#fba22b 20.5px,#29098b 21.5px,#160578 22.5px,#12056e 38.5px,#17067c 58.5px,#380c95 59.5px,#8017a0 60.5px,#520f9f 62px)"></i><i style="background:linear-gradient(#3b0c98 0px,#150577 5.5px,#0d045d 7.5px,#190680 12.5px,#450e9c 14.5px,#9419a9 15.5px,#eb4e59 16.5px,#fa9522 17.5px,#fba523 18.5px,#f98b24 19.5px,#b2229f 20.5px,#1e0784 21.5px,#17067d 23.5px,#17067e 29.5px,#130571 36.5px,#18067f 59.5px,#2c0a8e 60.5px,#9e1ba8 62px)"></i><i style="background:linear-gradient(#27098a 0px,#0b0356 7.5px,#1c0782 13.5px,#300a90 14.5px,#7a15a7 15.5px,#ee584c 16.5px,#fdc130 17.5px,#fecc3a 18.5px,#ee5a4a 19.5px,#500f9f 20.5px,#220887 21.5px,#16067b 48.5px,#160578 59.5px,#1f0785 60.5px,#9d1ba8 62px)"></i><i style="background:linear-gradient(#160679 0px,#0f0463 8.5px,#1e0781 13.5px,#2c098d 14.5px,#5a10a1 15.5px,#bd259b 16.5px,#ed644c 17.5px,#ef6f49 18.5px,#c73482 19.5px,#330b92 20.5px,#1e0784 22.5px,#150576 37.5px,#16067a 55.5px,#160578 59.5px,#250888 60.5px,#a51da7 62px)"></i><i style="background:linear-gradient(#16067b 0px,#140572 8.5px,#3b0c97 11.5px,#b520a5 16.5px,#d22f8b 18.5px,#c73c77 19.5px,#861b99 20.5px,#200786 21.5px,#17067e 52.5px,#220887 60.5px,#8016a7 62px)"></i><i style="background:linear-gradient(#300a90 0px,#1a0680 8.5px,#5510a0 11.5px,#c024a1 14.5px,#df3c74 16.5px,#ef5d48 17.5px,#fa9925 18.5px,#fed34c 19.5px,#f99223 20.5px,#330b92 21.5px,#1f0785 22.5px,#16067b 40.5px,#160679 53.5px,#200786 60.5px,#440d9a 62px)"></i><i style="background:linear-gradient(#350b94 0px,#1b0782 7.5px,#27098a 8.5px,#7113a6 10.5px,#c4259f 14.5px,#d33089 15.5px,#ed5451 16.5px,#fa9c21 17.5px,#fed442 18.5px,#fdc53e 19.5px,#c2387c 20.5px,#29098b 21.5px,#160679 25.5px,#19067e 47.5px,#1b0681 59.5px,#240888 60.5px,#6612a3 62px)"></i><i style="background:linear-gradient(#1e0784 0px,#160578 7.5px,#240888 8.5px,#5e11a2 10.5px,#7a15a6 13.5px,#b320a4 15.5px,#cb2a94 16.5px,#e14c62 17.5px,#d25466 18.5px,#9a238e 19.5px,#3d0c96 20.5px,#200785 22.5px,#17067e 31.5px,#1f0785 39.5px,#27098a 47.5px,#17067e 54.5px,#2b098d 59.5px,#440e9c 62px)"></i><i style="background:linear-gradient(#150576 0px,#130571 8.5px,#260889 13.5px,#4c0f9e 14.5px,#9018a9 15.5px,#c82898 16.5px,#ce3087 17.5px,#6d149c 19.5px,#230888 20.5px,#17067d 24.5px,#190680 37.5px,#230887 43.5px,#27098a 49.5px,#1c0783 55.5px,#260889 58.5px,#490e9b 59.5px,#7e16a5 60.5px,#8d18a6 62px)"></i><i style="background:linear-gradient(#17067c 0px,#12056e 9.5px,#240887 12.5px,#380c94 13.5px,#7514a6 14.5px,#c4259e 15.5px,#f1633f 16.5px,#fb9f21 17.5px,#fcac20 18.5px,#e44963 19.5px,#340b93 20.5px,#150578 21.5px,#27098a 50.5px,#28098b 57.5px,#330b93 58.5px,#9f1ba8 59.5px,#d83481 60.5px,#e1446a 62px)"></i><i style="background:linear-gradient(#250889 0px,#12056d 6.5px,#330b92 10.5px,#8d19a6 13.5px,#c42799 15.5px,#f5702f 18.5px,#f16141 19.5px,#921aa5 20.5px,#19067f 21.5px,#28098b 57.5px,#510f9f 58.5px,#c82899 59.5px,#f57231 60.5px,#f99123 62px)"></i><i style="background:linear-gradient(#18067d 0px,#150576 6.5px,#4c0f9e 10.5px,#ae1ea7 12.5px,#d63284 13.5px,#f2693d 15.5px,#fa9925 17.5px,#fcb432 18.5px,#fcb030 19.5px,#f37b3a 20.5px,#61119d 21.5px,#1b0780 22.5px,#210786 40.5px,#17067e 55.5px,#2a098c 57.5px,#a41f9f 58.5px,#f16e42 59.5px,#fcb32a 60.5px,#fdc635 62px)"></i><i style="background:linear-gradient(#12056d 0px,#130570 4.5px,#220887 7.5px,#6c13a5 10.5px,#991aa8 11.5px,#cb2a95 12.5px,#ec5155 13.5px,#f88426 14.5px,#fba620 15.5px,#fdc130 16.5px,#ffe976 17.5px,#fff8cb 18.5px,#fff6c3 19.5px,#ffe773 20.5px,#de3878 21.5px,#390c96 22.5px,#1d0783 23.5px,#200786 48.5px,#16067a 56.5px,#3b0c96 57.5px,#e54368 58.5px,#fcb625 59.5px,#fed13f 60.5px,#fed443 62px)"></i><i style="background:linear-gradient(#140573 0px,#18067d 4.5px,#28098b 7.5px,#430d9b 8.5px,#ac1ea7 10.5px,#eb4d59 12.5px,#f6772b 13.5px,#fdb927 15.5px,#fed745 16.5px,#fff5bb 17.5px,#fffde8 18.5px,#fffde8 19.5px,#ffe46c 20.5px,#b722a0 21.5px,#230888 22.5px,#140573 26.5px,#16067a 54.5px,#17067d 57.5px,#6713a0 58.5px,#e14f5f 59.5px,#fbac29 60.5px,#fecd3c 62px)"></i><i style="background:linear-gradient(#1c0782 0px,#1e0784 6.5px,#2b098d 7.5px,#8817aa 9.5px,#b31fa6 10.5px,#ed564f 12.5px,#f87e27 13.5px,#fdb928 15.5px,#fed644 16.5px,#fff4b9 17.5px,#fffde7 18.5px,#fffce5 19.5px,#fcb52a 20.5px,#7e16a6 21.5px,#1d0784 22.5px,#150578 27.5px,#150575 57.5px,#4d0f9c 58.5px,#d63680 59.5px,#fdc039 60.5px,#fdc635 62px)"></i><i style="background:linear-gradient(#230887 0px,#1a067f 7.5px,#5e11a2 9.5px,#c1259e 11.5px,#f2673b 13.5px,#f88525 14.5px,#fba624 16.5px,#fecb39 17.5px,#ffec87 18.5px,#ffe577 19.5px,#e14b63 20.5px,#2a098c 21.5px,#140574 22.5px,#150577 57.5px,#7214a6 58.5px,#fba423 59.5px,#fa9d21 62px)"></i><i style="background:linear-gradient(#220886 0px,#16067a 8.5px,#1e0782 9.5px,#3d0c95 10.5px,#a71ea4 12.5px,#d93b79 14.5px,#e74f5b 16.5px,#fa9a27 18.5px,#f3763b 19.5px,#6512a3 20.5px,#1e0784 21.5px,#1b0681 44.5px,#200785 51.5px,#27098a 57.5px,#340b93 58.5px,#bd3e73 59.5px,#e74d5d 60.5px,#e34865 62px)"></i><i style="background:linear-gradient(#19067f 0px,#1f0785 6.5px,#150578 10.5px,#490e99 13.5px,#6512a3 14.5px,#9f1ba8 15.5px,#e34c61 16.5px,#f89330 17.5px,#fcaf33 18.5px,#fba52f 19.5px,#b92794 20.5px,#250889 21.5px,#12056d 36.5px,#240888 50.5px,#18067d 58.5px,#28098b 59.5px,#7515a3 60.5px,#8818a6 62px)"></i><i style="background:linear-gradient(#140574 0px,#210886 6.5px,#150575 10.5px,#2e0a8f 13.5px,#480e9d 14.5px,#aa1ea7 15.5px,#f87e27 16.5px,#fdc231 17.5px,#fdc635 18.5px,#fcb02f 19.5px,#de3c74 20.5px,#2c098d 21.5px,#180680 22.5px,#140573 40.5px,#150576 55.5px,#16067a 59.5px,#28098b 60.5px,#8d18a7 62px)"></i><i style="background:linear-gradient(#13056e 0px,#190680 7.5px,#1e0784 10.5px,#520f9f 13.5px,#a01ca8 15.5px,#dc3a78 16.5px,#f06045 17.5px,#f57130 19.5px,#d63483 20.5px,#340b93 21.5px,#1c0783 22.5px,#13056f 39.5px,#17067c 45.5px,#18067d 58.5px,#210886 59.5px,#4f0f9d 60.5px,#ac1ea7 62px)"></i><i style="background:linear-gradient(#150576 0px,#220887 9.5px,#490e9c 11.5px,#ac1ea7 14.5px,#cd2b92 15.5px,#e2426b 16.5px,#f36d39 17.5px,#fa9722 18.5px,#fcac26 19.5px,#fa9822 20.5px,#7e16a5 21.5px,#240888 22.5px,#440d98 24.5px,#1c0782 26.5px,#17067d 51.5px,#240888 58.5px,#310a91 59.5px,#9f1ba8 60.5px,#b21fa6 62px)"></i><i style="background:linear-gradient(#16067b 0px,#230887 8.5px,#300a90 9.5px,#9219a8 11.5px,#d02e8d 13.5px,#f05f44 15.5px,#f88327 16.5px,#fcb52a 17.5px,#feda56 18.5px,#ffda48 19.5px,#f27a44 20.5px,#6c13a5 21.5px,#54109e 22.5px,#7814a7 23.5px,#7b15a8 24.5px,#1f0784 26.5px,#16067b 53.5px,#2f0a8f 58.5px,#3d0c99 59.5px,#aa1ea7 60.5px,#b31fa6 62px)"></i><i style="background:linear-gradient(#12056b 0px,#250888 8.5px,#460e9c 9.5px,#8e18a9 10.5px,#ca2a96 11.5px,#ef5b49 13.5px,#f6762c 14.5px,#fcb224 16.5px,#ffe76e 17.5px,#fff6c5 18.5px,#fed240 19.5px,#ac1ea7 20.5px,#520f9f 21.5px,#7c15a8 22.5px,#7915a8 23.5px,#430d9b 25.5px,#1d0783 26.5px,#150577 35.5px,#1e0784 58.5px,#2a098c 59.5px,#a81da7 60.5px,#b31fa6 62px)"></i><i style="background:linear-gradient(#100464 0px,#180680 7.5px,#2d0a8e 8.5px,#961aa9 10.5px,#c82899 11.5px,#f2653c 13.5px,#f98c24 14.5px,#fcac20 15.5px,#fdc433 16.5px,#ffe97a 17.5px,#fffce6 18.5px,#fffad9 19.5px,#f2763e 20.5px,#7915a4 21.5px,#6a12a4 22.5px,#7f15a9 23.5px,#1a0681 26.5px,#130570 32.5px,#17067d 50.5px,#1f0785 59.5px,#a51da7 60.5px,#b31fa6 62px)"></i><i style="background:linear-gradient(#13056f 0px,#1f0785 7.5px,#390c96 8.5px,#9a1aa8 10.5px,#c6279b 11.5px,#e53f6c 12.5px,#f6732c 13.5px,#fba021 14.5px,#fecd3c 16.5px,#ffe668 17.5px,#fffde6 18.5px,#fffce2 19.5px,#ef6a48 20.5px,#7114a3 21.5px,#6b13a5 22.5px,#7814a7 23.5px,#250889 25.5px,#16067b 31.5px,#240888 42.5px,#1c0782 59.5px,#7b15a8 60.5px,#af1fa6 62px)"></i><i style="background:linear-gradient(#17067e 0px,#17067d 6.5px,#250889 7.5px,#460e9c 8.5px,#ba21a6 10.5px,#ed5451 12.5px,#f87c27 13.5px,#fba121 14.5px,#fed543 16.5px,#fffada 17.5px,#fffde7 18.5px,#fcb62b 19.5px,#a81da7 20.5px,#4b0e9d 21.5px,#7a15a8 22.5px,#510f9c 24.5px,#19067f 26.5px,#16067b 35.5px,#1d0784 51.5px,#18067f 59.5px,#9119a9 60.5px,#b11fa6 62px)"></i><i style="background:linear-gradient(#140574 0px,#150576 6.5px,#370b95 8.5px,#a01ca8 10.5px,#cd2c92 11.5px,#f2663b 13.5px,#f98c24 14.5px,#fcae21 15.5px,#feca38 16.5px,#fff4b7 17.5px,#fffde7 18.5px,#ffec90 19.5px,#df4769 20.5px,#4d0f9e 21.5px,#7915a8 22.5px,#7514a7 23.5px,#e04768 24.5px,#b63e71 25.5px,#350b90 26.5px,#150577 27.5px,#18067e 53.5px,#160578 59.5px,#470d94 60.5px,#a91da7 62px)"></i><i style="background:linear-gradient(#0c0358 0px,#160679 7.5px,#3b0c97 9.5px,#ab1ea7 11.5px,#e23d70 13.5px,#f36938 14.5px,#fa9622 15.5px,#fdb826 16.5px,#ffe874 17.5px,#fff8ce 18.5px,#fff1a3 19.5px,#ed574e 20.5px,#6111a2 21.5px,#971aa8 23.5px,#ef5b49 24.5px,#fed248 25.5px,#f9a753 26.5px,#b14466 27.5px,#280987 28.5px,#150578 29.5px,#130571 59.5px,#1b067d 60.5px,#991aa8 62px)"></i><i style="background:linear-gradient(#09034a 0px,#100467 5.5px,#160679 8.5px,#230888 9.5px,#480e9c 10.5px,#b820a6 12.5px,#ea4d5a 14.5px,#f77a29 15.5px,#fba71f 16.5px,#ffdb4c 17.5px,#fed650 18.5px,#ee6a4a 19.5px,#9d1ba7 20.5px,#4e0f9e 21.5px,#6312a3 22.5px,#8b17a9 23.5px,#e13a73 24.5px,#fed644 25.5px,#fffce1 26.5px,#ffed8c 27.5px,#ac1ea7 28.5px,#1e0784 29.5px,#16067a 59.5px,#8d18a7 60.5px,#b11fa6 62px)"></i><i style="background:linear-gradient(#0c0358 0px,#100464 4.5px,#0f0464 7.5px,#18067f 9.5px,#4f0f9e 11.5px,#b01fa5 13.5px,#e44666 15.5px,#f36d3a 16.5px,#fa9822 17.5px,#f88327 18.5px,#8417a5 19.5px,#410d99 20.5px,#410d99 21.5px,#9a1aa8 23.5px,#f06443 24.5px,#ffef98 25.5px,#fede7e 26.5px,#dd5a64 27.5px,#4d0e9a 28.5px,#1d0783 29.5px,#16067b 59.5px,#9319a9 60.5px,#b11fa6 62px)"></i><i style="background:linear-gradient(#12056b 0px,#100467 5.5px,#0f0462 8.5px,#260889 11.5px,#6312a3 13.5px,#c324a0 15.5px,#e54467 16.5px,#f46d36 17.5px,#f36f38 18.5px,#941d9b 19.5px,#3a0c97 20.5px,#6d13a5 21.5px,#8e18a8 23.5px,#f16b40 24.5px,#fbab30 25.5px,#dc436f 26.5px,#530f9e 27.5px,#1a0681 28.5px,#1c0782 59.5px,#310a90 60.5px,#8517a5 62px)"></i><i style="background:linear-gradient(#17067b 0px,#13056f 6.5px,#100465 9.5px,#19067f 11.5px,#300a90 12.5px,#6412a3 13.5px,#b120a2 14.5px,#ed5452 15.5px,#fa9722 16.5px,#fdc12f 17.5px,#fece3c 18.5px,#f2673a 19.5px,#4a0e9d 20.5px,#7c15a8 22.5px,#8517a4 24.5px,#ac2496 25.5px,#8d18a7 26.5px,#3b0c97 27.5px,#18067f 28.5px,#1f0784 40.5px,#1a0681 47.5px,#13056f 56.5px,#140573 62px)"></i><i style="background:linear-gradient(#1d0783 0px,#12056c 10.5px,#220887 12.5px,#6011a2 13.5px,#a31ca7 14.5px,#cf2e8c 15.5px,#ee5c4b 16.5px,#fa9628 17.5px,#fa9c2f 18.5px,#be2b8c 19.5px,#310a91 20.5px,#54109f 23.5px,#2c0a8e 26.5px,#1c0783 30.5px,#2b098d 46.5px,#1c0782 50.5px,#140572 62px)"></i></div><div class="im" style="left:436px;top:257px;width:82px;height:62px;--w:2px;"><i style="background:linear-gradient(#0a0353 0px,#13056e 7.5px,#0d045b 10.5px,#16067a 13.5px,#2a098c 14.5px,#7b15a8 15.5px,#d12e8c 16.5px,#f05f44 17.5px,#f7852c 18.5px,#fba32a 19.5px,#fed459 21.5px,#f77828 22.5px,#8817a9 23.5px,#6813a2 24.5px,#8616aa 25.5px,#360b92 26.5px,#160679 27.5px,#17067b 62px)"></i><i style="background:linear-gradient(#12056b 0px,#100466 6.5px,#09034b 10.5px,#180680 12.5px,#2e0a8f 14.5px,#4c0f9d 15.5px,#8f19a7 16.5px,#d33089 17.5px,#f67c2d 18.5px,#fecd3c 19.5px,#ffee97 20.5px,#ffed90 21.5px,#e9495f 22.5px,#520f9f 23.5px,#af1fa6 24.5px,#490e9b 25.5px,#18067f 26.5px,#16067b 62px)"></i><i style="background:linear-gradient(#150577 0px,#0c0359 5.5px,#0c0359 9.5px,#09034d 10.5px,#240888 13.5px,#3c0c98 15.5px,#7314a6 16.5px,#be249e 17.5px,#f46f34 18.5px,#fecf3d 19.5px,#ffef9c 20.5px,#ffeb83 21.5px,#d53186 22.5px,#7b15a6 23.5px,#981aa8 24.5px,#28098b 25.5px,#180680 27.5px,#150576 62px)"></i><i style="background:linear-gradient(#140574 0px,#0f0463 6.5px,#100465 9.5px,#0e0461 10.5px,#240888 13.5px,#2b098d 14.5px,#4f0f9e 15.5px,#ae1ea6 16.5px,#ef5b49 17.5px,#fcb529 18.5px,#ffe871 19.5px,#fff09e 20.5px,#fba42b 21.5px,#7514a5 22.5px,#b720a6 23.5px,#991aa8 24.5px,#520f9d 25.5px,#220886 26.5px,#140574 31.5px,#17067b 45.5px,#160679 62px)"></i><i style="background:linear-gradient(#140573 0px,#150576 9.5px,#1a0680 13.5px,#2c098d 14.5px,#6e13a5 15.5px,#d22f8b 16.5px,#f98925 17.5px,#fecd3c 18.5px,#ffec87 19.5px,#ffee92 20.5px,#f05f44 21.5px,#7214a6 22.5px,#b720a6 23.5px,#971aa8 25.5px,#5b11a1 26.5px,#190680 27.5px,#17067b 32.5px,#150577 62px)"></i><i style="background:linear-gradient(#110569 0px,#220886 6.5px,#0f0464 12.5px,#110468 13.5px,#1d0783 14.5px,#6512a3 15.5px,#cf2d8f 16.5px,#f88126 17.5px,#fdc433 18.5px,#ffe97a 19.5px,#fff3af 20.5px,#f88f27 21.5px,#7c16a5 22.5px,#8618a5 23.5px,#a41ca7 24.5px,#ad1ea7 25.5px,#7614a7 26.5px,#1c0782 27.5px,#160578 30.5px,#160678 62px)"></i><i style="background:linear-gradient(#100464 0px,#190681 6.5px,#0c0357 11.5px,#100465 13.5px,#17067d 14.5px,#520f9f 15.5px,#be22a5 16.5px,#f1643e 17.5px,#fcb223 18.5px,#ffe563 19.5px,#fff9d4 20.5px,#fffada 21.5px,#f3763a 22.5px,#a11ca8 23.5px,#4d0f9e 24.5px,#b520a6 25.5px,#8316a8 26.5px,#250889 27.5px,#17067c 55.5px,#2e0a8f 62px)"></i><i style="background:linear-gradient(#12056d 0px,#1a0681 6.5px,#0a0353 11.5px,#12056b 13.5px,#1c0781 14.5px,#4b0e9c 15.5px,#a21ca8 16.5px,#d73b7a 17.5px,#f06c48 18.5px,#fba935 19.5px,#fed35e 20.5px,#fee179 21.5px,#df5161 22.5px,#6f13a5 23.5px,#a01ca8 24.5px,#9e1ba8 25.5px,#350b94 26.5px,#17067c 27.5px,#1f0785 37.5px,#16067a 56.5px,#200785 62px)"></i><i style="background:linear-gradient(#0e0461 0px,#1a0681 7.5px,#0b0357 11.5px,#18067f 15.5px,#6412a3 17.5px,#9519a9 18.5px,#de4170 19.5px,#f9962b 20.5px,#fba329 21.5px,#b722a2 22.5px,#6b13a4 23.5px,#bb21a5 24.5px,#971aa8 25.5px,#2f0a90 26.5px,#17067d 27.5px,#18067f 58.5px,#1b0682 62px)"></i><i style="background:linear-gradient(#070240 0px,#12056c 3.5px,#150575 7.5px,#0b0356 11.5px,#210886 15.5px,#470e9c 16.5px,#8617a8 17.5px,#d63284 18.5px,#fa9722 19.5px,#fed03f 20.5px,#fdc332 21.5px,#df3f70 22.5px,#520f9f 23.5px,#b21fa6 24.5px,#9419a9 25.5px,#240888 26.5px,#16067b 29.5px,#150575 43.5px,#1f0785 62px)"></i><i style="background:linear-gradient(#04012f 0px,#0f0463 4.5px,#0f0461 7.5px,#0a0350 10.5px,#17067c 14.5px,#53109f 16.5px,#8c18a9 17.5px,#c82a93 18.5px,#ea5d51 19.5px,#f78f36 20.5px,#fba431 21.5px,#ee594c 22.5px,#5b11a1 23.5px,#b420a6 24.5px,#7214a6 25.5px,#1c0783 26.5px,#160679 46.5px,#1a067f 62px)"></i><i style="background:linear-gradient(#050234 0px,#100464 4.5px,#0a0351 9.5px,#160679 13.5px,#2c098d 14.5px,#7e16a7 16.5px,#c123a3 19.5px,#c82899 20.5px,#ba21a5 21.5px,#5a10a1 22.5px,#3b0c97 23.5px,#b420a6 24.5px,#8517a8 25.5px,#260889 26.5px,#16067a 62px)"></i><i style="background:linear-gradient(#07023f 0px,#13056f 4.5px,#0d045b 9.5px,#1b0782 12.5px,#2c0a8e 13.5px,#5610a0 14.5px,#9219a9 15.5px,#b31fa6 16.5px,#c7279a 18.5px,#d63284 19.5px,#f06647 20.5px,#fbac39 21.5px,#eb734f 22.5px,#911aa4 23.5px,#8d18a9 24.5px,#a11ca8 25.5px,#410d99 26.5px,#1d0783 27.5px,#27098a 37.5px,#17067c 62px)"></i><i style="background:linear-gradient(#09034d 0px,#140573 4.5px,#100467 9.5px,#1b0782 12.5px,#350b94 13.5px,#a91da7 15.5px,#c6269d 16.5px,#d63284 18.5px,#f05f44 19.5px,#fed344 20.5px,#fffad6 21.5px,#fdc031 22.5px,#c72997 23.5px,#7b15a8 24.5px,#a71da7 25.5px,#4e0f9e 26.5px,#18067e 27.5px,#2d0a8e 36.5px,#1a0680 45.5px,#17067e 62px)"></i><i style="background:linear-gradient(#0d045c 0px,#150576 5.5px,#17067c 11.5px,#200785 12.5px,#3b0c98 13.5px,#981aa8 15.5px,#c2259e 17.5px,#cd2c91 18.5px,#e95157 19.5px,#fcb637 20.5px,#f38f57 21.5px,#b92f85 22.5px,#6011a2 23.5px,#9319a9 24.5px,#961aa9 25.5px,#230887 26.5px,#140572 27.5px,#200785 36.5px,#1a0681 45.5px,#17067e 62px)"></i><i style="background:linear-gradient(#100465 0px,#2d0a8e 10.5px,#250889 13.5px,#6a13a4 16.5px,#ba21a6 18.5px,#c324a1 19.5px,#a31f9e 20.5px,#4f0f9b 21.5px,#2e0a8f 22.5px,#3c0c98 23.5px,#a91da7 24.5px,#8917aa 25.5px,#190680 26.5px,#1c0782 29.5px,#2c0a8e 34.5px,#1a0681 41.5px,#1c0783 55.5px,#1f0785 62px)"></i><i style="background:linear-gradient(#100466 0px,#16067b 4.5px,#390c96 8.5px,#300a90 12.5px,#1a0681 14.5px,#210886 15.5px,#420d9c 16.5px,#8c18a9 17.5px,#db3a78 18.5px,#f47939 19.5px,#f37e3f 20.5px,#dd5864 21.5px,#9d1ca6 22.5px,#470e9d 23.5px,#aa1ea7 24.5px,#9119a9 25.5px,#1f0785 26.5px,#230887 38.5px,#16067a 59.5px,#18067f 62px)"></i><i style="background:linear-gradient(#100464 0px,#160578 4.5px,#380c96 7.5px,#3c0c98 12.5px,#28098b 14.5px,#2e0a8f 15.5px,#5910a0 16.5px,#a11ca8 17.5px,#ec5353 18.5px,#fb9f21 19.5px,#fdc231 20.5px,#fdbc2a 21.5px,#d83480 22.5px,#4b0e9d 23.5px,#b720a6 24.5px,#8a17a9 25.5px,#250889 26.5px,#180680 43.5px,#210886 48.5px,#150575 57.5px,#17067e 60.5px,#470d97 62px)"></i><i style="background:linear-gradient(#100465 0px,#12056d 4.5px,#300a90 9.5px,#3d0c99 13.5px,#b01fa5 17.5px,#d22f8b 18.5px,#f47235 20.5px,#f7802a 21.5px,#bb269a 22.5px,#5810a0 23.5px,#a91da7 24.5px,#5710a0 25.5px,#1e0784 26.5px,#1b0781 52.5px,#160678 59.5px,#1c0782 60.5px,#5c109e 62px)"></i><i style="background:linear-gradient(#100464 0px,#100466 4.5px,#250889 9.5px,#390c96 11.5px,#5610a0 12.5px,#b5249c 14.5px,#e14569 16.5px,#f7802d 19.5px,#fba728 20.5px,#fcbb32 21.5px,#d33088 22.5px,#6812a4 23.5px,#9e1ba8 24.5px,#3f0d9a 25.5px,#18067f 26.5px,#1a0681 34.5px,#1a0681 57.5px,#18067e 62px)"></i><i style="background:linear-gradient(#100465 0px,#220887 9.5px,#320b92 10.5px,#6f13a5 11.5px,#b220a3 12.5px,#dc367c 13.5px,#ef5b49 14.5px,#f77b2c 15.5px,#fba922 18.5px,#fdc231 19.5px,#ffe978 20.5px,#fff3b0 21.5px,#f1633f 22.5px,#6312a3 23.5px,#aa1ea7 24.5px,#5a10a1 25.5px,#1a0681 26.5px,#150575 52.5px,#150577 62px)"></i><i style="background:linear-gradient(#100467 0px,#260889 9.5px,#420d9b 10.5px,#9a1aa8 11.5px,#d22f8b 12.5px,#f88425 14.5px,#fcb424 16.5px,#fecc3b 18.5px,#fffce5 20.5px,#fed46c 21.5px,#aa229b 22.5px,#8015a9 23.5px,#b820a6 24.5px,#8216a8 25.5px,#250889 26.5px,#160679 47.5px,#150576 62px)"></i><i style="background:linear-gradient(#13056e 0px,#1a0681 5.5px,#310a91 8.5px,#2c0a8e 9.5px,#4b0e9d 10.5px,#971aa8 11.5px,#d02e8d 12.5px,#ef5b49 13.5px,#f99023 14.5px,#fcb221 15.5px,#fed948 17.5px,#fff3af 18.5px,#fffde7 19.5px,#fffde7 20.5px,#fba223 21.5px,#931aa6 22.5px,#7915a8 23.5px,#bd21a5 24.5px,#9119a9 25.5px,#210786 26.5px,#16067b 30.5px,#18067f 44.5px,#150575 62px)"></i><i style="background:linear-gradient(#140574 0px,#18067f 4.5px,#440e9c 7.5px,#360b95 9.5px,#460e9b 10.5px,#7f16a7 11.5px,#b722a0 12.5px,#df3c73 13.5px,#f36d37 14.5px,#fa9423 15.5px,#fcb72d 17.5px,#fed352 18.5px,#fff5ba 20.5px,#ffeb84 21.5px,#f26a3e 22.5px,#6912a4 23.5px,#b620a6 24.5px,#6912a4 25.5px,#190681 26.5px,#17067a 47.5px,#1a0681 62px)"></i><i style="background:linear-gradient(#150575 0px,#1e0784 4.5px,#450e9c 7.5px,#330b93 11.5px,#510f9d 12.5px,#8c18a6 13.5px,#c52a92 14.5px,#ee594b 16.5px,#f26b3d 18.5px,#fba62d 20.5px,#fcbb31 21.5px,#f98b24 22.5px,#9018a9 23.5px,#8516a9 25.5px,#18067f 26.5px,#140574 34.5px,#13056f 52.5px,#1e0784 62px)"></i><i style="background:linear-gradient(#17067b 0px,#1f0785 5.5px,#260889 9.5px,#200785 12.5px,#500f9c 14.5px,#af21a1 17.5px,#e43f6d 19.5px,#f87e27 21.5px,#f78029 22.5px,#a71ea4 23.5px,#7714a7 24.5px,#961aa9 25.5px,#240888 26.5px,#18067b 30.5px,#130571 51.5px,#18067f 62px)"></i><i style="background:linear-gradient(#28098b 0px,#17067c 5.5px,#190680 13.5px,#370b95 15.5px,#5b11a1 16.5px,#991aa8 17.5px,#e63f6b 18.5px,#f98b24 19.5px,#fdba29 20.5px,#fed13f 21.5px,#fb9e21 22.5px,#b822a2 23.5px,#8b17a9 24.5px,#9c1ba8 25.5px,#3d0c99 26.5px,#220887 27.5px,#190680 62px)"></i><i style="background:linear-gradient(#28098b 0px,#17067c 12.5px,#420d9a 15.5px,#5f11a2 16.5px,#9018a9 17.5px,#d33089 18.5px,#f5742f 19.5px,#fcb325 20.5px,#feca39 21.5px,#f99123 22.5px,#ad1ea7 23.5px,#9219a9 24.5px,#aa1ea7 25.5px,#430d9b 26.5px,#250889 27.5px,#1b0782 42.5px,#240888 49.5px,#1e0784 58.5px,#250889 62px)"></i><i style="background:linear-gradient(#1b0782 0px,#240888 6.5px,#190680 11.5px,#430d99 13.5px,#a81da7 16.5px,#e64169 19.5px,#f36839 20.5px,#f88326 21.5px,#e74763 22.5px,#8517a8 23.5px,#7915a8 24.5px,#b620a6 25.5px,#53109f 26.5px,#190681 27.5px,#160678 49.5px,#17067c 62px)"></i><i style="background:linear-gradient(#140572 0px,#300a90 6.5px,#1b0782 10.5px,#3e0d99 12.5px,#a11ca8 14.5px,#c5269c 15.5px,#f2643e 18.5px,#fba525 20.5px,#fcb82b 21.5px,#dd3879 22.5px,#6011a2 23.5px,#971aa8 24.5px,#bb21a5 25.5px,#7114a6 26.5px,#1b0681 27.5px,#150575 46.5px,#17067c 55.5px,#150575 62px)"></i><i style="background:linear-gradient(#0e045f 0px,#2c098d 6.5px,#26088a 10.5px,#6812a4 12.5px,#c2269c 14.5px,#ef5b49 16.5px,#f77c29 17.5px,#fdb92a 19.5px,#ffe36a 20.5px,#ffe976 21.5px,#e94761 22.5px,#6011a2 23.5px,#bb21a5 24.5px,#9519a9 25.5px,#480e9c 26.5px,#28098b 27.5px,#1a0680 35.5px,#240888 40.5px,#17067d 46.5px,#1c0783 62px)"></i><i style="background:linear-gradient(#0b0354 0px,#27098a 9.5px,#3c0c98 10.5px,#b320a5 12.5px,#ec5254 14.5px,#f57631 15.5px,#fcad25 17.5px,#fdc332 18.5px,#ffe978 19.5px,#fffad7 20.5px,#ffe56d 21.5px,#de3978 22.5px,#8917aa 23.5px,#ba21a6 24.5px,#7c15a8 25.5px,#350b94 26.5px,#1e0784 27.5px,#1e0784 35.5px,#26088a 40.5px,#160578 48.5px,#240888 62px)"></i><i style="background:linear-gradient(#0a0352 0px,#18067f 8.5px,#28098b 9.5px,#520f9f 10.5px,#9419a9 11.5px,#cb2a94 12.5px,#f77728 14.5px,#fdb827 16.5px,#fecd3c 17.5px,#fffce6 19.5px,#fffde8 20.5px,#fdc736 21.5px,#da357f 22.5px,#6a13a4 23.5px,#bf22a5 24.5px,#ab1ea7 25.5px,#380c96 27.5px,#1d0784 30.5px,#220887 40.5px,#17067c 54.5px,#26098a 62px)"></i><i style="background:linear-gradient(#0e0460 0px,#13056e 6.5px,#200785 8.5px,#450e9b 9.5px,#ae1ea7 11.5px,#e74169 13.5px,#f98725 15.5px,#fba821 16.5px,#fdc332 17.5px,#ffe062 18.5px,#fffad9 19.5px,#fffde9 20.5px,#fff5bb 21.5px,#fa9d23 22.5px,#5710a0 23.5px,#bb21a5 24.5px,#7d15a7 26.5px,#991aa8 28.5px,#3c0c97 29.5px,#220887 30.5px,#17067d 57.5px,#1f0785 62px)"></i><i style="background:linear-gradient(#140571 0px,#160679 7.5px,#230887 8.5px,#4a0e9d 9.5px,#8c18a9 10.5px,#c023a3 11.5px,#eb4f57 14.5px,#f5702f 15.5px,#fcae1f 17.5px,#ffdc51 19.5px,#fff8ce 20.5px,#fffde7 21.5px,#fdc432 22.5px,#5c11a1 23.5px,#b921a6 24.5px,#961aa8 25.5px,#d12f8a 26.5px,#f27040 27.5px,#f06b45 28.5px,#9c1ba6 29.5px,#18067f 30.5px,#12056e 62px)"></i><i style="background:linear-gradient(#16067a 0px,#18067f 8.5px,#210886 9.5px,#440d98 10.5px,#8317a6 11.5px,#b722a1 12.5px,#ea4a5d 14.5px,#f6742c 15.5px,#fcb624 18.5px,#fec937 19.5px,#fffad9 21.5px,#ffe475 22.5px,#b72890 23.5px,#bf22a4 24.5px,#a31ca7 25.5px,#fcb632 26.5px,#ffe46c 27.5px,#fcb221 28.5px,#ca2a95 29.5px,#320a91 30.5px,#1e0784 31.5px,#1d0784 46.5px,#130570 62px)"></i><i style="background:linear-gradient(#1a0681 0px,#150577 7.5px,#220887 10.5px,#3b0c98 11.5px,#ad1ea7 13.5px,#e84861 15.5px,#f2653d 16.5px,#fba120 19.5px,#fdc231 20.5px,#ffe368 21.5px,#ffea7f 22.5px,#f7752a 23.5px,#8717a7 24.5px,#c324a0 25.5px,#ffe870 26.5px,#fff0a1 27.5px,#fa9722 28.5px,#b21fa6 29.5px,#450d9b 30.5px,#190680 31.5px,#160679 62px)"></i><i style="background:linear-gradient(#260889 0px,#12056d 7.5px,#1b0782 10.5px,#53109f 12.5px,#b420a6 14.5px,#ef5b49 18.5px,#fa9b22 20.5px,#fcb72b 21.5px,#fa9e32 22.5px,#cb3285 23.5px,#6a13a4 24.5px,#c6269c 25.5px,#fdc735 26.5px,#fffad8 27.5px,#fecc3a 28.5px,#ec5352 29.5px,#8a17a8 30.5px,#2c0a8e 31.5px,#1a0681 33.5px,#1e0784 57.5px,#230888 62px)"></i><i style="background:linear-gradient(#2b098d 0px,#130570 6.5px,#1c0783 11.5px,#5d11a1 14.5px,#be259d 17.5px,#da357d 18.5px,#f05f44 19.5px,#f88326 20.5px,#f88026 21.5px,#d63284 22.5px,#7c15a8 23.5px,#8c18a9 24.5px,#c223a2 25.5px,#ea5950 26.5px,#ffe57c 27.5px,#fdc837 28.5px,#ed5451 29.5px,#5910a0 30.5px,#1e0784 31.5px,#1c0782 60.5px,#1d0783 62px)"></i><i style="background:linear-gradient(#200786 0px,#140573 5.5px,#16067a 10.5px,#150576 12.5px,#3d0c99 15.5px,#6d13a5 16.5px,#b420a6 17.5px,#f06043 18.5px,#fcb120 19.5px,#fed241 20.5px,#fed03e 21.5px,#f98d24 22.5px,#bf23a3 23.5px,#9319a9 24.5px,#bc21a5 25.5px,#b722a1 26.5px,#f2743e 27.5px,#e75854 28.5px,#a71da7 29.5px,#250889 30.5px,#1d0784 34.5px,#210886 59.5px,#240888 62px)"></i><i style="background:linear-gradient(#150578 0px,#140574 6.5px,#16067b 9.5px,#110469 12.5px,#18067e 14.5px,#310a91 15.5px,#6d13a4 16.5px,#b1249a 17.5px,#da5e63 19.5px,#f59145 21.5px,#df5061 22.5px,#6e14a1 23.5px,#60119f 24.5px,#6d149b 25.5px,#430d95 26.5px,#961aa8 27.5px,#8a17a8 28.5px,#320b92 30.5px,#1f0785 32.5px,#200785 43.5px,#220887 59.5px,#2b098d 62px)"></i></div><div class="im" style="left:544px;top:257px;width:82px;height:62px;--w:2px;"><i style="background:linear-gradient(#210886 0px,#28098b 23.5px,#450d99 25.5px,#74159e 26.5px,#9e2885 27.5px,#ee794f 29.5px,#fcba38 30.5px,#fede68 31.5px,#fedb56 32.5px,#d93480 33.5px,#f05f44 34.5px,#991aa8 35.5px,#230887 36.5px,#150576 50.5px,#1f0785 62px)"></i><i style="background:linear-gradient(#210886 0px,#28098b 23.5px,#3a0c97 24.5px,#991aa8 25.5px,#ec564f 26.5px,#fbac29 27.5px,#fed74b 28.5px,#fff2ae 30.5px,#fff6c5 31.5px,#ffe669 32.5px,#db367d 33.5px,#f05e45 34.5px,#c0249f 35.5px,#3d0c98 36.5px,#1d0783 37.5px,#200786 58.5px,#260889 62px)"></i><i style="background:linear-gradient(#210886 0px,#2b098d 23.5px,#4d0f9e 24.5px,#ba21a5 25.5px,#f36b37 26.5px,#fcb529 27.5px,#ffde54 28.5px,#ffee97 29.5px,#fff6c2 30.5px,#fff4b7 31.5px,#fcaf22 32.5px,#db367d 33.5px,#f05d46 34.5px,#ec5254 35.5px,#a21ea3 36.5px,#2c098d 37.5px,#1c0782 39.5px,#1f0784 62px)"></i><i style="background:linear-gradient(#210886 0px,#2c098d 23.5px,#470e9d 24.5px,#991aa8 25.5px,#e03976 26.5px,#f88126 27.5px,#fdbb2a 28.5px,#ffe668 29.5px,#fff4b9 30.5px,#fff4b7 31.5px,#fcac1f 32.5px,#d73382 33.5px,#ef5a4a 34.5px,#f2673a 35.5px,#c92b92 36.5px,#420d98 37.5px,#210886 38.5px,#2b098d 46.5px,#17067b 55.5px,#12056c 62px)"></i><i style="background:linear-gradient(#210886 0px,#250889 22.5px,#2b098d 23.5px,#470e9c 24.5px,#981aa8 25.5px,#e13a73 26.5px,#f98c24 27.5px,#fec938 28.5px,#ffea80 29.5px,#fff5be 30.5px,#fff7c6 31.5px,#fed54b 32.5px,#d73382 33.5px,#ef5c48 34.5px,#d93480 35.5px,#4b0e9b 36.5px,#18067f 37.5px,#150575 58.5px,#130570 62px)"></i><i style="background:linear-gradient(#210886 0px,#2a098c 23.5px,#420d9a 24.5px,#8c18a9 25.5px,#d83481 26.5px,#f88525 27.5px,#feca38 28.5px,#ffea7d 29.5px,#fffce4 31.5px,#ffed8d 32.5px,#d53186 33.5px,#ef5b49 34.5px,#d22f8a 35.5px,#410d9a 36.5px,#1d0784 37.5px,#190681 54.5px,#210886 62px)"></i><i style="background:linear-gradient(#210886 0px,#260889 23.5px,#2e0a8f 24.5px,#6712a4 25.5px,#d53186 26.5px,#f98825 27.5px,#fdc130 28.5px,#ffe151 29.5px,#fff9d2 31.5px,#ffef99 32.5px,#e03975 33.5px,#f16142 34.5px,#cc2b93 35.5px,#5610a0 36.5px,#1f0785 37.5px,#1d0783 53.5px,#2a098c 60.5px,#29098b 62px)"></i><i style="background:linear-gradient(#210886 0px,#250889 23.5px,#2e0a8f 24.5px,#7815a6 25.5px,#e54664 26.5px,#fba721 27.5px,#fed745 28.5px,#fff7c6 31.5px,#ffec8c 32.5px,#da357e 33.5px,#ed5451 34.5px,#ed5352 35.5px,#a51da6 36.5px,#250889 37.5px,#180680 41.5px,#18067e 56.5px,#200785 62px)"></i><i style="background:linear-gradient(#230888 0px,#27098a 23.5px,#390c96 24.5px,#a51da7 25.5px,#ef5b49 26.5px,#fa9e27 27.5px,#fed051 29.5px,#ffe577 31.5px,#ffe670 32.5px,#fcb62e 33.5px,#de3b75 34.5px,#eb4d59 35.5px,#e64566 36.5px,#370c95 37.5px,#180680 38.5px,#17067e 57.5px,#210886 62px)"></i><i style="background:linear-gradient(#27098a 0px,#26088a 22.5px,#360b94 24.5px,#a11ca8 26.5px,#d33088 27.5px,#f77828 28.5px,#fcb524 29.5px,#fed240 30.5px,#fed745 32.5px,#f79439 33.5px,#e03a75 34.5px,#ec5056 35.5px,#dd3c75 36.5px,#29098b 37.5px,#16067a 38.5px,#190680 59.5px,#1c0783 62px)"></i><i style="background:linear-gradient(#210886 0px,#2a098c 22.5px,#360b94 24.5px,#8316a9 26.5px,#c124a1 27.5px,#f2663c 28.5px,#fba820 29.5px,#fed644 31.5px,#fece3c 32.5px,#de3878 33.5px,#ee574e 34.5px,#c02d8a 35.5px,#60119f 36.5px,#18067e 37.5px,#150576 54.5px,#1e0784 62px)"></i><i style="background:linear-gradient(#210886 0px,#2b098d 23.5px,#3a0c97 25.5px,#b720a6 27.5px,#ec5056 28.5px,#f99023 29.5px,#fcb423 30.5px,#fecf3d 31.5px,#fece3c 32.5px,#ea4c5c 33.5px,#dc377b 34.5px,#6312a3 35.5px,#1c0783 36.5px,#150576 55.5px,#150577 62px)"></i><i style="background:linear-gradient(#210886 0px,#28098b 22.5px,#450d9a 24.5px,#8d18a9 26.5px,#c5269d 27.5px,#f2643e 28.5px,#fba920 29.5px,#fecd3b 30.5px,#fed03f 31.5px,#ee664a 32.5px,#eb4e59 34.5px,#7f16a8 35.5px,#190680 36.5px,#220887 47.5px,#17067c 62px)"></i><i style="background:linear-gradient(#210886 0px,#2a098c 21.5px,#a21ca7 25.5px,#cc2b93 27.5px,#f56e31 28.5px,#fdbb2a 29.5px,#fed644 30.5px,#fcae26 31.5px,#d33089 32.5px,#ef5a4a 33.5px,#eb4f57 34.5px,#8817aa 35.5px,#1b0782 36.5px,#16067a 60.5px,#17067c 62px)"></i><i style="background:linear-gradient(#210886 0px,#29098b 19.5px,#3e0d9a 21.5px,#9b1ba8 24.5px,#c7279a 26.5px,#de3977 27.5px,#f98d24 28.5px,#fdc634 29.5px,#fed846 30.5px,#fec937 31.5px,#dd3d74 32.5px,#ed5550 33.5px,#ef5a4a 34.5px,#961aa8 35.5px,#370b94 36.5px,#240888 37.5px,#17067e 59.5px,#1b0682 62px)"></i><i style="background:linear-gradient(#230888 0px,#2a098c 21.5px,#370b94 22.5px,#a41ca7 25.5px,#c124a0 26.5px,#e94860 27.5px,#fa9a22 28.5px,#fdc331 29.5px,#fed443 31.5px,#f88026 32.5px,#ea4a5d 33.5px,#f36839 34.5px,#cd2b92 35.5px,#6d13a5 36.5px,#2b098d 37.5px,#160679 47.5px,#17067b 62px)"></i><i style="background:linear-gradient(#210886 0px,#230888 22.5px,#3f0d98 24.5px,#8b18a8 26.5px,#cb2a95 27.5px,#f77c27 28.5px,#fcb726 29.5px,#fed13f 30.5px,#fed846 31.5px,#fcae2d 32.5px,#dc377a 33.5px,#f05e45 34.5px,#ef5a4a 35.5px,#a01ca8 36.5px,#250889 37.5px,#150575 40.5px,#150577 62px)"></i><i style="background:linear-gradient(#210886 0px,#2b098d 23.5px,#450e9c 25.5px,#c022a4 27.5px,#f3673a 28.5px,#fcab1f 29.5px,#fed644 31.5px,#fed746 32.5px,#faa02f 33.5px,#df3977 34.5px,#f05f44 35.5px,#9018a9 36.5px,#1d0783 37.5px,#17067c 44.5px,#160679 62px)"></i><i style="background:linear-gradient(#210886 0px,#2a098c 22.5px,#390c96 24.5px,#9319a9 26.5px,#cf2d8f 27.5px,#f5712f 28.5px,#fcac1f 29.5px,#fecc3a 30.5px,#ffda48 32.5px,#fcb72c 33.5px,#d73383 34.5px,#ef5d47 35.5px,#9519a9 36.5px,#200784 37.5px,#140574 40.5px,#1d0784 58.5px,#16067a 62px)"></i><i style="background:linear-gradient(#210886 0px,#230888 20.5px,#300a91 21.5px,#971aa7 24.5px,#c82a94 26.5px,#e33f6d 27.5px,#f77927 28.5px,#fcae1f 29.5px,#fed03e 30.5px,#ffdb4a 31.5px,#fed140 32.5px,#ec5155 33.5px,#de3877 34.5px,#f16142 35.5px,#d93480 36.5px,#7214a5 37.5px,#1d0783 38.5px,#220886 54.5px,#1d0783 62px)"></i><i style="background:linear-gradient(#210886 0px,#28098b 19.5px,#2d0a8e 20.5px,#4c0f9e 21.5px,#9b1ba8 22.5px,#ca2a96 23.5px,#ec5155 26.5px,#f57032 27.5px,#fcb325 29.5px,#ffdc52 30.5px,#ffeb82 31.5px,#ffda48 32.5px,#e84762 33.5px,#de3878 34.5px,#f06043 35.5px,#f1633f 36.5px,#a01ca8 37.5px,#200785 38.5px,#16067a 59.5px,#150576 62px)"></i><i style="background:linear-gradient(#210886 0px,#260889 20.5px,#370b95 21.5px,#8416a8 22.5px,#cd2c92 23.5px,#ea4d5a 24.5px,#f46b35 25.5px,#fb9e21 27.5px,#fdbd2c 28.5px,#ffe571 29.5px,#fff8ce 30.5px,#fffce4 31.5px,#ffe665 32.5px,#f2643e 33.5px,#d43187 34.5px,#ef5a4a 35.5px,#ed564e 36.5px,#6f13a5 37.5px,#160678 38.5px,#17067e 48.5px,#140574 62px)"></i><i style="background:linear-gradient(#210886 0px,#210886 20.5px,#2c098d 21.5px,#6512a3 22.5px,#c023a3 23.5px,#eb5056 24.5px,#f88426 25.5px,#fdba29 27.5px,#fed947 28.5px,#fff7ca 29.5px,#fffde9 30.5px,#fffce5 31.5px,#fdc231 32.5px,#d33088 33.5px,#f16340 35.5px,#b4239c 36.5px,#240886 37.5px,#140573 39.5px,#17067d 52.5px,#1a0681 62px)"></i><i style="background:linear-gradient(#210886 0px,#220887 20.5px,#2f0a90 21.5px,#6011a2 22.5px,#af1fa6 23.5px,#e23c70 24.5px,#f57031 25.5px,#fcaa20 27.5px,#fdc331 28.5px,#ffe56c 29.5px,#fff9d5 30.5px,#fffde8 31.5px,#ffdd4e 32.5px,#d33088 33.5px,#ef5c47 34.5px,#be2797 35.5px,#3b0c94 36.5px,#140574 37.5px,#140574 54.5px,#150576 62px)"></i><i style="background:linear-gradient(#210886 0px,#27098a 8.5px,#2b098d 13.5px,#27098a 21.5px,#420d9a 22.5px,#8917a8 23.5px,#c62799 24.5px,#f2663c 26.5px,#fba71f 28.5px,#feca39 29.5px,#fff0a0 30.5px,#fff6c0 31.5px,#fcb134 32.5px,#e23e6f 33.5px,#ed5451 34.5px,#7c15a8 35.5px,#1e0784 36.5px,#17067c 43.5px,#150576 62px)"></i><i style="background:linear-gradient(#210886 0px,#2b098d 22.5px,#4f0f9e 23.5px,#8d18a8 24.5px,#ba23a0 25.5px,#ea4e59 27.5px,#f6772f 28.5px,#fcaa21 29.5px,#ffde57 30.5px,#fed543 31.5px,#d83480 32.5px,#ed564f 33.5px,#eb4e58 34.5px,#991aa7 35.5px,#420d97 36.5px,#180680 37.5px,#190680 62px)"></i><i style="background:linear-gradient(#210886 0px,#26088a 22.5px,#4a0e9c 24.5px,#9f1ba8 26.5px,#c5269d 27.5px,#e5416a 28.5px,#f88625 29.5px,#fdc02f 30.5px,#fed240 31.5px,#f26c3d 32.5px,#dd3879 33.5px,#ee584d 34.5px,#ef5d46 35.5px,#d44074 36.5px,#62129e 37.5px,#17067c 38.5px,#220887 59.5px,#1c0782 62px)"></i><i style="background:linear-gradient(#210886 0px,#2a098c 23.5px,#320b91 24.5px,#8e18a9 26.5px,#bc21a5 27.5px,#da357e 28.5px,#f77629 29.5px,#fdbc2b 30.5px,#fed442 31.5px,#f88128 32.5px,#cb2a94 33.5px,#f16241 36.5px,#e1416d 37.5px,#3d0c96 38.5px,#150575 39.5px,#1b0780 54.5px,#1d0784 62px)"></i><i style="background:linear-gradient(#210886 0px,#28098b 23.5px,#3c0c98 25.5px,#a41ca7 27.5px,#d22f8a 28.5px,#f77b27 29.5px,#fdc432 30.5px,#fed240 31.5px,#f1643e 32.5px,#dc377a 33.5px,#ec5352 34.5px,#f3673a 36.5px,#cc2d8d 37.5px,#29098b 38.5px,#130571 39.5px,#16067b 51.5px,#1d0784 59.5px,#27098a 62px)"></i><i style="background:linear-gradient(#210886 0px,#28098b 22.5px,#330b92 24.5px,#4a0e9c 25.5px,#9d1ba8 27.5px,#c92997 28.5px,#f2643e 29.5px,#fcb021 30.5px,#fed442 31.5px,#fdba2d 32.5px,#e74169 33.5px,#f3673a 34.5px,#ec5452 35.5px,#c72b91 36.5px,#56109e 37.5px,#150577 38.5px,#27098a 62px)"></i><i style="background:linear-gradient(#250889 0px,#240888 21.5px,#400d99 23.5px,#a81ea6 25.5px,#db3e75 27.5px,#e95058 28.5px,#f6792c 29.5px,#fcae1f 30.5px,#fed240 31.5px,#fecf3e 32.5px,#e84662 33.5px,#f36839 34.5px,#bf259d 35.5px,#5d11a1 36.5px,#18067f 37.5px,#200785 57.5px,#320b92 62px)"></i><i style="background:linear-gradient(#260889 0px,#250888 21.5px,#320b92 22.5px,#5b11a1 23.5px,#a61da7 24.5px,#e03d72 25.5px,#f47234 26.5px,#fba022 28.5px,#fecb39 30.5px,#ffe267 31.5px,#fecd3b 32.5px,#e23b71 33.5px,#f16241 34.5px,#bd23a1 35.5px,#340b93 36.5px,#16067b 37.5px,#220887 58.5px,#28098a 62px)"></i><i style="background:linear-gradient(#220887 0px,#26088a 21.5px,#430d9c 22.5px,#9018a9 23.5px,#d53285 24.5px,#f57431 25.5px,#fba520 26.5px,#fed644 28.5px,#ffe667 29.5px,#fff5bd 30.5px,#fff6c1 31.5px,#f98f24 32.5px,#e43c70 33.5px,#f16142 34.5px,#c92997 35.5px,#370b95 36.5px,#1c0782 37.5px,#240888 39.5px,#18067d 46.5px,#1b0681 62px)"></i><i style="background:linear-gradient(#300a90 0px,#210886 8.5px,#230888 21.5px,#420d9b 22.5px,#a51da7 23.5px,#e84662 24.5px,#f98f24 25.5px,#fcb423 26.5px,#fed140 28.5px,#ffe668 29.5px,#fffad6 30.5px,#fffde6 31.5px,#fcaf2c 32.5px,#d93480 33.5px,#ef5c47 34.5px,#e34766 35.5px,#7515a4 36.5px,#29098b 37.5px,#3d0d99 38.5px,#b2239b 39.5px,#83199d 40.5px,#1f0785 41.5px,#160679 53.5px,#27098a 62px)"></i><i style="background:linear-gradient(#230888 0px,#220886 20.5px,#2c0a8e 21.5px,#6612a3 22.5px,#c1269c 23.5px,#ef5b49 24.5px,#f99223 25.5px,#fcb01f 26.5px,#fece3d 28.5px,#ffe76d 29.5px,#fffbdc 30.5px,#fffde8 31.5px,#fed03e 32.5px,#cb2a94 33.5px,#eb4e58 34.5px,#f3673a 35.5px,#e54c5f 36.5px,#8417a5 37.5px,#29098b 38.5px,#d53186 39.5px,#fcb235 40.5px,#6111a1 41.5px,#130570 42.5px,#200786 62px)"></i><i style="background:linear-gradient(#210886 0px,#2b098d 20.5px,#500f9e 21.5px,#9c1ba8 22.5px,#d83481 23.5px,#f1633f 24.5px,#f98925 25.5px,#fdba29 27.5px,#ffda48 28.5px,#fff3af 29.5px,#fffde6 30.5px,#fff5be 31.5px,#fcab22 32.5px,#ca2a95 33.5px,#f16340 35.5px,#f46c35 36.5px,#d12f8b 37.5px,#460e9c 38.5px,#b720a6 39.5px,#ffee96 40.5px,#d02e8c 41.5px,#1d0782 42.5px,#1b0782 62px)"></i><i style="background:linear-gradient(#210886 0px,#2c098d 20.5px,#4b0e9d 21.5px,#ae1fa5 23.5px,#cf2d8e 24.5px,#e74960 25.5px,#f6772d 26.5px,#fba120 27.5px,#fed745 28.5px,#fff3b2 29.5px,#ffef9d 30.5px,#fecc3a 31.5px,#f77f2a 32.5px,#d43187 33.5px,#db367d 34.5px,#f06043 35.5px,#ed574e 36.5px,#931aa6 37.5px,#460e9a 38.5px,#f2804c 39.5px,#fff09e 40.5px,#db3b78 41.5px,#2f0a90 42.5px,#190681 57.5px,#1a0681 62px)"></i><i style="background:linear-gradient(#210886 0px,#28098b 21.5px,#400d99 22.5px,#9b1ba8 24.5px,#ca2996 25.5px,#e84861 26.5px,#f77d28 27.5px,#fdbc2b 28.5px,#ffe15d 29.5px,#ffdc4a 30.5px,#fa9922 31.5px,#e84663 32.5px,#c92898 33.5px,#dc377b 34.5px,#f05d46 35.5px,#cf2d8f 36.5px,#380c95 37.5px,#9a1aa8 38.5px,#fdbf2e 39.5px,#fa9d25 40.5px,#8c18a9 41.5px,#260889 42.5px,#18067f 62px)"></i><i style="background:linear-gradient(#210886 0px,#220887 21.5px,#490e9d 23.5px,#a01ca8 25.5px,#c7279b 26.5px,#eb5056 27.5px,#fa9a22 28.5px,#feca39 29.5px,#ffda48 30.5px,#fece3d 31.5px,#e84464 32.5px,#da357e 33.5px,#ef5b48 34.5px,#f2643e 35.5px,#9f1ba8 36.5px,#240888 37.5px,#7e16a7 38.5px,#ea5950 39.5px,#e04569 40.5px,#ac1ea7 41.5px,#380b92 42.5px,#18067e 43.5px,#150578 56.5px,#16067a 62px)"></i><i style="background:linear-gradient(#240888 0px,#2b098d 22.5px,#320a91 23.5px,#4e0f9e 24.5px,#bd21a5 26.5px,#ed5550 27.5px,#fba520 28.5px,#fece3d 29.5px,#ffdb49 30.5px,#fed241 31.5px,#f06043 32.5px,#d53186 33.5px,#ed564f 34.5px,#f2663b 35.5px,#a81da7 36.5px,#230888 37.5px,#340b93 38.5px,#7014a2 39.5px,#240888 43.5px,#150575 57.5px,#150576 62px)"></i><i style="background:linear-gradient(#210886 0px,#28098b 22.5px,#340b93 24.5px,#6011a2 25.5px,#a01ca8 26.5px,#dd3779 27.5px,#f88227 28.5px,#fcb627 29.5px,#fed341 30.5px,#fed342 31.5px,#f6732c 32.5px,#d02e8d 33.5px,#f06042 35.5px,#e94e5a 36.5px,#4b0e9c 37.5px,#210886 38.5px,#27098a 43.5px,#130571 50.5px,#13056f 62px)"></i></div>
<svg width="685" height="340" viewBox="0 0 685 340">
<defs><linearGradient id="cbA" x1="0" y1="0" x2="0" y2="1"><stop offset="0" stop-color="#80d0f2"/><stop offset="0.14" stop-color="#62beec"/><stop offset="0.29" stop-color="#3480c8"/><stop offset="0.43" stop-color="#6e94a2"/><stop offset="0.53" stop-color="#aca580"/><stop offset="0.6" stop-color="#d6b870"/><stop offset="0.66" stop-color="#eec868"/><stop offset="0.74" stop-color="#d4b470"/><stop offset="0.86" stop-color="#988e76"/><stop offset="1" stop-color="#767576"/></linearGradient><linearGradient id="cbB" x1="0" y1="0" x2="0" y2="1"><stop offset="0" stop-color="#fffacd"/><stop offset="0.1" stop-color="#fff096"/><stop offset="0.2" stop-color="#fee264"/><stop offset="0.32" stop-color="#fcc846"/><stop offset="0.45" stop-color="#f6a037"/><stop offset="0.57" stop-color="#ec702e"/><stop offset="0.68" stop-color="#da4b2c"/><stop offset="0.8" stop-color="#b4302e"/><stop offset="0.9" stop-color="#8c3737"/><stop offset="1" stop-color="#70585a"/></linearGradient></defs>
<g shape-rendering="crispEdges">
<rect x="12.60" y="18.20" width="11.40" height="13.20" fill="#4caae4"/>
<rect x="23.40" y="18.20" width="11.40" height="13.20" fill="#5cbeee"/>
<rect x="34.20" y="18.20" width="11.40" height="13.20" fill="#70cdf4"/>
<rect x="45.00" y="18.20" width="11.40" height="13.20" fill="#70cdf4"/>
<rect x="55.80" y="18.20" width="11.40" height="13.20" fill="#70cdf4"/>
<rect x="66.60" y="18.20" width="11.40" height="13.20" fill="#4caae4"/>
<rect x="77.40" y="18.20" width="11.40" height="13.20" fill="#4292d4"/>
<rect x="12.60" y="30.80" width="11.40" height="13.20" fill="#998d76"/>
<rect x="23.40" y="30.80" width="11.40" height="13.20" fill="#baa272"/>
<rect x="34.20" y="30.80" width="11.40" height="13.20" fill="#998d76"/>
<rect x="45.00" y="30.80" width="11.40" height="13.20" fill="#baa272"/>
<rect x="55.80" y="30.80" width="11.40" height="13.20" fill="#d4b26a"/>
<rect x="66.60" y="30.80" width="11.40" height="13.20" fill="#998d76"/>
<rect x="77.40" y="30.80" width="11.40" height="13.20" fill="#837f77"/>
<rect x="12.60" y="43.40" width="11.40" height="13.20" fill="#797778"/>
<rect x="23.40" y="43.40" width="11.40" height="13.20" fill="#797778"/>
<rect x="34.20" y="43.40" width="11.40" height="13.20" fill="#797778"/>
<rect x="45.00" y="43.40" width="11.40" height="13.20" fill="#797778"/>
<rect x="55.80" y="43.40" width="11.40" height="13.20" fill="#797778"/>
<rect x="66.60" y="43.40" width="11.40" height="13.20" fill="#797778"/>
<rect x="77.40" y="43.40" width="11.40" height="13.20" fill="#797778"/>
<rect x="12.60" y="56.00" width="11.40" height="13.20" fill="#837f77"/>
<rect x="23.40" y="56.00" width="11.40" height="13.20" fill="#797778"/>
<rect x="34.20" y="56.00" width="11.40" height="13.20" fill="#797778"/>
<rect x="45.00" y="56.00" width="11.40" height="13.20" fill="#797778"/>
<rect x="55.80" y="56.00" width="11.40" height="13.20" fill="#797778"/>
<rect x="66.60" y="56.00" width="11.40" height="13.20" fill="#797778"/>
<rect x="77.40" y="56.00" width="11.40" height="13.20" fill="#797778"/>
<rect x="12.60" y="68.60" width="11.40" height="13.20" fill="#797778"/>
<rect x="23.40" y="68.60" width="11.40" height="13.20" fill="#797778"/>
<rect x="34.20" y="68.60" width="11.40" height="13.20" fill="#797778"/>
<rect x="45.00" y="68.60" width="11.40" height="13.20" fill="#797778"/>
<rect x="55.80" y="68.60" width="11.40" height="13.20" fill="#797778"/>
<rect x="66.60" y="68.60" width="11.40" height="13.20" fill="#797778"/>
<rect x="77.40" y="68.60" width="11.40" height="13.20" fill="#797778"/>
<rect x="12.60" y="81.20" width="11.40" height="13.20" fill="#797778"/>
<rect x="23.40" y="81.20" width="11.40" height="13.20" fill="#797778"/>
<rect x="34.20" y="81.20" width="11.40" height="13.20" fill="#797778"/>
<rect x="45.00" y="81.20" width="11.40" height="13.20" fill="#797778"/>
<rect x="55.80" y="81.20" width="11.40" height="13.20" fill="#797778"/>
<rect x="66.60" y="81.20" width="11.40" height="13.20" fill="#797778"/>
<rect x="77.40" y="81.20" width="11.40" height="13.20" fill="#797778"/>
</g>
<path d="M18.00 18.20V93.80M23.40 18.20V93.80M28.80 18.20V93.80M34.20 18.20V93.80M39.60 18.20V93.80M45.00 18.20V93.80M50.40 18.20V93.80M55.80 18.20V93.80M61.20 18.20V93.80M66.60 18.20V93.80M72.00 18.20V93.80M77.40 18.20V93.80M82.80 18.20V93.80M12.60 24.50H88.20M12.60 30.80H88.20M12.60 37.10H88.20M12.60 43.40H88.20M12.60 49.70H88.20M12.60 56.00H88.20M12.60 62.30H88.20M12.60 68.60H88.20M12.60 74.90H88.20M12.60 81.20H88.20M12.60 87.50H88.20" stroke="#000" stroke-width="0.5" stroke-dasharray="0.8 0.8" opacity="0.10" fill="none"/>
<path d="M12.5 15.80V94.5H91.70" stroke="#111" stroke-width="1.0" fill="none"/>
<path d="M12.5 13.80l-1.4 3h2.8z M93.70 94.5l-3 -1.4v2.8z" fill="#111"/>
<path d="M12.10 18.50H87.90V93.80" stroke="#222" stroke-width="0.7" stroke-dasharray="1 0.6" fill="none" opacity="0.75"/>
<text x="14.80" y="17.20" font-size="6.5" text-anchor="start" font-weight="bold" font-family="Liberation Serif" >Z</text>
<text x="93.80" y="96.80" font-size="6.8" text-anchor="start" font-weight="bold" font-family="Liberation Serif" >Y</text>
<text x="9.40" y="22.50" font-size="5.6000000000000005" text-anchor="end" font-weight="bold" font-family="Liberation Serif" stroke="#000" stroke-width="0.18">1</text>
<text x="9.60" y="58.60" font-size="5.6000000000000005" text-anchor="end" font-weight="bold" font-family="Liberation Serif" stroke="#000" stroke-width="0.18">0.5</text>
<text x="7.80" y="99.80" font-size="5.6000000000000005" text-anchor="middle" font-weight="bold" font-family="Liberation Serif" stroke="#000" stroke-width="0.18">0</text>
<text x="50.40" y="99.80" font-size="5.6000000000000005" text-anchor="middle" font-weight="bold" font-family="Liberation Serif" stroke="#000" stroke-width="0.18">0.5</text>
<text x="87.90" y="99.80" font-size="5.6000000000000005" text-anchor="middle" font-weight="bold" font-family="Liberation Serif" stroke="#000" stroke-width="0.18">1</text>
<g shape-rendering="crispEdges">
<rect x="119.20" y="18.20" width="11.40" height="13.20" fill="#998d76"/>
<rect x="130.00" y="18.20" width="11.40" height="13.20" fill="#baa272"/>
<rect x="140.80" y="18.20" width="11.40" height="13.20" fill="#998d76"/>
<rect x="151.60" y="18.20" width="11.40" height="13.20" fill="#998d76"/>
<rect x="162.40" y="18.20" width="11.40" height="13.20" fill="#baa272"/>
<rect x="173.20" y="18.20" width="11.40" height="13.20" fill="#797778"/>
<rect x="184.00" y="18.20" width="11.40" height="13.20" fill="#998d76"/>
<rect x="119.20" y="30.80" width="11.40" height="13.20" fill="#4caae4"/>
<rect x="130.00" y="30.80" width="11.40" height="13.20" fill="#70cdf4"/>
<rect x="140.80" y="30.80" width="11.40" height="13.20" fill="#70cdf4"/>
<rect x="151.60" y="30.80" width="11.40" height="13.20" fill="#5cbeee"/>
<rect x="162.40" y="30.80" width="11.40" height="13.20" fill="#70cdf4"/>
<rect x="173.20" y="30.80" width="11.40" height="13.20" fill="#5cbeee"/>
<rect x="184.00" y="30.80" width="11.40" height="13.20" fill="#4caae4"/>
<rect x="119.20" y="43.40" width="11.40" height="13.20" fill="#d4b26a"/>
<rect x="130.00" y="43.40" width="11.40" height="13.20" fill="#998d76"/>
<rect x="140.80" y="43.40" width="11.40" height="13.20" fill="#baa272"/>
<rect x="151.60" y="43.40" width="11.40" height="13.20" fill="#baa272"/>
<rect x="162.40" y="43.40" width="11.40" height="13.20" fill="#797778"/>
<rect x="173.20" y="43.40" width="11.40" height="13.20" fill="#998d76"/>
<rect x="184.00" y="43.40" width="11.40" height="13.20" fill="#998d76"/>
<rect x="119.20" y="56.00" width="11.40" height="13.20" fill="#797778"/>
<rect x="130.00" y="56.00" width="11.40" height="13.20" fill="#797778"/>
<rect x="140.80" y="56.00" width="11.40" height="13.20" fill="#797778"/>
<rect x="151.60" y="56.00" width="11.40" height="13.20" fill="#797778"/>
<rect x="162.40" y="56.00" width="11.40" height="13.20" fill="#797778"/>
<rect x="173.20" y="56.00" width="11.40" height="13.20" fill="#797778"/>
<rect x="184.00" y="56.00" width="11.40" height="13.20" fill="#797778"/>
<rect x="119.20" y="68.60" width="11.40" height="13.20" fill="#797778"/>
<rect x="130.00" y="68.60" width="11.40" height="13.20" fill="#797778"/>
<rect x="140.80" y="68.60" width="11.40" height="13.20" fill="#797778"/>
<rect x="151.60" y="68.60" width="11.40" height="13.20" fill="#797778"/>
<rect x="162.40" y="68.60" width="11.40" height="13.20" fill="#797778"/>
<rect x="173.20" y="68.60" width="11.40" height="13.20" fill="#797778"/>
<rect x="184.00" y="68.60" width="11.40" height="13.20" fill="#797778"/>
<rect x="119.20" y="81.20" width="11.40" height="13.20" fill="#797778"/>
<rect x="130.00" y="81.20" width="11.40" height="13.20" fill="#797778"/>
<rect x="140.80" y="81.20" width="11.40" height="13.20" fill="#797778"/>
<rect x="151.60" y="81.20" width="11.40" height="13.20" fill="#797778"/>
<rect x="162.40" y="81.20" width="11.40" height="13.20" fill="#797778"/>
<rect x="173.20" y="81.20" width="11.40" height="13.20" fill="#797778"/>
<rect x="184.00" y="81.20" width="11.40" height="13.20" fill="#797778"/>
</g>
<path d="M124.60 18.20V93.80M130.00 18.20V93.80M135.40 18.20V93.80M140.80 18.20V93.80M146.20 18.20V93.80M151.60 18.20V93.80M157.00 18.20V93.80M162.40 18.20V93.80M167.80 18.20V93.80M173.20 18.20V93.80M178.60 18.20V93.80M184.00 18.20V93.80M189.40 18.20V93.80M119.20 24.50H194.80M119.20 30.80H194.80M119.20 37.10H194.80M119.20 43.40H194.80M119.20 49.70H194.80M119.20 56.00H194.80M119.20 62.30H194.80M119.20 68.60H194.80M119.20 74.90H194.80M119.20 81.20H194.80M119.20 87.50H194.80" stroke="#000" stroke-width="0.5" stroke-dasharray="0.8 0.8" opacity="0.10" fill="none"/>
<path d="M118.5 15.80V94.5H198.30" stroke="#111" stroke-width="1.0" fill="none"/>
<path d="M118.5 13.80l-1.4 3h2.8z M200.30 94.5l-3 -1.4v2.8z" fill="#111"/>
<path d="M118.70 18.50H194.50V93.80" stroke="#222" stroke-width="0.7" stroke-dasharray="1 0.6" fill="none" opacity="0.75"/>
<text x="121.40" y="17.20" font-size="6.5" text-anchor="start" font-weight="bold" font-family="Liberation Serif" >Z</text>
<text x="200.40" y="96.80" font-size="6.8" text-anchor="start" font-weight="bold" font-family="Liberation Serif" >Y</text>
<text x="116.00" y="22.50" font-size="5.6000000000000005" text-anchor="end" font-weight="bold" font-family="Liberation Serif" stroke="#000" stroke-width="0.18">1</text>
<text x="116.20" y="58.60" font-size="5.6000000000000005" text-anchor="end" font-weight="bold" font-family="Liberation Serif" stroke="#000" stroke-width="0.18">0.5</text>
<text x="114.40" y="99.80" font-size="5.6000000000000005" text-anchor="middle" font-weight="bold" font-family="Liberation Serif" stroke="#000" stroke-width="0.18">0</text>
<text x="157.00" y="99.80" font-size="5.6000000000000005" text-anchor="middle" font-weight="bold" font-family="Liberation Serif" stroke="#000" stroke-width="0.18">0.5</text>
<text x="194.50" y="99.80" font-size="5.6000000000000005" text-anchor="middle" font-weight="bold" font-family="Liberation Serif" stroke="#000" stroke-width="0.18">1</text>
<g shape-rendering="crispEdges">
<rect x="225.80" y="18.20" width="11.40" height="13.20" fill="#797778"/>
<rect x="236.60" y="18.20" width="11.40" height="13.20" fill="#797778"/>
<rect x="247.40" y="18.20" width="11.40" height="13.20" fill="#797778"/>
<rect x="258.20" y="18.20" width="11.40" height="13.20" fill="#797778"/>
<rect x="269.00" y="18.20" width="11.40" height="13.20" fill="#797778"/>
<rect x="279.80" y="18.20" width="11.40" height="13.20" fill="#797778"/>
<rect x="290.60" y="18.20" width="11.40" height="13.20" fill="#797778"/>
<rect x="225.80" y="30.80" width="11.40" height="13.20" fill="#998d76"/>
<rect x="236.60" y="30.80" width="11.40" height="13.20" fill="#baa272"/>
<rect x="247.40" y="30.80" width="11.40" height="13.20" fill="#998d76"/>
<rect x="258.20" y="30.80" width="11.40" height="13.20" fill="#998d76"/>
<rect x="269.00" y="30.80" width="11.40" height="13.20" fill="#d4b26a"/>
<rect x="279.80" y="30.80" width="11.40" height="13.20" fill="#998d76"/>
<rect x="290.60" y="30.80" width="11.40" height="13.20" fill="#998d76"/>
<rect x="225.80" y="43.40" width="11.40" height="13.20" fill="#4caae4"/>
<rect x="236.60" y="43.40" width="11.40" height="13.20" fill="#70cdf4"/>
<rect x="247.40" y="43.40" width="11.40" height="13.20" fill="#70cdf4"/>
<rect x="258.20" y="43.40" width="11.40" height="13.20" fill="#70cdf4"/>
<rect x="269.00" y="43.40" width="11.40" height="13.20" fill="#70cdf4"/>
<rect x="279.80" y="43.40" width="11.40" height="13.20" fill="#70cdf4"/>
<rect x="290.60" y="43.40" width="11.40" height="13.20" fill="#4caae4"/>
<rect x="225.80" y="56.00" width="11.40" height="13.20" fill="#baa272"/>
<rect x="236.60" y="56.00" width="11.40" height="13.20" fill="#998d76"/>
<rect x="247.40" y="56.00" width="11.40" height="13.20" fill="#998d76"/>
<rect x="258.20" y="56.00" width="11.40" height="13.20" fill="#998d76"/>
<rect x="269.00" y="56.00" width="11.40" height="13.20" fill="#998d76"/>
<rect x="279.80" y="56.00" width="11.40" height="13.20" fill="#baa272"/>
<rect x="290.60" y="56.00" width="11.40" height="13.20" fill="#797778"/>
<rect x="225.80" y="68.60" width="11.40" height="13.20" fill="#797778"/>
<rect x="236.60" y="68.60" width="11.40" height="13.20" fill="#837f77"/>
<rect x="247.40" y="68.60" width="11.40" height="13.20" fill="#797778"/>
<rect x="258.20" y="68.60" width="11.40" height="13.20" fill="#797778"/>
<rect x="269.00" y="68.60" width="11.40" height="13.20" fill="#797778"/>
<rect x="279.80" y="68.60" width="11.40" height="13.20" fill="#797778"/>
<rect x="290.60" y="68.60" width="11.40" height="13.20" fill="#797778"/>
<rect x="225.80" y="81.20" width="11.40" height="13.20" fill="#797778"/>
<rect x="236.60" y="81.20" width="11.40" height="13.20" fill="#797778"/>
<rect x="247.40" y="81.20" width="11.40" height="13.20" fill="#797778"/>
<rect x="258.20" y="81.20" width="11.40" height="13.20" fill="#797778"/>
<rect x="269.00" y="81.20" width="11.40" height="13.20" fill="#797778"/>
<rect x="279.80" y="81.20" width="11.40" height="13.20" fill="#797778"/>
<rect x="290.60" y="81.20" width="11.40" height="13.20" fill="#797778"/>
</g>
<path d="M231.20 18.20V93.80M236.60 18.20V93.80M242.00 18.20V93.80M247.40 18.20V93.80M252.80 18.20V93.80M258.20 18.20V93.80M263.60 18.20V93.80M269.00 18.20V93.80M274.40 18.20V93.80M279.80 18.20V93.80M285.20 18.20V93.80M290.60 18.20V93.80M296.00 18.20V93.80M225.80 24.50H301.40M225.80 30.80H301.40M225.80 37.10H301.40M225.80 43.40H301.40M225.80 49.70H301.40M225.80 56.00H301.40M225.80 62.30H301.40M225.80 68.60H301.40M225.80 74.90H301.40M225.80 81.20H301.40M225.80 87.50H301.40" stroke="#000" stroke-width="0.5" stroke-dasharray="0.8 0.8" opacity="0.10" fill="none"/>
<path d="M225.5 15.80V94.5H304.90" stroke="#111" stroke-width="1.0" fill="none"/>
<path d="M225.5 13.80l-1.4 3h2.8z M306.90 94.5l-3 -1.4v2.8z" fill="#111"/>
<path d="M225.30 18.50H301.10V93.80" stroke="#222" stroke-width="0.7" stroke-dasharray="1 0.6" fill="none" opacity="0.75"/>
<text x="228.00" y="17.20" font-size="6.5" text-anchor="start" font-weight="bold" font-family="Liberation Serif" >Z</text>
<text x="307.00" y="96.80" font-size="6.8" text-anchor="start" font-weight="bold" font-family="Liberation Serif" >Y</text>
<text x="222.60" y="22.50" font-size="5.6000000000000005" text-anchor="end" font-weight="bold" font-family="Liberation Serif" stroke="#000" stroke-width="0.18">1</text>
<text x="222.80" y="58.60" font-size="5.6000000000000005" text-anchor="end" font-weight="bold" font-family="Liberation Serif" stroke="#000" stroke-width="0.18">0.5</text>
<text x="221.00" y="99.80" font-size="5.6000000000000005" text-anchor="middle" font-weight="bold" font-family="Liberation Serif" stroke="#000" stroke-width="0.18">0</text>
<text x="263.60" y="99.80" font-size="5.6000000000000005" text-anchor="middle" font-weight="bold" font-family="Liberation Serif" stroke="#000" stroke-width="0.18">0.5</text>
<text x="301.10" y="99.80" font-size="5.6000000000000005" text-anchor="middle" font-weight="bold" font-family="Liberation Serif" stroke="#000" stroke-width="0.18">1</text>
<g shape-rendering="crispEdges">
<rect x="332.40" y="18.20" width="11.40" height="13.20" fill="#797778"/>
<rect x="343.20" y="18.20" width="11.40" height="13.20" fill="#797778"/>
<rect x="354.00" y="18.20" width="11.40" height="13.20" fill="#797778"/>
<rect x="364.80" y="18.20" width="11.40" height="13.20" fill="#797778"/>
<rect x="375.60" y="18.20" width="11.40" height="13.20" fill="#797778"/>
<rect x="386.40" y="18.20" width="11.40" height="13.20" fill="#797778"/>
<rect x="397.20" y="18.20" width="11.40" height="13.20" fill="#797778"/>
<rect x="332.40" y="30.80" width="11.40" height="13.20" fill="#797778"/>
<rect x="343.20" y="30.80" width="11.40" height="13.20" fill="#797778"/>
<rect x="354.00" y="30.80" width="11.40" height="13.20" fill="#797778"/>
<rect x="364.80" y="30.80" width="11.40" height="13.20" fill="#797778"/>
<rect x="375.60" y="30.80" width="11.40" height="13.20" fill="#797778"/>
<rect x="386.40" y="30.80" width="11.40" height="13.20" fill="#797778"/>
<rect x="397.20" y="30.80" width="11.40" height="13.20" fill="#797778"/>
<rect x="332.40" y="43.40" width="11.40" height="13.20" fill="#998d76"/>
<rect x="343.20" y="43.40" width="11.40" height="13.20" fill="#998d76"/>
<rect x="354.00" y="43.40" width="11.40" height="13.20" fill="#baa272"/>
<rect x="364.80" y="43.40" width="11.40" height="13.20" fill="#baa272"/>
<rect x="375.60" y="43.40" width="11.40" height="13.20" fill="#998d76"/>
<rect x="386.40" y="43.40" width="11.40" height="13.20" fill="#d4b26a"/>
<rect x="397.20" y="43.40" width="11.40" height="13.20" fill="#797778"/>
<rect x="332.40" y="56.00" width="11.40" height="13.20" fill="#4caae4"/>
<rect x="343.20" y="56.00" width="11.40" height="13.20" fill="#5cbeee"/>
<rect x="354.00" y="56.00" width="11.40" height="13.20" fill="#70cdf4"/>
<rect x="364.80" y="56.00" width="11.40" height="13.20" fill="#70cdf4"/>
<rect x="375.60" y="56.00" width="11.40" height="13.20" fill="#70cdf4"/>
<rect x="386.40" y="56.00" width="11.40" height="13.20" fill="#70cdf4"/>
<rect x="397.20" y="56.00" width="11.40" height="13.20" fill="#4292d4"/>
<rect x="332.40" y="68.60" width="11.40" height="13.20" fill="#998d76"/>
<rect x="343.20" y="68.60" width="11.40" height="13.20" fill="#797778"/>
<rect x="354.00" y="68.60" width="11.40" height="13.20" fill="#baa272"/>
<rect x="364.80" y="68.60" width="11.40" height="13.20" fill="#baa272"/>
<rect x="375.60" y="68.60" width="11.40" height="13.20" fill="#baa272"/>
<rect x="386.40" y="68.60" width="11.40" height="13.20" fill="#998d76"/>
<rect x="397.20" y="68.60" width="11.40" height="13.20" fill="#baa272"/>
<rect x="332.40" y="81.20" width="11.40" height="13.20" fill="#797778"/>
<rect x="343.20" y="81.20" width="11.40" height="13.20" fill="#797778"/>
<rect x="354.00" y="81.20" width="11.40" height="13.20" fill="#797778"/>
<rect x="364.80" y="81.20" width="11.40" height="13.20" fill="#797778"/>
<rect x="375.60" y="81.20" width="11.40" height="13.20" fill="#797778"/>
<rect x="386.40" y="81.20" width="11.40" height="13.20" fill="#797778"/>
<rect x="397.20" y="81.20" width="11.40" height="13.20" fill="#797778"/>
</g>
<path d="M337.80 18.20V93.80M343.20 18.20V93.80M348.60 18.20V93.80M354.00 18.20V93.80M359.40 18.20V93.80M364.80 18.20V93.80M370.20 18.20V93.80M375.60 18.20V93.80M381.00 18.20V93.80M386.40 18.20V93.80M391.80 18.20V93.80M397.20 18.20V93.80M402.60 18.20V93.80M332.40 24.50H408.00M332.40 30.80H408.00M332.40 37.10H408.00M332.40 43.40H408.00M332.40 49.70H408.00M332.40 56.00H408.00M332.40 62.30H408.00M332.40 68.60H408.00M332.40 74.90H408.00M332.40 81.20H408.00M332.40 87.50H408.00" stroke="#000" stroke-width="0.5" stroke-dasharray="0.8 0.8" opacity="0.10" fill="none"/>
<path d="M331.5 15.80V94.5H411.50" stroke="#111" stroke-width="1.0" fill="none"/>
<path d="M331.5 13.80l-1.4 3h2.8z M413.50 94.5l-3 -1.4v2.8z" fill="#111"/>
<path d="M331.90 18.50H407.70V93.80" stroke="#222" stroke-width="0.7" stroke-dasharray="1 0.6" fill="none" opacity="0.75"/>
<text x="334.60" y="17.20" font-size="6.5" text-anchor="start" font-weight="bold" font-family="Liberation Serif" >Z</text>
<text x="413.60" y="96.80" font-size="6.8" text-anchor="start" font-weight="bold" font-family="Liberation Serif" >Y</text>
<text x="329.20" y="22.50" font-size="5.6000000000000005" text-anchor="end" font-weight="bold" font-family="Liberation Serif" stroke="#000" stroke-width="0.18">1</text>
<text x="329.40" y="58.60" font-size="5.6000000000000005" text-anchor="end" font-weight="bold" font-family="Liberation Serif" stroke="#000" stroke-width="0.18">0.5</text>
<text x="327.60" y="99.80" font-size="5.6000000000000005" text-anchor="middle" font-weight="bold" font-family="Liberation Serif" stroke="#000" stroke-width="0.18">0</text>
<text x="370.20" y="99.80" font-size="5.6000000000000005" text-anchor="middle" font-weight="bold" font-family="Liberation Serif" stroke="#000" stroke-width="0.18">0.5</text>
<text x="407.70" y="99.80" font-size="5.6000000000000005" text-anchor="middle" font-weight="bold" font-family="Liberation Serif" stroke="#000" stroke-width="0.18">1</text>
<g shape-rendering="crispEdges">
<rect x="439.00" y="18.20" width="11.40" height="13.20" fill="#797778"/>
<rect x="449.80" y="18.20" width="11.40" height="13.20" fill="#797778"/>
<rect x="460.60" y="18.20" width="11.40" height="13.20" fill="#797778"/>
<rect x="471.40" y="18.20" width="11.40" height="13.20" fill="#797778"/>
<rect x="482.20" y="18.20" width="11.40" height="13.20" fill="#797778"/>
<rect x="493.00" y="18.20" width="11.40" height="13.20" fill="#797778"/>
<rect x="503.80" y="18.20" width="11.40" height="13.20" fill="#797778"/>
<rect x="439.00" y="30.80" width="11.40" height="13.20" fill="#797778"/>
<rect x="449.80" y="30.80" width="11.40" height="13.20" fill="#797778"/>
<rect x="460.60" y="30.80" width="11.40" height="13.20" fill="#797778"/>
<rect x="471.40" y="30.80" width="11.40" height="13.20" fill="#797778"/>
<rect x="482.20" y="30.80" width="11.40" height="13.20" fill="#797778"/>
<rect x="493.00" y="30.80" width="11.40" height="13.20" fill="#797778"/>
<rect x="503.80" y="30.80" width="11.40" height="13.20" fill="#797778"/>
<rect x="439.00" y="43.40" width="11.40" height="13.20" fill="#797778"/>
<rect x="449.80" y="43.40" width="11.40" height="13.20" fill="#837f77"/>
<rect x="460.60" y="43.40" width="11.40" height="13.20" fill="#797778"/>
<rect x="471.40" y="43.40" width="11.40" height="13.20" fill="#797778"/>
<rect x="482.20" y="43.40" width="11.40" height="13.20" fill="#797778"/>
<rect x="493.00" y="43.40" width="11.40" height="13.20" fill="#797778"/>
<rect x="503.80" y="43.40" width="11.40" height="13.20" fill="#797778"/>
<rect x="439.00" y="56.00" width="11.40" height="13.20" fill="#998d76"/>
<rect x="449.80" y="56.00" width="11.40" height="13.20" fill="#baa272"/>
<rect x="460.60" y="56.00" width="11.40" height="13.20" fill="#998d76"/>
<rect x="471.40" y="56.00" width="11.40" height="13.20" fill="#baa272"/>
<rect x="482.20" y="56.00" width="11.40" height="13.20" fill="#998d76"/>
<rect x="493.00" y="56.00" width="11.40" height="13.20" fill="#998d76"/>
<rect x="503.80" y="56.00" width="11.40" height="13.20" fill="#baa272"/>
<rect x="439.00" y="68.60" width="11.40" height="13.20" fill="#4caae4"/>
<rect x="449.80" y="68.60" width="11.40" height="13.20" fill="#5cbeee"/>
<rect x="460.60" y="68.60" width="11.40" height="13.20" fill="#70cdf4"/>
<rect x="471.40" y="68.60" width="11.40" height="13.20" fill="#70cdf4"/>
<rect x="482.20" y="68.60" width="11.40" height="13.20" fill="#70cdf4"/>
<rect x="493.00" y="68.60" width="11.40" height="13.20" fill="#70cdf4"/>
<rect x="503.80" y="68.60" width="11.40" height="13.20" fill="#4caae4"/>
<rect x="439.00" y="81.20" width="11.40" height="13.20" fill="#797778"/>
<rect x="449.80" y="81.20" width="11.40" height="13.20" fill="#797778"/>
<rect x="460.60" y="81.20" width="11.40" height="13.20" fill="#797778"/>
<rect x="471.40" y="81.20" width="11.40" height="13.20" fill="#797778"/>
<rect x="482.20" y="81.20" width="11.40" height="13.20" fill="#797778"/>
<rect x="493.00" y="81.20" width="11.40" height="13.20" fill="#837f77"/>
<rect x="503.80" y="81.20" width="11.40" height="13.20" fill="#797778"/>
</g>
<path d="M444.40 18.20V93.80M449.80 18.20V93.80M455.20 18.20V93.80M460.60 18.20V93.80M466.00 18.20V93.80M471.40 18.20V93.80M476.80 18.20V93.80M482.20 18.20V93.80M487.60 18.20V93.80M493.00 18.20V93.80M498.40 18.20V93.80M503.80 18.20V93.80M509.20 18.20V93.80M439.00 24.50H514.60M439.00 30.80H514.60M439.00 37.10H514.60M439.00 43.40H514.60M439.00 49.70H514.60M439.00 56.00H514.60M439.00 62.30H514.60M439.00 68.60H514.60M439.00 74.90H514.60M439.00 81.20H514.60M439.00 87.50H514.60" stroke="#000" stroke-width="0.5" stroke-dasharray="0.8 0.8" opacity="0.10" fill="none"/>
<path d="M438.5 15.80V94.5H518.10" stroke="#111" stroke-width="1.0" fill="none"/>
<path d="M438.5 13.80l-1.4 3h2.8z M520.10 94.5l-3 -1.4v2.8z" fill="#111"/>
<path d="M438.50 18.50H514.30V93.80" stroke="#222" stroke-width="0.7" stroke-dasharray="1 0.6" fill="none" opacity="0.75"/>
<text x="441.20" y="17.20" font-size="6.5" text-anchor="start" font-weight="bold" font-family="Liberation Serif" >Z</text>
<text x="520.20" y="96.80" font-size="6.8" text-anchor="start" font-weight="bold" font-family="Liberation Serif" >Y</text>
<text x="435.80" y="22.50" font-size="5.6000000000000005" text-anchor="end" font-weight="bold" font-family="Liberation Serif" stroke="#000" stroke-width="0.18">1</text>
<text x="436.00" y="58.60" font-size="5.6000000000000005" text-anchor="end" font-weight="bold" font-family="Liberation Serif" stroke="#000" stroke-width="0.18">0.5</text>
<text x="434.20" y="99.80" font-size="5.6000000000000005" text-anchor="middle" font-weight="bold" font-family="Liberation Serif" stroke="#000" stroke-width="0.18">0</text>
<text x="476.80" y="99.80" font-size="5.6000000000000005" text-anchor="middle" font-weight="bold" font-family="Liberation Serif" stroke="#000" stroke-width="0.18">0.5</text>
<text x="514.30" y="99.80" font-size="5.6000000000000005" text-anchor="middle" font-weight="bold" font-family="Liberation Serif" stroke="#000" stroke-width="0.18">1</text>
<g shape-rendering="crispEdges">
<rect x="545.60" y="18.20" width="11.40" height="13.20" fill="#797778"/>
<rect x="556.40" y="18.20" width="11.40" height="13.20" fill="#837f77"/>
<rect x="567.20" y="18.20" width="11.40" height="13.20" fill="#797778"/>
<rect x="578.00" y="18.20" width="11.40" height="13.20" fill="#797778"/>
<rect x="588.80" y="18.20" width="11.40" height="13.20" fill="#797778"/>
<rect x="599.60" y="18.20" width="11.40" height="13.20" fill="#797778"/>
<rect x="610.40" y="18.20" width="11.40" height="13.20" fill="#797778"/>
<rect x="545.60" y="30.80" width="11.40" height="13.20" fill="#797778"/>
<rect x="556.40" y="30.80" width="11.40" height="13.20" fill="#797778"/>
<rect x="567.20" y="30.80" width="11.40" height="13.20" fill="#797778"/>
<rect x="578.00" y="30.80" width="11.40" height="13.20" fill="#797778"/>
<rect x="588.80" y="30.80" width="11.40" height="13.20" fill="#797778"/>
<rect x="599.60" y="30.80" width="11.40" height="13.20" fill="#797778"/>
<rect x="610.40" y="30.80" width="11.40" height="13.20" fill="#797778"/>
<rect x="545.60" y="43.40" width="11.40" height="13.20" fill="#797778"/>
<rect x="556.40" y="43.40" width="11.40" height="13.20" fill="#797778"/>
<rect x="567.20" y="43.40" width="11.40" height="13.20" fill="#797778"/>
<rect x="578.00" y="43.40" width="11.40" height="13.20" fill="#797778"/>
<rect x="588.80" y="43.40" width="11.40" height="13.20" fill="#837f77"/>
<rect x="599.60" y="43.40" width="11.40" height="13.20" fill="#797778"/>
<rect x="610.40" y="43.40" width="11.40" height="13.20" fill="#797778"/>
<rect x="545.60" y="56.00" width="11.40" height="13.20" fill="#797778"/>
<rect x="556.40" y="56.00" width="11.40" height="13.20" fill="#797778"/>
<rect x="567.20" y="56.00" width="11.40" height="13.20" fill="#797778"/>
<rect x="578.00" y="56.00" width="11.40" height="13.20" fill="#797778"/>
<rect x="588.80" y="56.00" width="11.40" height="13.20" fill="#797778"/>
<rect x="599.60" y="56.00" width="11.40" height="13.20" fill="#797778"/>
<rect x="610.40" y="56.00" width="11.40" height="13.20" fill="#797778"/>
<rect x="545.60" y="68.60" width="11.40" height="13.20" fill="#998d76"/>
<rect x="556.40" y="68.60" width="11.40" height="13.20" fill="#baa272"/>
<rect x="567.20" y="68.60" width="11.40" height="13.20" fill="#998d76"/>
<rect x="578.00" y="68.60" width="11.40" height="13.20" fill="#998d76"/>
<rect x="588.80" y="68.60" width="11.40" height="13.20" fill="#baa272"/>
<rect x="599.60" y="68.60" width="11.40" height="13.20" fill="#baa272"/>
<rect x="610.40" y="68.60" width="11.40" height="13.20" fill="#998d76"/>
<rect x="545.60" y="81.20" width="11.40" height="13.20" fill="#4caae4"/>
<rect x="556.40" y="81.20" width="11.40" height="13.20" fill="#70cdf4"/>
<rect x="567.20" y="81.20" width="11.40" height="13.20" fill="#70cdf4"/>
<rect x="578.00" y="81.20" width="11.40" height="13.20" fill="#70cdf4"/>
<rect x="588.80" y="81.20" width="11.40" height="13.20" fill="#70cdf4"/>
<rect x="599.60" y="81.20" width="11.40" height="13.20" fill="#70cdf4"/>
<rect x="610.40" y="81.20" width="11.40" height="13.20" fill="#4caae4"/>
</g>
<path d="M551.00 18.20V93.80M556.40 18.20V93.80M561.80 18.20V93.80M567.20 18.20V93.80M572.60 18.20V93.80M578.00 18.20V93.80M583.40 18.20V93.80M588.80 18.20V93.80M594.20 18.20V93.80M599.60 18.20V93.80M605.00 18.20V93.80M610.40 18.20V93.80M615.80 18.20V93.80M545.60 24.50H621.20M545.60 30.80H621.20M545.60 37.10H621.20M545.60 43.40H621.20M545.60 49.70H621.20M545.60 56.00H621.20M545.60 62.30H621.20M545.60 68.60H621.20M545.60 74.90H621.20M545.60 81.20H621.20M545.60 87.50H621.20" stroke="#000" stroke-width="0.5" stroke-dasharray="0.8 0.8" opacity="0.10" fill="none"/>
<path d="M545.5 15.80V94.5H624.70" stroke="#111" stroke-width="1.0" fill="none"/>
<path d="M545.5 13.80l-1.4 3h2.8z M626.70 94.5l-3 -1.4v2.8z" fill="#111"/>
<path d="M545.10 18.50H620.90V93.80" stroke="#222" stroke-width="0.7" stroke-dasharray="1 0.6" fill="none" opacity="0.75"/>
<text x="547.80" y="17.20" font-size="6.5" text-anchor="start" font-weight="bold" font-family="Liberation Serif" >Z</text>
<text x="626.80" y="96.80" font-size="6.8" text-anchor="start" font-weight="bold" font-family="Liberation Serif" >Y</text>
<text x="542.40" y="22.50" font-size="5.6000000000000005" text-anchor="end" font-weight="bold" font-family="Liberation Serif" stroke="#000" stroke-width="0.18">1</text>
<text x="542.60" y="58.60" font-size="5.6000000000000005" text-anchor="end" font-weight="bold" font-family="Liberation Serif" stroke="#000" stroke-width="0.18">0.5</text>
<text x="540.80" y="99.80" font-size="5.6000000000000005" text-anchor="middle" font-weight="bold" font-family="Liberation Serif" stroke="#000" stroke-width="0.18">0</text>
<text x="583.40" y="99.80" font-size="5.6000000000000005" text-anchor="middle" font-weight="bold" font-family="Liberation Serif" stroke="#000" stroke-width="0.18">0.5</text>
<text x="620.90" y="99.80" font-size="5.6000000000000005" text-anchor="middle" font-weight="bold" font-family="Liberation Serif" stroke="#000" stroke-width="0.18">1</text>
<rect x="641.6" y="1.2" width="8.8" height="101.8" fill="url(#cbA)" stroke="#333" stroke-width="0.9"/>
<path d="M649 16.2h1.4M652.8 16.2h1" stroke="#333" stroke-width="0.6"/>
<text transform="translate(655.5 18.5) scale(1 1.18)" font-size="5.9" text-anchor="start" font-weight="bold" font-family="Liberation Serif" >1200</text>
<path d="M649 30.6h1.4M652.8 30.6h1" stroke="#333" stroke-width="0.6"/>
<text transform="translate(655.5 32.9) scale(1 1.18)" font-size="5.9" text-anchor="start" font-weight="bold" font-family="Liberation Serif" >1000</text>
<path d="M649 45.3h1.4M652.8 45.3h1" stroke="#333" stroke-width="0.6"/>
<text transform="translate(655.5 47.599999999999994) scale(1 1.18)" font-size="5.9" text-anchor="start" font-weight="bold" font-family="Liberation Serif" >800</text>
<path d="M649 60.8h1.4M652.8 60.8h1" stroke="#333" stroke-width="0.6"/>
<text transform="translate(655.5 63.099999999999994) scale(1 1.18)" font-size="5.9" text-anchor="start" font-weight="bold" font-family="Liberation Serif" >600</text>
<path d="M649 76.0h1.4M652.8 76.0h1" stroke="#333" stroke-width="0.6"/>
<text transform="translate(655.5 78.3) scale(1 1.18)" font-size="5.9" text-anchor="start" font-weight="bold" font-family="Liberation Serif" >400</text>
<path d="M649 90.8h1.4M652.8 90.8h1" stroke="#333" stroke-width="0.6"/>
<text transform="translate(655.5 93.1) scale(1 1.18)" font-size="5.9" text-anchor="start" font-weight="bold" font-family="Liberation Serif" >200</text>
<text transform="translate(655.5 7.3) scale(1 1.18)" font-size="5.9" text-anchor="start" font-weight="bold" font-family="Liberation Serif" >1400</text>
<text x="669.6" y="7.8" font-size="7.2" text-anchor="start" font-weight="bold" font-family="Liberation Serif" >(°C)</text>
<path d="M11.5 140.40V218.5H91.50" stroke="#333" stroke-width="1.0" fill="none"/>
<path d="M11.5 138.40l-1.4 3h2.8z M93.50 218.5l-3 -1.4v2.8z" fill="#111"/>
<text x="14.20" y="141.80" font-size="6.6000000000000005" text-anchor="start" font-weight="bold" font-family="Liberation Serif" >Z</text>
<text x="93.60" y="221.50" font-size="6.8" text-anchor="start" font-weight="bold" font-family="Liberation Serif" >Y</text>
<text x="8.80" y="147.20" font-size="5.6000000000000005" text-anchor="end" font-weight="bold" font-family="Liberation Serif" stroke="#000" stroke-width="0.18">1</text>
<text x="9.00" y="184.05" font-size="5.6000000000000005" text-anchor="end" font-weight="bold" font-family="Liberation Serif" stroke="#000" stroke-width="0.18">0.5</text>
<text x="7.20" y="224.60" font-size="5.6000000000000005" text-anchor="middle" font-weight="bold" font-family="Liberation Serif" stroke="#000" stroke-width="0.18">0</text>
<text x="50.00" y="224.60" font-size="5.6000000000000005" text-anchor="middle" font-weight="bold" font-family="Liberation Serif" stroke="#000" stroke-width="0.18">0.5</text>
<text x="87.70" y="224.60" font-size="5.6000000000000005" text-anchor="middle" font-weight="bold" font-family="Liberation Serif" stroke="#000" stroke-width="0.18">1</text>
<path d="M118.5 140.40V218.5H198.50" stroke="#333" stroke-width="1.0" fill="none"/>
<path d="M118.5 138.40l-1.4 3h2.8z M200.50 218.5l-3 -1.4v2.8z" fill="#111"/>
<text x="121.20" y="141.80" font-size="6.6000000000000005" text-anchor="start" font-weight="bold" font-family="Liberation Serif" >Z</text>
<text x="200.60" y="221.50" font-size="6.8" text-anchor="start" font-weight="bold" font-family="Liberation Serif" >Y</text>
<text x="115.80" y="147.20" font-size="5.6000000000000005" text-anchor="end" font-weight="bold" font-family="Liberation Serif" stroke="#000" stroke-width="0.18">1</text>
<text x="116.00" y="182.75" font-size="5.6000000000000005" text-anchor="end" font-weight="bold" font-family="Liberation Serif" stroke="#000" stroke-width="0.18">0.5</text>
<text x="114.20" y="224.60" font-size="5.6000000000000005" text-anchor="middle" font-weight="bold" font-family="Liberation Serif" stroke="#000" stroke-width="0.18">0</text>
<text x="157.00" y="224.60" font-size="5.6000000000000005" text-anchor="middle" font-weight="bold" font-family="Liberation Serif" stroke="#000" stroke-width="0.18">0.5</text>
<text x="194.70" y="224.60" font-size="5.6000000000000005" text-anchor="middle" font-weight="bold" font-family="Liberation Serif" stroke="#000" stroke-width="0.18">1</text>
<path d="M224.5 140.40V218.5H304.50" stroke="#333" stroke-width="1.0" fill="none"/>
<path d="M224.5 138.40l-1.4 3h2.8z M306.50 218.5l-3 -1.4v2.8z" fill="#111"/>
<text x="227.20" y="141.80" font-size="6.6000000000000005" text-anchor="start" font-weight="bold" font-family="Liberation Serif" >Z</text>
<text x="306.60" y="221.50" font-size="6.8" text-anchor="start" font-weight="bold" font-family="Liberation Serif" >Y</text>
<text x="221.80" y="147.20" font-size="5.6000000000000005" text-anchor="end" font-weight="bold" font-family="Liberation Serif" stroke="#000" stroke-width="0.18">1</text>
<text x="222.00" y="182.75" font-size="5.6000000000000005" text-anchor="end" font-weight="bold" font-family="Liberation Serif" stroke="#000" stroke-width="0.18">0.5</text>
<text x="220.20" y="224.60" font-size="5.6000000000000005" text-anchor="middle" font-weight="bold" font-family="Liberation Serif" stroke="#000" stroke-width="0.18">0</text>
<text x="263.00" y="224.60" font-size="5.6000000000000005" text-anchor="middle" font-weight="bold" font-family="Liberation Serif" stroke="#000" stroke-width="0.18">0.5</text>
<text x="300.70" y="224.60" font-size="5.6000000000000005" text-anchor="middle" font-weight="bold" font-family="Liberation Serif" stroke="#000" stroke-width="0.18">1</text>
<path d="M331.5 140.40V218.5H411.50" stroke="#333" stroke-width="1.0" fill="none"/>
<path d="M331.5 138.40l-1.4 3h2.8z M413.50 218.5l-3 -1.4v2.8z" fill="#111"/>
<text x="334.20" y="141.80" font-size="6.6000000000000005" text-anchor="start" font-weight="bold" font-family="Liberation Serif" >Z</text>
<text x="413.60" y="221.50" font-size="6.8" text-anchor="start" font-weight="bold" font-family="Liberation Serif" >Y</text>
<text x="328.80" y="147.20" font-size="5.6000000000000005" text-anchor="end" font-weight="bold" font-family="Liberation Serif" stroke="#000" stroke-width="0.18">1</text>
<text x="329.00" y="182.75" font-size="5.6000000000000005" text-anchor="end" font-weight="bold" font-family="Liberation Serif" stroke="#000" stroke-width="0.18">0.5</text>
<text x="327.20" y="224.60" font-size="5.6000000000000005" text-anchor="middle" font-weight="bold" font-family="Liberation Serif" stroke="#000" stroke-width="0.18">0</text>
<text x="370.00" y="224.60" font-size="5.6000000000000005" text-anchor="middle" font-weight="bold" font-family="Liberation Serif" stroke="#000" stroke-width="0.18">0.5</text>
<text x="407.70" y="224.60" font-size="5.6000000000000005" text-anchor="middle" font-weight="bold" font-family="Liberation Serif" stroke="#000" stroke-width="0.18">1</text>
<path d="M438.5 140.40V218.5H518.50" stroke="#333" stroke-width="1.0" fill="none"/>
<path d="M438.5 138.40l-1.4 3h2.8z M520.50 218.5l-3 -1.4v2.8z" fill="#111"/>
<text x="441.20" y="141.80" font-size="6.6000000000000005" text-anchor="start" font-weight="bold" font-family="Liberation Serif" >Z</text>
<text x="520.60" y="221.50" font-size="6.8" text-anchor="start" font-weight="bold" font-family="Liberation Serif" >Y</text>
<text x="435.80" y="147.20" font-size="5.6000000000000005" text-anchor="end" font-weight="bold" font-family="Liberation Serif" stroke="#000" stroke-width="0.18">1</text>
<text x="436.00" y="182.70" font-size="5.6000000000000005" text-anchor="end" font-weight="bold" font-family="Liberation Serif" stroke="#000" stroke-width="0.18">0.5</text>
<text x="434.20" y="224.60" font-size="5.6000000000000005" text-anchor="middle" font-weight="bold" font-family="Liberation Serif" stroke="#000" stroke-width="0.18">0</text>
<text x="477.00" y="224.60" font-size="5.6000000000000005" text-anchor="middle" font-weight="bold" font-family="Liberation Serif" stroke="#000" stroke-width="0.18">0.5</text>
<text x="514.70" y="224.60" font-size="5.6000000000000005" text-anchor="middle" font-weight="bold" font-family="Liberation Serif" stroke="#000" stroke-width="0.18">1</text>
<path d="M544.5 140.40V218.5H624.50" stroke="#333" stroke-width="1.0" fill="none"/>
<path d="M544.5 138.40l-1.4 3h2.8z M626.50 218.5l-3 -1.4v2.8z" fill="#111"/>
<text x="547.20" y="141.80" font-size="6.6000000000000005" text-anchor="start" font-weight="bold" font-family="Liberation Serif" >Z</text>
<text x="626.60" y="221.50" font-size="6.8" text-anchor="start" font-weight="bold" font-family="Liberation Serif" >Y</text>
<text x="541.80" y="147.20" font-size="5.6000000000000005" text-anchor="end" font-weight="bold" font-family="Liberation Serif" stroke="#000" stroke-width="0.18">1</text>
<text x="542.00" y="182.70" font-size="5.6000000000000005" text-anchor="end" font-weight="bold" font-family="Liberation Serif" stroke="#000" stroke-width="0.18">0.5</text>
<text x="540.20" y="224.60" font-size="5.6000000000000005" text-anchor="middle" font-weight="bold" font-family="Liberation Serif" stroke="#000" stroke-width="0.18">0</text>
<text x="583.00" y="224.60" font-size="5.6000000000000005" text-anchor="middle" font-weight="bold" font-family="Liberation Serif" stroke="#000" stroke-width="0.18">0.5</text>
<text x="620.70" y="224.60" font-size="5.6000000000000005" text-anchor="middle" font-weight="bold" font-family="Liberation Serif" stroke="#000" stroke-width="0.18">1</text>
<rect x="645" y="131.8" width="7.6" height="88.6" fill="url(#cbB)" stroke="#888" stroke-width="0.6"/>
<path d="M645.2 148h1.2M651.2 148h1.2" stroke="#444" stroke-width="0.5"/>
<text transform="translate(655.8 150.1) scale(1 1.15)" font-size="5.4" text-anchor="start" font-weight="bold" font-family="Liberation Serif" >25000</text>
<path d="M645.2 161.2h1.2M651.2 161.2h1.2" stroke="#444" stroke-width="0.5"/>
<text transform="translate(655.8 163.29999999999998) scale(1 1.15)" font-size="5.4" text-anchor="start" font-weight="bold" font-family="Liberation Serif" >20000</text>
<path d="M645.2 175.4h1.2M651.2 175.4h1.2" stroke="#444" stroke-width="0.5"/>
<text transform="translate(655.8 177.5) scale(1 1.15)" font-size="5.4" text-anchor="start" font-weight="bold" font-family="Liberation Serif" >15000</text>
<path d="M645.2 189.2h1.2M651.2 189.2h1.2" stroke="#444" stroke-width="0.5"/>
<text transform="translate(655.8 191.29999999999998) scale(1 1.15)" font-size="5.4" text-anchor="start" font-weight="bold" font-family="Liberation Serif" >10000</text>
<path d="M645.2 202.8h1.2M651.2 202.8h1.2" stroke="#444" stroke-width="0.5"/>
<text transform="translate(655.8 204.9) scale(1 1.15)" font-size="5.4" text-anchor="start" font-weight="bold" font-family="Liberation Serif" >5000</text>
<path d="M645.2 216.4h1.2M651.2 216.4h1.2" stroke="#444" stroke-width="0.5"/>
<text transform="translate(655.8 218.5) scale(1 1.15)" font-size="5.4" text-anchor="start" font-weight="bold" font-family="Liberation Serif" >0</text>
<path d="M645.2 134.8h1.2M651.2 134.8h1.2" stroke="#444" stroke-width="0.5"/>
<text transform="translate(655.8 138.1) scale(1 1.15)" font-size="5.4" text-anchor="start" font-weight="bold" font-family="Liberation Serif" >30000</text>
<text x="670.6" y="138.6" font-size="7.0" text-anchor="start" font-weight="bold" font-family="Liberation Serif" >(°C)</text>
<text x="341" y="123.6" font-size="12.6" text-anchor="start" font-weight="bold" font-family="Liberation Serif" >a</text>
<text x="340.6" y="248.2" font-size="12.8" text-anchor="start" font-weight="bold" font-family="Liberation Serif" >b</text>
<text x="341.1" y="340" font-size="12.8" text-anchor="start" font-weight="bold" font-family="Liberation Serif" >c</text>
</svg></body></html>
